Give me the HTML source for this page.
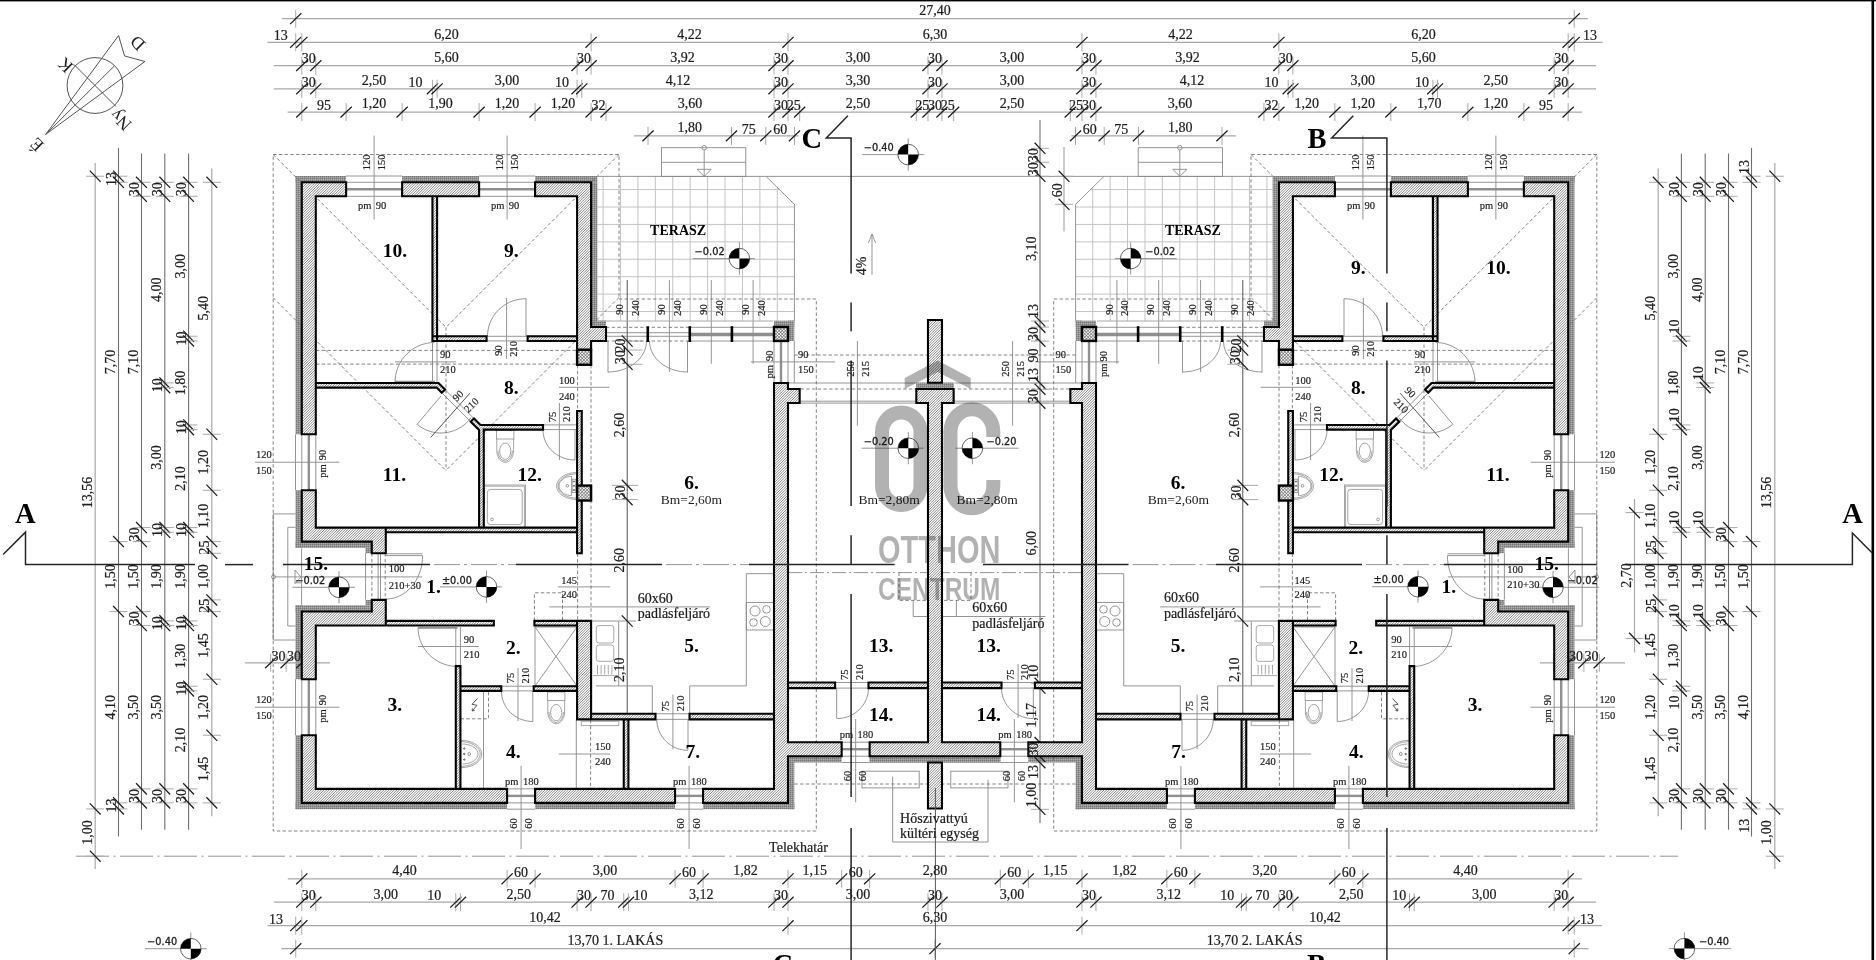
<!DOCTYPE html>
<html lang="hu"><head><meta charset="utf-8"><title>Alaprajz</title>
<style>
html,body{margin:0;padding:0;background:#fff;}
body{width:1876px;height:960px;overflow:hidden;font-family:"Liberation Serif",serif;}
svg{display:block;position:absolute;left:0;top:0;}
text{font-family:"Liberation Serif",serif;fill:#1e1e1e;}
.d{font-size:14px;stroke:#1e1e1e;stroke-width:0.22px;}
.s{font-size:10.5px;stroke:#1e1e1e;stroke-width:0.18px;}
.r{font-size:19.5px;font-weight:bold;fill:#000;}
.R{font-size:28.5px;font-weight:bold;fill:#000;}
.b{font-size:14px;font-weight:bold;fill:#000;}
.bm{font-size:13.5px;}
.lv{font-family:"DejaVu Sans",sans-serif;font-size:9.8px;fill:#222;stroke:#222;stroke-width:0.3px;}
.cp{font-size:18px;}
.t{fill:none;stroke:#8a8a8a;stroke-width:0.9;}
.tl{fill:none;stroke:#a8a8a8;stroke-width:1;}
.tg{fill:none;stroke:#c4c4c4;stroke-width:1;}
.tf{fill:none;stroke:#8e8e8e;stroke-width:0.8;}
.tk{fill:none;stroke:#555;stroke-width:1;}
.gl{fill:none;stroke:#8f8f8f;stroke-width:2.4;}
.dl{fill:none;stroke:#a9a9a9;stroke-width:1.2;}
.dd{fill:none;stroke:#707070;stroke-width:1.1;}
.ex{fill:none;stroke:#aaa;stroke-width:1;}
.sl{fill:none;stroke:#1c1c1c;stroke-width:1.25;}
.da{fill:none;stroke:#666;stroke-width:0.8;stroke-dasharray:3.4 2.3;}
.dc{fill:none;stroke:#8a8a8a;stroke-width:0.9;stroke-dasharray:14 3 2 3;}
.w{fill:none;stroke:#000;stroke-width:2.1;stroke-linejoin:miter;}
.hl{fill:none;stroke:#7c7c7c;stroke-width:0.9;}
.col{fill:url(#x);stroke:#000;stroke-width:2.4;}
.ins{fill:url(#i);stroke:none;}
.sec{fill:none;stroke:#262626;stroke-width:1.5;}
.blk{fill:#000;stroke:none;}
.mu{fill:none;stroke:#000;stroke-width:2.6;}
#wm text{fill:#000;stroke:none;}
</style></head><body>
<svg width="1876" height="960" viewBox="0 0 1876 960">
<defs>
<pattern id="h" patternUnits="userSpaceOnUse" width="1.5" height="1.5" patternTransform="rotate(-45)">
<rect width="1.5" height="1.5" fill="#fff"/><rect width="1.5" height="0.7" fill="#777"/></pattern>
<pattern id="x" patternUnits="userSpaceOnUse" width="2.3" height="2.3" patternTransform="rotate(45)">
<rect width="2.3" height="2.3" fill="#f6f6f6"/><rect width="2.3" height="0.6" fill="#6a6a6a"/><rect width="0.6" height="2.3" fill="#6a6a6a"/></pattern>
<pattern id="i" patternUnits="userSpaceOnUse" width="2" height="2">
<rect width="2" height="2" fill="#939393"/><rect width="1" height="1" fill="#787878"/><rect x="1" y="1" width="1" height="1" fill="#acacac"/></pattern>
<clipPath id="wc"><path d="M346.13 182.3 L301.8 182.3 L301.8 434.26 L315.8 434.26 L315.8 196.3 L346.13 196.3Z M402.12 182.3 L479.11 182.3 L479.11 196.3 L402.12 196.3Z M535.1 182.3 L591.09 182.3 L591.09 326.95 L606.02 326.95 L606.02 340.94 L591.09 340.94 L591.09 349.81 L577.09 349.81 L577.09 196.3 L535.1 196.3Z M301.8 490.26 L315.8 490.26 L315.8 527.58 L385.79 527.58 L385.79 553.25 L371.79 553.25 L371.79 541.58 L301.8 541.58Z M301.8 611.57 L371.79 611.57 L371.79 599.91 L385.79 599.91 L385.79 625.57 L315.8 625.57 L315.8 679.23 L301.8 679.23Z M301.8 735.22 L315.8 735.22 L315.8 788.88 L507.1 788.88 L507.1 802.88 L301.8 802.88Z M535.1 788.88 L675.08 788.88 L675.08 802.88 L535.1 802.88Z M703.08 788.88 L774 788.88 L774 382.94 L788 382.94 L788 389 L799.66 389 L799.66 403 L788 403 L788 742.22 L841.66 742.22 L841.66 756.22 L788 756.22 L788 802.88 L703.08 802.88Z M577.09 620.9 L591.09 620.9 L591.09 719.36 L577.09 719.36Z M432.45 196.3 L437.11 196.3 L437.11 340.94 L432.45 340.94Z M432.45 336.28 L486.57 336.28 L486.57 340.94 L432.45 340.94Z M527.63 336.28 L577.09 336.28 L577.09 340.94 L527.63 340.94Z M315.8 382.94 L438.51 382.94 L445.05 389.47 L441.78 392.74 L436.65 387.6 L315.8 387.6Z M470.71 421.67 L473.98 418.4 L480.51 424.93 L543.03 424.93 L543.03 429.6 L483.77 429.6 L483.77 527.58 L479.11 527.58 L479.11 430.06Z M577.09 410.93 L581.76 410.93 L581.76 553.25 L577.09 553.25Z M385.79 527.58 L577.09 527.58 L577.09 532.25 L385.79 532.25Z M385.79 620.9 L493.81 620.9 L493.81 625.57 L385.79 625.57Z M534.4 620.9 L577.09 620.9 L577.09 625.57 L534.4 625.57Z M455.78 666.16 L460.44 666.16 L460.44 788.88 L455.78 788.88Z M460.44 686.23 L501.27 686.23 L501.27 690.89 L460.44 690.89Z M533.7 686.23 L577.09 686.23 L577.09 690.89 L533.7 690.89Z M591.09 713.76 L655.48 713.76 L655.48 719.36 L591.09 719.36Z M689.54 713.76 L774 713.76 L774 719.36 L689.54 719.36Z M623.75 719.36 L628.42 719.36 L628.42 788.88 L623.75 788.88Z M788 682.5 L835.12 682.5 L835.12 688.09 L788 688.09Z M868.49 682.5 L927.98 682.5 L927.98 688.09 L868.49 688.09Z M1523.87 182.3 L1568.2 182.3 L1568.2 434.26 L1554.2 434.26 L1554.2 196.3 L1523.87 196.3Z M1467.88 182.3 L1390.89 182.3 L1390.89 196.3 L1467.88 196.3Z M1334.9 182.3 L1278.91 182.3 L1278.91 326.95 L1263.98 326.95 L1263.98 340.94 L1278.91 340.94 L1278.91 349.81 L1292.91 349.81 L1292.91 196.3 L1334.9 196.3Z M1568.2 490.26 L1554.2 490.26 L1554.2 527.58 L1484.21 527.58 L1484.21 553.25 L1498.21 553.25 L1498.21 541.58 L1568.2 541.58Z M1568.2 611.57 L1498.21 611.57 L1498.21 599.91 L1484.21 599.91 L1484.21 625.57 L1554.2 625.57 L1554.2 679.23 L1568.2 679.23Z M1568.2 735.22 L1554.2 735.22 L1554.2 788.88 L1362.9 788.88 L1362.9 802.88 L1568.2 802.88Z M1334.9 788.88 L1194.92 788.88 L1194.92 802.88 L1334.9 802.88Z M1166.92 788.88 L1096 788.88 L1096 382.94 L1082 382.94 L1082 389 L1070.34 389 L1070.34 403 L1082 403 L1082 742.22 L1028.34 742.22 L1028.34 756.22 L1082 756.22 L1082 802.88 L1166.92 802.88Z M1292.91 620.9 L1278.91 620.9 L1278.91 719.36 L1292.91 719.36Z M1437.55 196.3 L1432.89 196.3 L1432.89 340.94 L1437.55 340.94Z M1437.55 336.28 L1383.43 336.28 L1383.43 340.94 L1437.55 340.94Z M1342.37 336.28 L1292.91 336.28 L1292.91 340.94 L1342.37 340.94Z M1554.2 382.94 L1431.49 382.94 L1424.95 389.47 L1428.22 392.74 L1433.35 387.6 L1554.2 387.6Z M1399.29 421.67 L1396.02 418.4 L1389.49 424.93 L1326.97 424.93 L1326.97 429.6 L1386.23 429.6 L1386.23 527.58 L1390.89 527.58 L1390.89 430.06Z M1292.91 410.93 L1288.24 410.93 L1288.24 553.25 L1292.91 553.25Z M1484.21 527.58 L1292.91 527.58 L1292.91 532.25 L1484.21 532.25Z M1484.21 620.9 L1376.19 620.9 L1376.19 625.57 L1484.21 625.57Z M1335.6 620.9 L1292.91 620.9 L1292.91 625.57 L1335.6 625.57Z M1414.22 666.16 L1409.56 666.16 L1409.56 788.88 L1414.22 788.88Z M1409.56 686.23 L1368.73 686.23 L1368.73 690.89 L1409.56 690.89Z M1336.3 686.23 L1292.91 686.23 L1292.91 690.89 L1336.3 690.89Z M1278.91 713.76 L1214.52 713.76 L1214.52 719.36 L1278.91 719.36Z M1180.46 713.76 L1096 713.76 L1096 719.36 L1180.46 719.36Z M1246.25 719.36 L1241.58 719.36 L1241.58 788.88 L1246.25 788.88Z M1082 682.5 L1034.88 682.5 L1034.88 688.09 L1082 688.09Z M1001.51 682.5 L942.02 682.5 L942.02 688.09 L1001.51 688.09Z M869.65 742.22 L927.98 742.22 L927.98 403 L916.31 403 L916.31 389 L953.64 389 L953.64 403 L941.98 403 L941.98 742.22 L1000.3 742.22 L1000.3 756.22 L869.65 756.22Z M927.98 319.95 L941.98 319.95 L941.98 382.7 L927.98 382.7Z M927.98 762.52 L941.98 762.52 L941.98 808.48 L927.98 808.48Z"/></clipPath></defs>
<rect x="0" y="0" width="1876" height="960" fill="#fff"/>
<g id="grid">
<line x1="603.1" y1="176.4" x2="603.1" y2="321" class="tg"/>
<line x1="620.52" y1="176.4" x2="620.52" y2="321" class="tg"/>
<line x1="637.94" y1="176.4" x2="637.94" y2="321" class="tg"/>
<line x1="655.36" y1="176.4" x2="655.36" y2="321" class="tg"/>
<line x1="672.78" y1="176.4" x2="672.78" y2="321" class="tg"/>
<line x1="690.2" y1="176.4" x2="690.2" y2="321" class="tg"/>
<line x1="707.62" y1="176.4" x2="707.62" y2="321" class="tg"/>
<line x1="725.04" y1="176.4" x2="725.04" y2="321" class="tg"/>
<line x1="742.46" y1="176.4" x2="742.46" y2="321" class="tg"/>
<line x1="759.88" y1="176.4" x2="759.88" y2="321" class="tg"/>
<line x1="777.3" y1="187.6" x2="777.3" y2="321" class="tg"/>
<line x1="597.39" y1="189.6" x2="779.3" y2="189.6" class="tg"/>
<line x1="597.39" y1="207.02" x2="794.4" y2="207.02" class="tg"/>
<line x1="597.39" y1="224.44" x2="794.4" y2="224.44" class="tg"/>
<line x1="597.39" y1="241.86" x2="794.4" y2="241.86" class="tg"/>
<line x1="597.39" y1="259.28" x2="794.4" y2="259.28" class="tg"/>
<line x1="597.39" y1="276.7" x2="794.4" y2="276.7" class="tg"/>
<line x1="597.39" y1="294.12" x2="794.4" y2="294.12" class="tg"/>
<line x1="597.39" y1="311.54" x2="794.4" y2="311.54" class="tg"/>
<line x1="1266.9" y1="176.4" x2="1266.9" y2="321" class="tg"/>
<line x1="1249.48" y1="176.4" x2="1249.48" y2="321" class="tg"/>
<line x1="1232.06" y1="176.4" x2="1232.06" y2="321" class="tg"/>
<line x1="1214.64" y1="176.4" x2="1214.64" y2="321" class="tg"/>
<line x1="1197.22" y1="176.4" x2="1197.22" y2="321" class="tg"/>
<line x1="1179.8" y1="176.4" x2="1179.8" y2="321" class="tg"/>
<line x1="1162.38" y1="176.4" x2="1162.38" y2="321" class="tg"/>
<line x1="1144.96" y1="176.4" x2="1144.96" y2="321" class="tg"/>
<line x1="1127.54" y1="176.4" x2="1127.54" y2="321" class="tg"/>
<line x1="1110.12" y1="176.4" x2="1110.12" y2="321" class="tg"/>
<line x1="1092.7" y1="187.6" x2="1092.7" y2="321" class="tg"/>
<line x1="1272.61" y1="189.6" x2="1090.7" y2="189.6" class="tg"/>
<line x1="1272.61" y1="207.02" x2="1075.6" y2="207.02" class="tg"/>
<line x1="1272.61" y1="224.44" x2="1075.6" y2="224.44" class="tg"/>
<line x1="1272.61" y1="241.86" x2="1075.6" y2="241.86" class="tg"/>
<line x1="1272.61" y1="259.28" x2="1075.6" y2="259.28" class="tg"/>
<line x1="1272.61" y1="276.7" x2="1075.6" y2="276.7" class="tg"/>
<line x1="1272.61" y1="294.12" x2="1075.6" y2="294.12" class="tg"/>
<line x1="1272.61" y1="311.54" x2="1075.6" y2="311.54" class="tg"/>
</g>
<g id="ins">
<rect x="295.5" y="176" width="50.63" height="6.3" class="ins"/>
<rect x="402.12" y="176" width="76.99" height="6.3" class="ins"/>
<rect x="535.1" y="176" width="62.29" height="6.3" class="ins"/>
<rect x="295.5" y="176" width="6.3" height="258.26" class="ins"/>
<rect x="591.09" y="182.3" width="6.3" height="144.65" class="ins"/>
<rect x="591.09" y="320.65" width="14.93" height="6.3" class="ins"/>
<rect x="295.5" y="490.26" width="6.3" height="57.63" class="ins"/>
<rect x="295.5" y="541.58" width="76.29" height="6.3" class="ins"/>
<rect x="365.49" y="547.88" width="6.3" height="5.37" class="ins"/>
<rect x="295.5" y="605.27" width="76.29" height="6.3" class="ins"/>
<rect x="365.49" y="599.91" width="6.3" height="5.37" class="ins"/>
<rect x="295.5" y="605.27" width="6.3" height="73.96" class="ins"/>
<rect x="295.5" y="735.22" width="6.3" height="73.96" class="ins"/>
<rect x="295.5" y="802.88" width="211.6" height="6.3" class="ins"/>
<rect x="535.1" y="802.88" width="139.98" height="6.3" class="ins"/>
<rect x="703.08" y="802.88" width="91.22" height="6.3" class="ins"/>
<rect x="788" y="756.22" width="6.3" height="52.96" class="ins"/>
<rect x="788" y="756.22" width="53.66" height="6.3" class="ins"/>
<rect x="869.65" y="756.22" width="58.33" height="6.3" class="ins"/>
<rect x="774" y="320.65" width="20.3" height="6.3" class="ins"/>
<rect x="788" y="320.65" width="6.3" height="20.3" class="ins"/>
<rect x="916.31" y="382.7" width="11.66" height="6.3" class="ins"/>
<rect x="1523.87" y="176" width="50.63" height="6.3" class="ins"/>
<rect x="1390.89" y="176" width="76.99" height="6.3" class="ins"/>
<rect x="1272.61" y="176" width="62.29" height="6.3" class="ins"/>
<rect x="1568.2" y="176" width="6.3" height="258.26" class="ins"/>
<rect x="1272.61" y="182.3" width="6.3" height="144.65" class="ins"/>
<rect x="1263.98" y="320.65" width="14.93" height="6.3" class="ins"/>
<rect x="1568.2" y="490.26" width="6.3" height="57.63" class="ins"/>
<rect x="1498.21" y="541.58" width="76.29" height="6.3" class="ins"/>
<rect x="1498.21" y="547.88" width="6.3" height="5.37" class="ins"/>
<rect x="1498.21" y="605.27" width="76.29" height="6.3" class="ins"/>
<rect x="1498.21" y="599.91" width="6.3" height="5.37" class="ins"/>
<rect x="1568.2" y="605.27" width="6.3" height="73.96" class="ins"/>
<rect x="1568.2" y="735.22" width="6.3" height="73.96" class="ins"/>
<rect x="1362.9" y="802.88" width="211.6" height="6.3" class="ins"/>
<rect x="1194.92" y="802.88" width="139.98" height="6.3" class="ins"/>
<rect x="1075.7" y="802.88" width="91.22" height="6.3" class="ins"/>
<rect x="1075.7" y="756.22" width="6.3" height="52.96" class="ins"/>
<rect x="1028.34" y="756.22" width="53.66" height="6.3" class="ins"/>
<rect x="942.02" y="756.22" width="58.33" height="6.3" class="ins"/>
<rect x="1075.7" y="320.65" width="20.3" height="6.3" class="ins"/>
<rect x="1075.7" y="320.65" width="6.3" height="20.3" class="ins"/>
<rect x="942.02" y="382.7" width="11.66" height="6.3" class="ins"/>
<rect x="916.31" y="382.7" width="37.33" height="6.3" class="ins"/>
<rect x="869.65" y="756.22" width="130.65" height="6.3" class="ins"/>
</g>
<g id="thin">
<line x1="346.13" y1="176" x2="402.12" y2="176" class="t"/>
<line x1="346.13" y1="182.3" x2="402.12" y2="182.3" class="t"/>
<line x1="346.13" y1="196.3" x2="402.12" y2="196.3" class="t"/>
<line x1="346.13" y1="189.3" x2="402.12" y2="189.3" class="gl"/>
<line x1="479.11" y1="176" x2="535.1" y2="176" class="t"/>
<line x1="479.11" y1="182.3" x2="535.1" y2="182.3" class="t"/>
<line x1="479.11" y1="196.3" x2="535.1" y2="196.3" class="t"/>
<line x1="479.11" y1="189.3" x2="535.1" y2="189.3" class="gl"/>
<line x1="295.5" y1="434.26" x2="295.5" y2="490.26" class="t"/>
<line x1="301.8" y1="434.26" x2="301.8" y2="490.26" class="t"/>
<line x1="315.8" y1="434.26" x2="315.8" y2="490.26" class="t"/>
<line x1="308.8" y1="434.26" x2="308.8" y2="490.26" class="gl"/>
<line x1="295.5" y1="679.23" x2="295.5" y2="735.22" class="t"/>
<line x1="301.8" y1="679.23" x2="301.8" y2="735.22" class="t"/>
<line x1="315.8" y1="679.23" x2="315.8" y2="735.22" class="t"/>
<line x1="308.8" y1="679.23" x2="308.8" y2="735.22" class="gl"/>
<line x1="507.1" y1="809.18" x2="535.1" y2="809.18" class="t"/>
<line x1="507.1" y1="802.88" x2="535.1" y2="802.88" class="t"/>
<line x1="507.1" y1="788.88" x2="535.1" y2="788.88" class="t"/>
<line x1="507.1" y1="795.88" x2="535.1" y2="795.88" class="gl"/>
<line x1="675.08" y1="809.18" x2="703.08" y2="809.18" class="t"/>
<line x1="675.08" y1="802.88" x2="703.08" y2="802.88" class="t"/>
<line x1="675.08" y1="788.88" x2="703.08" y2="788.88" class="t"/>
<line x1="675.08" y1="795.88" x2="703.08" y2="795.88" class="gl"/>
<line x1="841.66" y1="762.52" x2="869.65" y2="762.52" class="t"/>
<line x1="841.66" y1="756.22" x2="869.65" y2="756.22" class="t"/>
<line x1="841.66" y1="742.22" x2="869.65" y2="742.22" class="t"/>
<line x1="841.66" y1="749.22" x2="869.65" y2="749.22" class="gl"/>
<line x1="794.3" y1="340.94" x2="794.3" y2="382.94" class="t"/>
<line x1="788" y1="340.94" x2="788" y2="382.94" class="t"/>
<line x1="774" y1="340.94" x2="774" y2="382.94" class="t"/>
<line x1="781" y1="340.94" x2="781" y2="382.94" class="gl"/>
<line x1="374.12" y1="135.6" x2="374.12" y2="219.5" class="t"/>
<line x1="507.1" y1="135.6" x2="507.1" y2="219.5" class="t"/>
<line x1="255" y1="462.26" x2="339.4" y2="462.26" class="t"/>
<line x1="255" y1="707.22" x2="339.4" y2="707.22" class="t"/>
<line x1="521.1" y1="765.8" x2="521.1" y2="849" class="t"/>
<line x1="689.08" y1="766" x2="689.08" y2="849" class="t"/>
<line x1="855.65" y1="719" x2="855.65" y2="802.3" class="t"/>
<line x1="751" y1="361.9" x2="835" y2="361.9" class="t"/>
<line x1="689.8" y1="327.3" x2="774" y2="327.3" class="t"/>
<line x1="689.8" y1="341" x2="774" y2="341" class="t"/>
<line x1="606.02" y1="332.7" x2="689.8" y2="332.7" class="t"/>
<line x1="606.02" y1="336.3" x2="689.8" y2="336.3" class="t"/>
<line x1="689.8" y1="334.5" x2="774" y2="334.5" class="gl" style="stroke-width:3.4"/>
<line x1="627.2" y1="280" x2="627.2" y2="718.6" class="tk"/>
<line x1="669.4" y1="280" x2="669.4" y2="372" class="t"/>
<line x1="711.3" y1="280" x2="711.3" y2="363.8" class="t"/>
<line x1="753.1" y1="280" x2="753.1" y2="363.8" class="t"/>
<line x1="608" y1="341" x2="608" y2="372.5" class="t"/>
<polyline points="608,372 611.36,371.88 614.69,371.53 617.96,370.94 621.17,370.13 624.27,369.1 627.25,367.85 630.08,366.39 632.75,364.75 635.22,362.92 637.49,360.93 639.54,358.78 641.34,356.5 642.89,354.1 644.18,351.6 645.19,349.02 645.92,346.38 646.35,343.7 646.5,341" class="t"/>
<line x1="687.5" y1="341" x2="687.5" y2="372.5" class="t"/>
<polyline points="687.5,372 684.19,371.88 680.9,371.53 677.66,370.94 674.5,370.13 671.44,369.1 668.5,367.85 665.7,366.39 663.07,364.75 660.63,362.92 658.39,360.93 656.37,358.78 654.59,356.5 653.06,354.1 651.79,351.6 650.79,349.02 650.08,346.38 649.64,343.7 649.5,341" class="t"/>
<line x1="486.9" y1="336.3" x2="527.5" y2="336.3" class="t"/>
<line x1="486.9" y1="340.9" x2="527.5" y2="340.9" class="t"/>
<line x1="526" y1="298.7" x2="526" y2="336" class="t"/>
<polyline points="526,298.7 522.64,298.84 519.31,299.27 516.04,299.98 512.83,300.97 509.73,302.22 506.75,303.74 503.92,305.5 501.25,307.5 498.78,309.71 496.51,312.13 494.46,314.73 492.66,317.5 491.11,320.41 489.82,323.44 488.81,326.57 488.08,329.77 487.65,333.02 487.5,336.3" class="t"/>
<line x1="506.6" y1="298" x2="506.6" y2="359" class="t"/>
<line x1="432.5" y1="341" x2="432.5" y2="383" class="t"/>
<line x1="437" y1="341" x2="437" y2="383" class="t"/>
<line x1="395" y1="381.6" x2="435" y2="381.6" class="gl" style="stroke-width:1.8"/>
<polyline points="395,382.5 395.15,379.01 395.6,375.55 396.35,372.15 397.38,368.82 398.7,365.6 400.29,362.5 402.14,359.56 404.24,356.79 406.57,354.22 409.11,351.86 411.84,349.73 414.75,347.86 417.81,346.25 420.99,344.91 424.28,343.86 427.64,343.11 431.06,342.65 434.5,342.5" class="t"/>
<line x1="395" y1="361.9" x2="456" y2="361.9" class="t"/>
<line x1="443" y1="394" x2="473" y2="424" class="t"/>
<line x1="446.2" y1="390.8" x2="476.2" y2="420.8" class="t"/>
<line x1="441" y1="396" x2="417" y2="424.4" class="t"/>
<polyline points="417.22,424.34 419.9,426.39 422.75,428.19 425.75,429.71 428.89,430.96 432.12,431.92 435.42,432.58 438.78,432.93 442.15,432.98 445.51,432.72 448.83,432.16 452.09,431.3 455.26,430.14 458.31,428.7 461.21,426.99 463.95,425.02 466.5,422.81 468.83,420.38 470.93,417.75" class="t"/>
<line x1="470" y1="393.1" x2="430.6" y2="437.5" class="tk"/>
<line x1="543.1" y1="424.9" x2="576" y2="424.9" class="t"/>
<line x1="543.1" y1="429.6" x2="576" y2="429.6" class="t"/>
<line x1="575" y1="430" x2="575" y2="460" class="t"/>
<polyline points="575,460 572.21,459.89 569.44,459.54 566.72,458.98 564.06,458.19 561.48,457.19 559,455.98 556.65,454.57 554.43,452.98 552.37,451.21 550.49,449.28 548.79,447.21 547.29,445 546,442.68 544.93,440.26 544.09,437.76 543.49,435.21 543.12,432.61 543,430" class="t"/>
<line x1="559.4" y1="403" x2="559.4" y2="460" class="t"/>
<line x1="559" y1="387.3" x2="609.3" y2="387.3" class="t"/>
<line x1="365.6" y1="553.2" x2="365.6" y2="599.6" class="t"/>
<line x1="378.1" y1="553.2" x2="378.1" y2="599.6" class="t"/>
<line x1="380.5" y1="553.2" x2="380.5" y2="599.6" class="t"/>
<line x1="385.6" y1="553.8" x2="422.5" y2="553.8" class="t"/>
<line x1="385.6" y1="555.6" x2="422.5" y2="555.6" class="t"/>
<polyline points="422.6,555.6 422.46,559.39 422.04,563.15 421.34,566.86 420.37,570.48 419.13,573.98 417.64,577.35 415.91,580.55 413.94,583.56 411.76,586.36 409.38,588.92 406.82,591.23 404.1,593.27 401.24,595.02 398.25,596.48 395.18,597.62 392.02,598.44 388.82,598.93 385.6,599.1" class="t"/>
<line x1="273.5" y1="576.9" x2="422" y2="576.9" class="t"/>
<line x1="455.8" y1="627" x2="455.8" y2="666" class="t"/>
<line x1="460.4" y1="627" x2="460.4" y2="666" class="t"/>
<line x1="418" y1="627.8" x2="457.6" y2="627.8" class="gl" style="stroke-width:1.8"/>
<polyline points="418,627.5 418.15,630.9 418.6,634.27 419.35,637.59 420.39,640.84 421.71,643.98 423.31,647 425.16,649.87 427.26,652.57 429.6,655.08 432.15,657.38 434.89,659.45 437.8,661.27 440.86,662.85 444.06,664.15 447.35,665.17 450.72,665.91 454.15,666.35 457.6,666.5" class="t"/>
<line x1="418" y1="646.5" x2="478.8" y2="646.5" class="t"/>
<line x1="501.3" y1="686.2" x2="533.8" y2="686.2" class="t"/>
<line x1="501.3" y1="690.9" x2="533.8" y2="690.9" class="t"/>
<line x1="532.8" y1="691" x2="532.8" y2="721.5" class="t"/>
<polyline points="532.8,721.5 530.07,721.39 527.36,721.04 524.7,720.48 522.09,719.69 519.57,718.69 517.15,717.48 514.85,716.07 512.68,714.48 510.67,712.71 508.82,710.78 507.16,708.71 505.69,706.5 504.43,704.18 503.39,701.76 502.57,699.26 501.98,696.71 501.62,694.11 501.5,691.5" class="t"/>
<line x1="518" y1="668" x2="518" y2="721" class="t"/>
<line x1="558" y1="586.9" x2="610" y2="586.9" class="t"/>
<line x1="655.5" y1="713.76" x2="689.6" y2="713.76" class="t"/>
<line x1="655.5" y1="719.36" x2="689.6" y2="719.36" class="t"/>
<line x1="688" y1="719.36" x2="688" y2="750" class="t"/>
<polyline points="688,750.36 685.28,750.24 682.58,749.89 679.92,749.3 677.33,748.49 674.81,747.45 672.4,746.2 670.1,744.75 667.95,743.1 665.94,741.28 664.1,739.28 662.44,737.14 660.98,734.86 659.72,732.46 658.68,729.96 657.86,727.38 657.27,724.74 656.92,722.06 656.8,719.36" class="t"/>
<line x1="672.9" y1="694.6" x2="672.9" y2="749.2" class="t"/>
<line x1="835.2" y1="682.5" x2="868.5" y2="682.5" class="t"/>
<line x1="835.2" y1="688.09" x2="868.5" y2="688.09" class="t"/>
<line x1="836.7" y1="688.09" x2="836.7" y2="718.2" class="t"/>
<polyline points="836.7,718.59 839.47,718.48 842.22,718.13 844.93,717.56 847.58,716.76 850.14,715.74 852.6,714.51 854.94,713.08 857.14,711.46 859.19,709.66 861.06,707.7 862.75,705.59 864.24,703.34 865.52,700.98 866.58,698.53 867.42,695.99 868.02,693.39 868.38,690.75 868.5,688.09" class="t"/>
<line x1="558.8" y1="754" x2="610" y2="754" class="t"/>
<line x1="576.3" y1="720" x2="576.3" y2="789" class="t"/>
<rect x="581.3" y="721.3" width="37.5" height="4.3" class="tl"/>
<line x1="483.5" y1="692" x2="483.5" y2="789" class="t"/>
<polyline points="477.5,698.5 472,704.3 477,705.3 472.2,711" class="tk"/>
<polyline points="474.6,710.4 472.2,711 472.4,708.4" class="tk"/>
<rect x="535" y="627" width="42" height="59" class="t"/>
<line x1="535" y1="627" x2="577" y2="686" class="t"/>
<line x1="577" y1="627" x2="535" y2="686" class="t"/>
<line x1="549.4" y1="606.9" x2="710" y2="606.9" class="t"/>
<line x1="592" y1="621" x2="636" y2="621" class="t"/>
<line x1="627.2" y1="341" x2="642.5" y2="341" class="ex"/>
<line x1="627.2" y1="350" x2="642.5" y2="350" class="ex"/>
<line x1="627.2" y1="364.3" x2="642.5" y2="364.3" class="ex"/>
<line x1="612" y1="485.4" x2="638" y2="485.4" class="ex"/>
<line x1="612" y1="499.6" x2="638" y2="499.6" class="ex"/>
<polyline points="618.7,621.4 618.7,685.9" class="t"/>
<polyline points="596,685.9 652.3,685.9 652.3,713.5" class="t"/>
<polyline points="689.7,713.5 689.7,685.9 746.3,685.9 746.3,573.7 774.5,573.7" class="t"/>
<rect x="746.3" y="602.4" width="28.2" height="27.6" class="t"/>
<ellipse cx="755" cy="611" rx="5" ry="5" class="t"/>
<ellipse cx="766.5" cy="609.4" rx="3.8" ry="3.8" class="t"/>
<ellipse cx="753.5" cy="622.5" rx="3.8" ry="3.8" class="t"/>
<ellipse cx="765.3" cy="621.5" rx="5" ry="5" class="t"/>
<rect x="596.3" y="625.6" width="17.5" height="17.4" class="tl" rx="2.5"/>
<rect x="596.3" y="645" width="17.5" height="16.3" class="tl" rx="2.5"/>
<line x1="597.5" y1="665" x2="597.5" y2="674.4" class="tl"/>
<line x1="601.1" y1="665" x2="601.1" y2="674.4" class="tl"/>
<line x1="604.7" y1="665" x2="604.7" y2="674.4" class="tl"/>
<line x1="608.3" y1="665" x2="608.3" y2="674.4" class="tl"/>
<line x1="611.9" y1="665" x2="611.9" y2="674.4" class="tl"/>
<line x1="593" y1="675.6" x2="618" y2="675.6" class="tl"/>
<rect x="496.5" y="430.6" width="17.4" height="8.4" class="tf"/>
<line x1="496.8" y1="439" x2="496.8" y2="450.6" class="tf"/>
<line x1="513.6" y1="439" x2="513.6" y2="450.6" class="tf"/>
<polyline points="513.6,450.6 513.47,452.63 513.09,454.6 512.47,456.45 511.63,458.12 510.6,459.56 509.4,460.73 508.07,461.59 506.66,462.12 505.2,462.3 503.74,462.12 502.33,461.59 501,460.73 499.8,459.56 498.77,458.12 497.93,456.45 497.31,454.6 496.93,452.63 496.8,450.6" class="tf"/>
<polyline points="512.4,450.6 512.29,452.41 511.97,454.16 511.44,455.8 510.72,457.28 509.83,458.57 508.8,459.61 507.66,460.37 506.45,460.84 505.2,461 503.95,460.84 502.74,460.37 501.6,459.61 500.57,458.57 499.68,457.28 498.96,455.8 498.43,454.16 498.11,452.41 498,450.6" class="tf"/>
<ellipse cx="505.2" cy="451.2" rx="5.6" ry="8.2" class="tf"/>
<rect x="547.5" y="692" width="17.4" height="8.4" class="tf"/>
<line x1="547.8" y1="700.4" x2="547.8" y2="712" class="tf"/>
<line x1="564.6" y1="700.4" x2="564.6" y2="712" class="tf"/>
<polyline points="564.6,712 564.47,714.03 564.09,716 563.47,717.85 562.63,719.52 561.6,720.96 560.4,722.13 559.07,722.99 557.66,723.52 556.2,723.7 554.74,723.52 553.33,722.99 552,722.13 550.8,720.96 549.77,719.52 548.93,717.85 548.31,716 547.93,714.03 547.8,712" class="tf"/>
<polyline points="563.4,712 563.29,713.81 562.97,715.56 562.44,717.2 561.72,718.68 560.83,719.97 559.8,721.01 558.66,721.77 557.45,722.24 556.2,722.4 554.95,722.24 553.74,721.77 552.6,721.01 551.57,719.97 550.68,718.68 549.96,717.2 549.43,715.56 549.11,713.81 549,712" class="tf"/>
<ellipse cx="556.2" cy="712.6" rx="5.6" ry="8.2" class="tf"/>
<rect x="484.6" y="485" width="41" height="42.4" class="tf"/>
<line x1="484.6" y1="486.2" x2="524.4" y2="486.2" class="tf"/>
<line x1="524.4" y1="486.2" x2="524.4" y2="527.4" class="tf"/>
<rect x="487.4" y="489.4" width="34.8" height="35.2" class="tf" rx="3"/>
<ellipse cx="492" cy="519.4" rx="1.4" ry="1.4" class="tf"/>
<polyline points="576.3,499.4 572.88,499.2 569.56,498.59 566.45,497.6 563.64,496.26 561.21,494.61 559.24,492.7 557.79,490.58 556.9,488.33 556.6,486 556.9,483.67 557.79,481.42 559.24,479.3 561.21,477.39 563.64,475.74 566.45,474.4 569.56,473.41 572.88,472.8 576.3,472.6" class="tf"/>
<polyline points="576.3,498.1 573.14,497.92 570.08,497.37 567.2,496.48 564.6,495.27 562.36,493.78 560.54,492.05 559.2,490.14 558.38,488.1 558.1,486 558.38,483.9 559.2,481.86 560.54,479.95 562.36,478.22 564.6,476.73 567.2,475.52 570.08,474.63 573.14,474.08 576.3,473.9" class="tf"/>
<polyline points="571.5,495.6 569.35,495.45 567.26,495.02 565.3,494.31 563.53,493.35 562,492.17 560.76,490.8 559.85,489.28 559.29,487.67 559.1,486 559.29,484.33 559.85,482.72 560.76,481.2 562,479.83 563.53,478.65 565.3,477.69 567.26,476.98 569.35,476.55 571.5,476.4" class="tf"/>
<line x1="571.5" y1="476.4" x2="571.5" y2="495.6" class="tf"/>
<rect x="572.2" y="479.2" width="3.6" height="13.2" class="tf"/>
<ellipse cx="567.4" cy="485.8" rx="1.3" ry="1.3" class="t"/>
<ellipse cx="574" cy="481.5" rx="0.6" ry="0.6" class="tk"/>
<ellipse cx="574" cy="485.8" rx="0.6" ry="0.6" class="tk"/>
<ellipse cx="574" cy="490" rx="0.6" ry="0.6" class="tk"/>
<polyline points="460.8,740.3 464.45,740.51 467.98,741.13 471.3,742.14 474.3,743.51 476.89,745.19 478.99,747.15 480.53,749.31 481.48,751.62 481.8,754 481.48,756.38 480.53,758.69 478.99,760.85 476.89,762.81 474.3,764.49 471.3,765.86 467.98,766.87 464.45,767.49 460.8,767.7" class="tf"/>
<polyline points="460.8,741.6 464.17,741.79 467.44,742.35 470.5,743.26 473.27,744.5 475.66,746.03 477.6,747.8 479.03,749.76 479.91,751.85 480.2,754 479.91,756.15 479.03,758.24 477.6,760.2 475.66,761.97 473.27,763.5 470.5,764.74 467.44,765.65 464.17,766.21 460.8,766.4" class="tf"/>
<polyline points="462.5,744 465.19,744.15 467.8,744.6 470.25,745.34 472.46,746.34 474.37,747.57 475.92,749 477.07,750.58 477.76,752.26 478,754 477.76,755.74 477.07,757.42 475.92,759 474.37,760.43 472.46,761.66 470.25,762.66 467.8,763.4 465.19,763.85 462.5,764" class="tf"/>
<ellipse cx="469.2" cy="754" rx="1.3" ry="1.6" class="t"/>
<ellipse cx="464.3" cy="748.5" rx="0.7" ry="0.7" class="tk"/>
<ellipse cx="464.3" cy="754" rx="0.7" ry="0.7" class="tk"/>
<ellipse cx="464.3" cy="759.5" rx="0.7" ry="0.7" class="tk"/>
<line x1="788" y1="383" x2="915.6" y2="383" class="t"/>
<line x1="800.6" y1="401.2" x2="915.6" y2="401.2" class="t"/>
<line x1="800.6" y1="403.1" x2="915.6" y2="403.1" class="t"/>
<line x1="857.4" y1="341" x2="857.4" y2="425.8" class="t"/>
<line x1="788" y1="572.6" x2="935" y2="572.6" class="dc"/>
<polyline points="597.39,176.4 766.1,176.4 794.4,204.3 794.4,321" class="t"/>
<line x1="597.39" y1="321" x2="773" y2="321" class="tl"/>
<rect x="661.5" y="147.7" width="84.3" height="28.7" class="t"/>
<line x1="661.5" y1="162.3" x2="745.8" y2="162.3" class="t"/>
<ellipse cx="704.2" cy="147.7" rx="2.3" ry="2.3" class="t"/>
<line x1="704.2" y1="150" x2="704.2" y2="176.4" class="t"/>
<polygon points="697,169.3 711.2,169.3 704.2,176.4" class="t"/>
<polyline points="295.6,513.9 273.2,513.9 273.2,640 295.6,640" class="t"/>
<polyline points="295.6,527.3 287.8,527.3 287.8,626 295.6,626" class="t"/>
<ellipse cx="273.5" cy="576.9" rx="2" ry="2" class="t"/>
<line x1="301.6" y1="548.3" x2="301.6" y2="605.4" class="t"/>
<line x1="295" y1="582.8" x2="301" y2="582.8" class="t"/>
<polyline points="295,570 301,577 295,583.5 295,570" class="t"/>
<rect x="862" y="771.2" width="57.2" height="16.7" class="t"/>
<polyline points="892.7,776.6 892.7,842 988,842 988,779.7" class="t"/>
<line x1="1523.87" y1="176" x2="1467.88" y2="176" class="t"/>
<line x1="1523.87" y1="182.3" x2="1467.88" y2="182.3" class="t"/>
<line x1="1523.87" y1="196.3" x2="1467.88" y2="196.3" class="t"/>
<line x1="1523.87" y1="189.3" x2="1467.88" y2="189.3" class="gl"/>
<line x1="1390.89" y1="176" x2="1334.9" y2="176" class="t"/>
<line x1="1390.89" y1="182.3" x2="1334.9" y2="182.3" class="t"/>
<line x1="1390.89" y1="196.3" x2="1334.9" y2="196.3" class="t"/>
<line x1="1390.89" y1="189.3" x2="1334.9" y2="189.3" class="gl"/>
<line x1="1574.5" y1="434.26" x2="1574.5" y2="490.26" class="t"/>
<line x1="1568.2" y1="434.26" x2="1568.2" y2="490.26" class="t"/>
<line x1="1554.2" y1="434.26" x2="1554.2" y2="490.26" class="t"/>
<line x1="1561.2" y1="434.26" x2="1561.2" y2="490.26" class="gl"/>
<line x1="1574.5" y1="679.23" x2="1574.5" y2="735.22" class="t"/>
<line x1="1568.2" y1="679.23" x2="1568.2" y2="735.22" class="t"/>
<line x1="1554.2" y1="679.23" x2="1554.2" y2="735.22" class="t"/>
<line x1="1561.2" y1="679.23" x2="1561.2" y2="735.22" class="gl"/>
<line x1="1362.9" y1="809.18" x2="1334.9" y2="809.18" class="t"/>
<line x1="1362.9" y1="802.88" x2="1334.9" y2="802.88" class="t"/>
<line x1="1362.9" y1="788.88" x2="1334.9" y2="788.88" class="t"/>
<line x1="1362.9" y1="795.88" x2="1334.9" y2="795.88" class="gl"/>
<line x1="1194.92" y1="809.18" x2="1166.92" y2="809.18" class="t"/>
<line x1="1194.92" y1="802.88" x2="1166.92" y2="802.88" class="t"/>
<line x1="1194.92" y1="788.88" x2="1166.92" y2="788.88" class="t"/>
<line x1="1194.92" y1="795.88" x2="1166.92" y2="795.88" class="gl"/>
<line x1="1028.34" y1="762.52" x2="1000.35" y2="762.52" class="t"/>
<line x1="1028.34" y1="756.22" x2="1000.35" y2="756.22" class="t"/>
<line x1="1028.34" y1="742.22" x2="1000.35" y2="742.22" class="t"/>
<line x1="1028.34" y1="749.22" x2="1000.35" y2="749.22" class="gl"/>
<line x1="1075.7" y1="340.94" x2="1075.7" y2="382.94" class="t"/>
<line x1="1082" y1="340.94" x2="1082" y2="382.94" class="t"/>
<line x1="1096" y1="340.94" x2="1096" y2="382.94" class="t"/>
<line x1="1089" y1="340.94" x2="1089" y2="382.94" class="gl"/>
<line x1="1495.88" y1="135.6" x2="1495.88" y2="219.5" class="t"/>
<line x1="1362.9" y1="135.6" x2="1362.9" y2="219.5" class="t"/>
<line x1="1615" y1="462.26" x2="1530.6" y2="462.26" class="t"/>
<line x1="1615" y1="707.22" x2="1530.6" y2="707.22" class="t"/>
<line x1="1348.9" y1="765.8" x2="1348.9" y2="849" class="t"/>
<line x1="1180.92" y1="766" x2="1180.92" y2="849" class="t"/>
<line x1="1014.35" y1="719" x2="1014.35" y2="802.3" class="t"/>
<line x1="1119" y1="361.9" x2="1035" y2="361.9" class="t"/>
<line x1="1180.2" y1="327.3" x2="1096" y2="327.3" class="t"/>
<line x1="1180.2" y1="341" x2="1096" y2="341" class="t"/>
<line x1="1263.98" y1="332.7" x2="1180.2" y2="332.7" class="t"/>
<line x1="1263.98" y1="336.3" x2="1180.2" y2="336.3" class="t"/>
<line x1="1180.2" y1="334.5" x2="1096" y2="334.5" class="gl" style="stroke-width:3.4"/>
<line x1="1242.8" y1="280" x2="1242.8" y2="718.6" class="tk"/>
<line x1="1200.6" y1="280" x2="1200.6" y2="372" class="t"/>
<line x1="1158.7" y1="280" x2="1158.7" y2="363.8" class="t"/>
<line x1="1116.9" y1="280" x2="1116.9" y2="363.8" class="t"/>
<line x1="1262" y1="341" x2="1262" y2="372.5" class="t"/>
<polyline points="1262,372 1258.64,371.88 1255.31,371.53 1252.04,370.94 1248.83,370.13 1245.73,369.1 1242.75,367.85 1239.92,366.39 1237.25,364.75 1234.78,362.92 1232.51,360.93 1230.46,358.78 1228.66,356.5 1227.11,354.1 1225.82,351.6 1224.81,349.02 1224.08,346.38 1223.65,343.7 1223.5,341" class="t"/>
<line x1="1182.5" y1="341" x2="1182.5" y2="372.5" class="t"/>
<polyline points="1182.5,372 1185.81,371.88 1189.1,371.53 1192.34,370.94 1195.5,370.13 1198.56,369.1 1201.5,367.85 1204.3,366.39 1206.93,364.75 1209.37,362.92 1211.61,360.93 1213.63,358.78 1215.41,356.5 1216.94,354.1 1218.21,351.6 1219.21,349.02 1219.92,346.38 1220.36,343.7 1220.5,341" class="t"/>
<line x1="1383.1" y1="336.3" x2="1342.5" y2="336.3" class="t"/>
<line x1="1383.1" y1="340.9" x2="1342.5" y2="340.9" class="t"/>
<line x1="1344" y1="298.7" x2="1344" y2="336" class="t"/>
<polyline points="1344,298.7 1347.36,298.84 1350.69,299.27 1353.96,299.98 1357.17,300.97 1360.27,302.22 1363.25,303.74 1366.08,305.5 1368.75,307.5 1371.22,309.71 1373.49,312.13 1375.54,314.73 1377.34,317.5 1378.89,320.41 1380.18,323.44 1381.19,326.57 1381.92,329.77 1382.35,333.02 1382.5,336.3" class="t"/>
<line x1="1363.4" y1="298" x2="1363.4" y2="359" class="t"/>
<line x1="1437.5" y1="341" x2="1437.5" y2="383" class="t"/>
<line x1="1433" y1="341" x2="1433" y2="383" class="t"/>
<line x1="1475" y1="381.6" x2="1435" y2="381.6" class="gl" style="stroke-width:1.8"/>
<polyline points="1475,382.5 1474.85,379.01 1474.4,375.55 1473.65,372.15 1472.62,368.82 1471.3,365.6 1469.71,362.5 1467.86,359.56 1465.76,356.79 1463.43,354.22 1460.89,351.86 1458.16,349.73 1455.25,347.86 1452.19,346.25 1449.01,344.91 1445.72,343.86 1442.36,343.11 1438.94,342.65 1435.5,342.5" class="t"/>
<line x1="1475" y1="361.9" x2="1414" y2="361.9" class="t"/>
<line x1="1427" y1="394" x2="1397" y2="424" class="t"/>
<line x1="1423.8" y1="390.8" x2="1393.8" y2="420.8" class="t"/>
<line x1="1429" y1="396" x2="1453" y2="424.4" class="t"/>
<polyline points="1452.78,424.34 1450.1,426.39 1447.25,428.19 1444.25,429.71 1441.11,430.96 1437.88,431.92 1434.58,432.58 1431.22,432.93 1427.85,432.98 1424.49,432.72 1421.17,432.16 1417.91,431.3 1414.74,430.14 1411.69,428.7 1408.79,426.99 1406.05,425.02 1403.5,422.81 1401.17,420.38 1399.07,417.75" class="t"/>
<line x1="1400" y1="393.1" x2="1439.4" y2="437.5" class="tk"/>
<line x1="1326.9" y1="424.9" x2="1294" y2="424.9" class="t"/>
<line x1="1326.9" y1="429.6" x2="1294" y2="429.6" class="t"/>
<line x1="1295" y1="430" x2="1295" y2="460" class="t"/>
<polyline points="1295,460 1297.79,459.89 1300.56,459.54 1303.28,458.98 1305.94,458.19 1308.52,457.19 1311,455.98 1313.35,454.57 1315.57,452.98 1317.63,451.21 1319.51,449.28 1321.21,447.21 1322.71,445 1324,442.68 1325.07,440.26 1325.91,437.76 1326.51,435.21 1326.88,432.61 1327,430" class="t"/>
<line x1="1310.6" y1="403" x2="1310.6" y2="460" class="t"/>
<line x1="1311" y1="387.3" x2="1260.7" y2="387.3" class="t"/>
<line x1="1504.4" y1="553.2" x2="1504.4" y2="599.6" class="t"/>
<line x1="1491.9" y1="553.2" x2="1491.9" y2="599.6" class="t"/>
<line x1="1489.5" y1="553.2" x2="1489.5" y2="599.6" class="t"/>
<line x1="1484.4" y1="553.8" x2="1447.5" y2="553.8" class="t"/>
<line x1="1484.4" y1="555.6" x2="1447.5" y2="555.6" class="t"/>
<polyline points="1447.4,555.6 1447.54,559.39 1447.96,563.15 1448.66,566.86 1449.63,570.48 1450.87,573.98 1452.36,577.35 1454.09,580.55 1456.06,583.56 1458.24,586.36 1460.62,588.92 1463.18,591.23 1465.9,593.27 1468.76,595.02 1471.75,596.48 1474.82,597.62 1477.98,598.44 1481.18,598.93 1484.4,599.1" class="t"/>
<line x1="1545" y1="576.9" x2="1448" y2="576.9" class="t"/>
<line x1="1596.5" y1="576.9" x2="1575" y2="576.9" class="t"/>
<line x1="1414.2" y1="627" x2="1414.2" y2="666" class="t"/>
<line x1="1409.6" y1="627" x2="1409.6" y2="666" class="t"/>
<line x1="1452" y1="627.8" x2="1412.4" y2="627.8" class="gl" style="stroke-width:1.8"/>
<polyline points="1452,627.5 1451.85,630.9 1451.4,634.27 1450.65,637.59 1449.61,640.84 1448.29,643.98 1446.69,647 1444.84,649.87 1442.74,652.57 1440.4,655.08 1437.85,657.38 1435.11,659.45 1432.2,661.27 1429.14,662.85 1425.94,664.15 1422.65,665.17 1419.28,665.91 1415.85,666.35 1412.4,666.5" class="t"/>
<line x1="1452" y1="646.5" x2="1391.2" y2="646.5" class="t"/>
<line x1="1368.7" y1="686.2" x2="1336.2" y2="686.2" class="t"/>
<line x1="1368.7" y1="690.9" x2="1336.2" y2="690.9" class="t"/>
<line x1="1337.2" y1="691" x2="1337.2" y2="721.5" class="t"/>
<polyline points="1337.2,721.5 1339.93,721.39 1342.64,721.04 1345.3,720.48 1347.91,719.69 1350.43,718.69 1352.85,717.48 1355.15,716.07 1357.32,714.48 1359.33,712.71 1361.18,710.78 1362.84,708.71 1364.31,706.5 1365.57,704.18 1366.61,701.76 1367.43,699.26 1368.02,696.71 1368.38,694.11 1368.5,691.5" class="t"/>
<line x1="1352" y1="668" x2="1352" y2="721" class="t"/>
<line x1="1312" y1="586.9" x2="1260" y2="586.9" class="t"/>
<line x1="1214.5" y1="713.76" x2="1180.4" y2="713.76" class="t"/>
<line x1="1214.5" y1="719.36" x2="1180.4" y2="719.36" class="t"/>
<line x1="1182" y1="719.36" x2="1182" y2="750" class="t"/>
<polyline points="1182,750.36 1184.72,750.24 1187.42,749.89 1190.08,749.3 1192.67,748.49 1195.19,747.45 1197.6,746.2 1199.9,744.75 1202.05,743.1 1204.06,741.28 1205.9,739.28 1207.56,737.14 1209.02,734.86 1210.28,732.46 1211.32,729.96 1212.14,727.38 1212.73,724.74 1213.08,722.06 1213.2,719.36" class="t"/>
<line x1="1197.1" y1="694.6" x2="1197.1" y2="749.2" class="t"/>
<line x1="1034.8" y1="682.5" x2="1001.5" y2="682.5" class="t"/>
<line x1="1034.8" y1="688.09" x2="1001.5" y2="688.09" class="t"/>
<line x1="1033.3" y1="688.09" x2="1033.3" y2="718.2" class="t"/>
<polyline points="1033.3,718.59 1030.53,718.48 1027.78,718.13 1025.07,717.56 1022.42,716.76 1019.86,715.74 1017.4,714.51 1015.06,713.08 1012.86,711.46 1010.81,709.66 1008.94,707.7 1007.25,705.59 1005.76,703.34 1004.48,700.98 1003.42,698.53 1002.58,695.99 1001.98,693.39 1001.62,690.75 1001.5,688.09" class="t"/>
<line x1="1311.2" y1="754" x2="1260" y2="754" class="t"/>
<line x1="1293.7" y1="720" x2="1293.7" y2="789" class="t"/>
<rect x="1251.2" y="721.3" width="37.5" height="4.3" class="tl"/>
<line x1="1386.5" y1="692" x2="1386.5" y2="789" class="t"/>
<polyline points="1392.5,698.5 1398,704.3 1393,705.3 1397.8,711" class="tk"/>
<polyline points="1395.4,710.4 1397.8,711 1397.6,708.4" class="tk"/>
<rect x="1293" y="627" width="42" height="59" class="t"/>
<line x1="1335" y1="627" x2="1293" y2="686" class="t"/>
<line x1="1293" y1="627" x2="1335" y2="686" class="t"/>
<line x1="1320.6" y1="606.9" x2="1160" y2="606.9" class="t"/>
<line x1="1278" y1="621" x2="1234" y2="621" class="t"/>
<line x1="1242.8" y1="341" x2="1227.5" y2="341" class="ex"/>
<line x1="1242.8" y1="350" x2="1227.5" y2="350" class="ex"/>
<line x1="1242.8" y1="364.3" x2="1227.5" y2="364.3" class="ex"/>
<line x1="1258" y1="485.4" x2="1232" y2="485.4" class="ex"/>
<line x1="1258" y1="499.6" x2="1232" y2="499.6" class="ex"/>
<polyline points="1251.3,621.4 1251.3,685.9" class="t"/>
<polyline points="1274,685.9 1217.7,685.9 1217.7,713.5" class="t"/>
<polyline points="1180.3,713.5 1180.3,685.9 1123.7,685.9 1123.7,573.7 1095.5,573.7" class="t"/>
<rect x="1095.5" y="602.4" width="28.2" height="27.6" class="t"/>
<ellipse cx="1115" cy="611" rx="5" ry="5" class="t"/>
<ellipse cx="1103.5" cy="609.4" rx="3.8" ry="3.8" class="t"/>
<ellipse cx="1116.5" cy="622.5" rx="3.8" ry="3.8" class="t"/>
<ellipse cx="1104.7" cy="621.5" rx="5" ry="5" class="t"/>
<rect x="1256.2" y="625.6" width="17.5" height="17.4" class="tl" rx="2.5"/>
<rect x="1256.2" y="645" width="17.5" height="16.3" class="tl" rx="2.5"/>
<line x1="1272.5" y1="665" x2="1272.5" y2="674.4" class="tl"/>
<line x1="1268.9" y1="665" x2="1268.9" y2="674.4" class="tl"/>
<line x1="1265.3" y1="665" x2="1265.3" y2="674.4" class="tl"/>
<line x1="1261.7" y1="665" x2="1261.7" y2="674.4" class="tl"/>
<line x1="1258.1" y1="665" x2="1258.1" y2="674.4" class="tl"/>
<line x1="1277" y1="675.6" x2="1252" y2="675.6" class="tl"/>
<rect x="1356.1" y="430.6" width="17.4" height="8.4" class="tf"/>
<line x1="1373.2" y1="439" x2="1373.2" y2="450.6" class="tf"/>
<line x1="1356.4" y1="439" x2="1356.4" y2="450.6" class="tf"/>
<polyline points="1356.4,450.6 1356.53,452.63 1356.91,454.6 1357.53,456.45 1358.37,458.12 1359.4,459.56 1360.6,460.73 1361.93,461.59 1363.34,462.12 1364.8,462.3 1366.26,462.12 1367.67,461.59 1369,460.73 1370.2,459.56 1371.23,458.12 1372.07,456.45 1372.69,454.6 1373.07,452.63 1373.2,450.6" class="tf"/>
<polyline points="1357.6,450.6 1357.71,452.41 1358.03,454.16 1358.56,455.8 1359.28,457.28 1360.17,458.57 1361.2,459.61 1362.34,460.37 1363.55,460.84 1364.8,461 1366.05,460.84 1367.26,460.37 1368.4,459.61 1369.43,458.57 1370.32,457.28 1371.04,455.8 1371.57,454.16 1371.89,452.41 1372,450.6" class="tf"/>
<ellipse cx="1364.8" cy="451.2" rx="5.6" ry="8.2" class="tf"/>
<rect x="1305.1" y="692" width="17.4" height="8.4" class="tf"/>
<line x1="1322.2" y1="700.4" x2="1322.2" y2="712" class="tf"/>
<line x1="1305.4" y1="700.4" x2="1305.4" y2="712" class="tf"/>
<polyline points="1305.4,712 1305.53,714.03 1305.91,716 1306.53,717.85 1307.37,719.52 1308.4,720.96 1309.6,722.13 1310.93,722.99 1312.34,723.52 1313.8,723.7 1315.26,723.52 1316.67,722.99 1318,722.13 1319.2,720.96 1320.23,719.52 1321.07,717.85 1321.69,716 1322.07,714.03 1322.2,712" class="tf"/>
<polyline points="1306.6,712 1306.71,713.81 1307.03,715.56 1307.56,717.2 1308.28,718.68 1309.17,719.97 1310.2,721.01 1311.34,721.77 1312.55,722.24 1313.8,722.4 1315.05,722.24 1316.26,721.77 1317.4,721.01 1318.43,719.97 1319.32,718.68 1320.04,717.2 1320.57,715.56 1320.89,713.81 1321,712" class="tf"/>
<ellipse cx="1313.8" cy="712.6" rx="5.6" ry="8.2" class="tf"/>
<rect x="1344.4" y="485" width="41" height="42.4" class="tf"/>
<line x1="1385.4" y1="486.2" x2="1345.6" y2="486.2" class="tf"/>
<line x1="1345.6" y1="486.2" x2="1345.6" y2="527.4" class="tf"/>
<rect x="1347.8" y="489.4" width="34.8" height="35.2" class="tf" rx="3"/>
<ellipse cx="1378" cy="519.4" rx="1.4" ry="1.4" class="tf"/>
<polyline points="1293.7,499.4 1297.12,499.2 1300.44,498.59 1303.55,497.6 1306.36,496.26 1308.79,494.61 1310.76,492.7 1312.21,490.58 1313.1,488.33 1313.4,486 1313.1,483.67 1312.21,481.42 1310.76,479.3 1308.79,477.39 1306.36,475.74 1303.55,474.4 1300.44,473.41 1297.12,472.8 1293.7,472.6" class="tf"/>
<polyline points="1293.7,498.1 1296.86,497.92 1299.92,497.37 1302.8,496.48 1305.4,495.27 1307.64,493.78 1309.46,492.05 1310.8,490.14 1311.62,488.1 1311.9,486 1311.62,483.9 1310.8,481.86 1309.46,479.95 1307.64,478.22 1305.4,476.73 1302.8,475.52 1299.92,474.63 1296.86,474.08 1293.7,473.9" class="tf"/>
<polyline points="1298.5,495.6 1300.65,495.45 1302.74,495.02 1304.7,494.31 1306.47,493.35 1308,492.17 1309.24,490.8 1310.15,489.28 1310.71,487.67 1310.9,486 1310.71,484.33 1310.15,482.72 1309.24,481.2 1308,479.83 1306.47,478.65 1304.7,477.69 1302.74,476.98 1300.65,476.55 1298.5,476.4" class="tf"/>
<line x1="1298.5" y1="476.4" x2="1298.5" y2="495.6" class="tf"/>
<rect x="1294.2" y="479.2" width="3.6" height="13.2" class="tf"/>
<ellipse cx="1302.6" cy="485.8" rx="1.3" ry="1.3" class="t"/>
<ellipse cx="1296" cy="481.5" rx="0.6" ry="0.6" class="tk"/>
<ellipse cx="1296" cy="485.8" rx="0.6" ry="0.6" class="tk"/>
<ellipse cx="1296" cy="490" rx="0.6" ry="0.6" class="tk"/>
<polyline points="1409.2,740.3 1405.55,740.51 1402.02,741.13 1398.7,742.14 1395.7,743.51 1393.11,745.19 1391.01,747.15 1389.47,749.31 1388.52,751.62 1388.2,754 1388.52,756.38 1389.47,758.69 1391.01,760.85 1393.11,762.81 1395.7,764.49 1398.7,765.86 1402.02,766.87 1405.55,767.49 1409.2,767.7" class="tf"/>
<polyline points="1409.2,741.6 1405.83,741.79 1402.56,742.35 1399.5,743.26 1396.73,744.5 1394.34,746.03 1392.4,747.8 1390.97,749.76 1390.09,751.85 1389.8,754 1390.09,756.15 1390.97,758.24 1392.4,760.2 1394.34,761.97 1396.73,763.5 1399.5,764.74 1402.56,765.65 1405.83,766.21 1409.2,766.4" class="tf"/>
<polyline points="1407.5,744 1404.81,744.15 1402.2,744.6 1399.75,745.34 1397.54,746.34 1395.63,747.57 1394.08,749 1392.93,750.58 1392.24,752.26 1392,754 1392.24,755.74 1392.93,757.42 1394.08,759 1395.63,760.43 1397.54,761.66 1399.75,762.66 1402.2,763.4 1404.81,763.85 1407.5,764" class="tf"/>
<ellipse cx="1400.8" cy="754" rx="1.3" ry="1.6" class="t"/>
<ellipse cx="1405.7" cy="748.5" rx="0.7" ry="0.7" class="tk"/>
<ellipse cx="1405.7" cy="754" rx="0.7" ry="0.7" class="tk"/>
<ellipse cx="1405.7" cy="759.5" rx="0.7" ry="0.7" class="tk"/>
<line x1="1082" y1="383" x2="954.4" y2="383" class="t"/>
<line x1="1069.4" y1="401.2" x2="954.4" y2="401.2" class="t"/>
<line x1="1069.4" y1="403.1" x2="954.4" y2="403.1" class="t"/>
<line x1="1012.6" y1="341" x2="1012.6" y2="425.8" class="t"/>
<line x1="1082" y1="572.6" x2="935" y2="572.6" class="dc"/>
<polyline points="1272.61,176.4 1103.9,176.4 1075.6,204.3 1075.6,321" class="t"/>
<line x1="1272.61" y1="321" x2="1097" y2="321" class="tl"/>
<rect x="1138.2" y="147.7" width="84.3" height="28.7" class="t"/>
<line x1="1222.5" y1="162.3" x2="1138.2" y2="162.3" class="t"/>
<ellipse cx="1179.8" cy="147.7" rx="2.3" ry="2.3" class="t"/>
<line x1="1179.8" y1="150" x2="1179.8" y2="176.4" class="t"/>
<polygon points="1187,169.3 1172.8,169.3 1179.8,176.4" class="t"/>
<polyline points="1574.4,513.9 1596.8,513.9 1596.8,640 1574.4,640" class="t"/>
<polyline points="1574.4,527.3 1582.2,527.3 1582.2,626 1574.4,626" class="t"/>
<ellipse cx="1596.5" cy="576.9" rx="2" ry="2" class="t"/>
<line x1="1568.4" y1="548.3" x2="1568.4" y2="605.4" class="t"/>
<line x1="1575" y1="582.8" x2="1569" y2="582.8" class="t"/>
<polyline points="1575,570 1569,577 1575,583.5 1575,570" class="t"/>
<rect x="950.8" y="771.2" width="57.2" height="16.7" class="t"/>
<line x1="766.1" y1="176.4" x2="1103.9" y2="176.4" class="t"/>
<line x1="76" y1="856.2" x2="1678" y2="856.2" class="dc" style="stroke-dasharray:33 4.5 2 4.5"/>
<line x1="1018.1" y1="664" x2="1018.1" y2="718" class="t"/>
<line x1="872" y1="274.6" x2="872" y2="234" class="t"/>
<polyline points="868.4,243 872,234 875.6,243" class="t"/>
<ellipse cx="95" cy="85.5" rx="27.9" ry="27.9" class="tk"/>
<polygon points="45.7,134.4 118.6,35.5 124.5,55.9 144.9,61.5" class="tk"/>
<line x1="45.7" y1="134.4" x2="114.5" y2="65.8" class="tk"/>
<line x1="74" y1="64.5" x2="116" y2="106.5" class="tk"/>
<line x1="913.2" y1="600.4" x2="913.2" y2="616.5" class="t"/>
<line x1="956.4" y1="600.4" x2="956.4" y2="616.5" class="t"/>
<line x1="913.2" y1="616.5" x2="1045.3" y2="616.5" class="t"/>
</g>
<g id="dash">
<line x1="606.02" y1="327.3" x2="689.8" y2="327.3" class="da"/>
<line x1="606.02" y1="341" x2="689.8" y2="341" class="da"/>
<line x1="371.9" y1="553.2" x2="371.9" y2="599.6" class="da"/>
<line x1="385.2" y1="553.2" x2="385.2" y2="599.6" class="da"/>
<line x1="590.6" y1="720" x2="590.6" y2="789" class="da"/>
<polyline points="488.5,692 488.5,718.8 460.6,718.8" class="da"/>
<polyline points="534.4,620.6 534.4,592.8 562.5,592.8 562.5,620.6" class="da"/>
<polygon points="273.2,154.5 619,154.5 619,299 816.3,299 816.3,831 273.2,831" class="da"/>
<line x1="273.2" y1="154.5" x2="446" y2="327.3" class="da"/>
<line x1="619" y1="154.5" x2="446" y2="327.3" class="da"/>
<line x1="446" y1="327.3" x2="446" y2="470.5" class="da"/>
<line x1="273.2" y1="297.7" x2="446" y2="470.5" class="da"/>
<line x1="619" y1="297.5" x2="446" y2="470.5" class="da"/>
<line x1="316" y1="350.4" x2="577" y2="350.4" class="da"/>
<line x1="316" y1="364.1" x2="577" y2="364.1" class="da"/>
<line x1="577.6" y1="365" x2="577.6" y2="411" class="da"/>
<line x1="591" y1="365" x2="591" y2="485.4" class="da"/>
<line x1="577.6" y1="553.5" x2="577.6" y2="620.6" class="da"/>
<line x1="591" y1="500" x2="591" y2="620.6" class="da"/>
<line x1="794.4" y1="355" x2="935" y2="355" class="da"/>
<line x1="800.6" y1="389" x2="915.5" y2="389" class="da"/>
<line x1="794.4" y1="784" x2="935" y2="784" class="da"/>
<line x1="1263.98" y1="327.3" x2="1180.2" y2="327.3" class="da"/>
<line x1="1263.98" y1="341" x2="1180.2" y2="341" class="da"/>
<line x1="1498.1" y1="553.2" x2="1498.1" y2="599.6" class="da"/>
<line x1="1484.8" y1="553.2" x2="1484.8" y2="599.6" class="da"/>
<line x1="1279.4" y1="720" x2="1279.4" y2="789" class="da"/>
<polyline points="1381.5,692 1381.5,718.8 1409.4,718.8" class="da"/>
<polyline points="1335.6,620.6 1335.6,592.8 1307.5,592.8 1307.5,620.6" class="da"/>
<polygon points="1596.8,154.5 1251,154.5 1251,299 1053.7,299 1053.7,831 1596.8,831" class="da"/>
<line x1="1596.8" y1="154.5" x2="1424" y2="327.3" class="da"/>
<line x1="1251" y1="154.5" x2="1424" y2="327.3" class="da"/>
<line x1="1424" y1="327.3" x2="1424" y2="470.5" class="da"/>
<line x1="1596.8" y1="297.7" x2="1424" y2="470.5" class="da"/>
<line x1="1251" y1="297.5" x2="1424" y2="470.5" class="da"/>
<line x1="1554" y1="350.4" x2="1293" y2="350.4" class="da"/>
<line x1="1554" y1="364.1" x2="1293" y2="364.1" class="da"/>
<line x1="1292.4" y1="365" x2="1292.4" y2="411" class="da"/>
<line x1="1279" y1="365" x2="1279" y2="485.4" class="da"/>
<line x1="1292.4" y1="553.5" x2="1292.4" y2="620.6" class="da"/>
<line x1="1279" y1="500" x2="1279" y2="620.6" class="da"/>
<line x1="1075.6" y1="355" x2="935" y2="355" class="da"/>
<line x1="1069.4" y1="389" x2="954.5" y2="389" class="da"/>
<line x1="1075.6" y1="784" x2="935" y2="784" class="da"/>
<polyline points="899,572.6 899,600.4 927,600.4" class="da"/>
<polyline points="971,572.6 971,600.4 943,600.4" class="da"/>
</g>
<g id="dim">
<line x1="282" y1="18.7" x2="1588" y2="18.7" class="dl"/>
<line x1="295.73" y1="9.7" x2="295.73" y2="27.7" class="ex"/>
<line x1="290.13" y1="24.1" x2="301.33" y2="13.3" class="sl"/>
<line x1="1574.22" y1="9.7" x2="1574.22" y2="27.7" class="ex"/>
<line x1="1568.62" y1="24.1" x2="1579.82" y2="13.3" class="sl"/>
<line x1="267.5" y1="42.3" x2="1602.5" y2="42.3" class="dl"/>
<line x1="295.73" y1="33.3" x2="295.73" y2="51.3" class="ex"/>
<line x1="290.13" y1="47.7" x2="301.33" y2="36.9" class="sl"/>
<line x1="301.8" y1="33.3" x2="301.8" y2="51.3" class="ex"/>
<line x1="296.2" y1="47.7" x2="307.4" y2="36.9" class="sl"/>
<line x1="591.09" y1="33.3" x2="591.09" y2="51.3" class="ex"/>
<line x1="585.49" y1="47.7" x2="596.69" y2="36.9" class="sl"/>
<line x1="788" y1="33.3" x2="788" y2="51.3" class="ex"/>
<line x1="782.4" y1="47.7" x2="793.6" y2="36.9" class="sl"/>
<line x1="1081.96" y1="33.3" x2="1081.96" y2="51.3" class="ex"/>
<line x1="1076.36" y1="47.7" x2="1087.56" y2="36.9" class="sl"/>
<line x1="1278.86" y1="33.3" x2="1278.86" y2="51.3" class="ex"/>
<line x1="1273.26" y1="47.7" x2="1284.46" y2="36.9" class="sl"/>
<line x1="1568.15" y1="33.3" x2="1568.15" y2="51.3" class="ex"/>
<line x1="1562.55" y1="47.7" x2="1573.75" y2="36.9" class="sl"/>
<line x1="1574.22" y1="33.3" x2="1574.22" y2="51.3" class="ex"/>
<line x1="1568.62" y1="47.7" x2="1579.82" y2="36.9" class="sl"/>
<line x1="273.8" y1="65.6" x2="1596" y2="65.6" class="dl"/>
<line x1="301.8" y1="56.6" x2="301.8" y2="74.6" class="ex"/>
<line x1="296.2" y1="71" x2="307.4" y2="60.2" class="sl"/>
<line x1="315.8" y1="56.6" x2="315.8" y2="74.6" class="ex"/>
<line x1="310.2" y1="71" x2="321.4" y2="60.2" class="sl"/>
<line x1="577.09" y1="56.6" x2="577.09" y2="74.6" class="ex"/>
<line x1="571.49" y1="71" x2="582.69" y2="60.2" class="sl"/>
<line x1="591.09" y1="56.6" x2="591.09" y2="74.6" class="ex"/>
<line x1="585.49" y1="71" x2="596.69" y2="60.2" class="sl"/>
<line x1="774" y1="56.6" x2="774" y2="74.6" class="ex"/>
<line x1="768.4" y1="71" x2="779.6" y2="60.2" class="sl"/>
<line x1="788" y1="56.6" x2="788" y2="74.6" class="ex"/>
<line x1="782.4" y1="71" x2="793.6" y2="60.2" class="sl"/>
<line x1="927.98" y1="56.6" x2="927.98" y2="74.6" class="ex"/>
<line x1="922.38" y1="71" x2="933.58" y2="60.2" class="sl"/>
<line x1="941.98" y1="56.6" x2="941.98" y2="74.6" class="ex"/>
<line x1="936.38" y1="71" x2="947.58" y2="60.2" class="sl"/>
<line x1="1081.96" y1="56.6" x2="1081.96" y2="74.6" class="ex"/>
<line x1="1076.36" y1="71" x2="1087.56" y2="60.2" class="sl"/>
<line x1="1095.95" y1="56.6" x2="1095.95" y2="74.6" class="ex"/>
<line x1="1090.35" y1="71" x2="1101.55" y2="60.2" class="sl"/>
<line x1="1278.86" y1="56.6" x2="1278.86" y2="74.6" class="ex"/>
<line x1="1273.26" y1="71" x2="1284.46" y2="60.2" class="sl"/>
<line x1="1292.86" y1="56.6" x2="1292.86" y2="74.6" class="ex"/>
<line x1="1287.26" y1="71" x2="1298.46" y2="60.2" class="sl"/>
<line x1="1554.15" y1="56.6" x2="1554.15" y2="74.6" class="ex"/>
<line x1="1548.55" y1="71" x2="1559.75" y2="60.2" class="sl"/>
<line x1="1568.15" y1="56.6" x2="1568.15" y2="74.6" class="ex"/>
<line x1="1562.55" y1="71" x2="1573.75" y2="60.2" class="sl"/>
<line x1="273.8" y1="88.8" x2="1596" y2="88.8" class="dl"/>
<line x1="301.8" y1="79.8" x2="301.8" y2="97.8" class="ex"/>
<line x1="296.2" y1="94.2" x2="307.4" y2="83.4" class="sl"/>
<line x1="315.8" y1="79.8" x2="315.8" y2="97.8" class="ex"/>
<line x1="310.2" y1="94.2" x2="321.4" y2="83.4" class="sl"/>
<line x1="432.45" y1="79.8" x2="432.45" y2="97.8" class="ex"/>
<line x1="426.85" y1="94.2" x2="438.05" y2="83.4" class="sl"/>
<line x1="437.11" y1="79.8" x2="437.11" y2="97.8" class="ex"/>
<line x1="431.51" y1="94.2" x2="442.71" y2="83.4" class="sl"/>
<line x1="577.09" y1="79.8" x2="577.09" y2="97.8" class="ex"/>
<line x1="571.49" y1="94.2" x2="582.69" y2="83.4" class="sl"/>
<line x1="581.76" y1="79.8" x2="581.76" y2="97.8" class="ex"/>
<line x1="576.16" y1="94.2" x2="587.36" y2="83.4" class="sl"/>
<line x1="774" y1="79.8" x2="774" y2="97.8" class="ex"/>
<line x1="768.4" y1="94.2" x2="779.6" y2="83.4" class="sl"/>
<line x1="788" y1="79.8" x2="788" y2="97.8" class="ex"/>
<line x1="782.4" y1="94.2" x2="793.6" y2="83.4" class="sl"/>
<line x1="927.98" y1="79.8" x2="927.98" y2="97.8" class="ex"/>
<line x1="922.38" y1="94.2" x2="933.58" y2="83.4" class="sl"/>
<line x1="941.98" y1="79.8" x2="941.98" y2="97.8" class="ex"/>
<line x1="936.38" y1="94.2" x2="947.58" y2="83.4" class="sl"/>
<line x1="1081.96" y1="79.8" x2="1081.96" y2="97.8" class="ex"/>
<line x1="1076.36" y1="94.2" x2="1087.56" y2="83.4" class="sl"/>
<line x1="1095.95" y1="79.8" x2="1095.95" y2="97.8" class="ex"/>
<line x1="1090.35" y1="94.2" x2="1101.55" y2="83.4" class="sl"/>
<line x1="1288.19" y1="79.8" x2="1288.19" y2="97.8" class="ex"/>
<line x1="1282.59" y1="94.2" x2="1293.79" y2="83.4" class="sl"/>
<line x1="1292.86" y1="79.8" x2="1292.86" y2="97.8" class="ex"/>
<line x1="1287.26" y1="94.2" x2="1298.46" y2="83.4" class="sl"/>
<line x1="1432.84" y1="79.8" x2="1432.84" y2="97.8" class="ex"/>
<line x1="1427.24" y1="94.2" x2="1438.44" y2="83.4" class="sl"/>
<line x1="1437.5" y1="79.8" x2="1437.5" y2="97.8" class="ex"/>
<line x1="1431.9" y1="94.2" x2="1443.1" y2="83.4" class="sl"/>
<line x1="1554.15" y1="79.8" x2="1554.15" y2="97.8" class="ex"/>
<line x1="1548.55" y1="94.2" x2="1559.75" y2="83.4" class="sl"/>
<line x1="1568.15" y1="79.8" x2="1568.15" y2="97.8" class="ex"/>
<line x1="1562.55" y1="94.2" x2="1573.75" y2="83.4" class="sl"/>
<line x1="287.6" y1="112.1" x2="1582" y2="112.1" class="dl"/>
<line x1="301.8" y1="103.1" x2="301.8" y2="121.1" class="ex"/>
<line x1="296.2" y1="117.5" x2="307.4" y2="106.7" class="sl"/>
<line x1="346.13" y1="103.1" x2="346.13" y2="121.1" class="ex"/>
<line x1="340.53" y1="117.5" x2="351.73" y2="106.7" class="sl"/>
<line x1="402.12" y1="103.1" x2="402.12" y2="121.1" class="ex"/>
<line x1="396.52" y1="117.5" x2="407.72" y2="106.7" class="sl"/>
<line x1="479.11" y1="103.1" x2="479.11" y2="121.1" class="ex"/>
<line x1="473.51" y1="117.5" x2="484.71" y2="106.7" class="sl"/>
<line x1="535.1" y1="103.1" x2="535.1" y2="121.1" class="ex"/>
<line x1="529.5" y1="117.5" x2="540.7" y2="106.7" class="sl"/>
<line x1="591.09" y1="103.1" x2="591.09" y2="121.1" class="ex"/>
<line x1="585.49" y1="117.5" x2="596.69" y2="106.7" class="sl"/>
<line x1="606.02" y1="103.1" x2="606.02" y2="121.1" class="ex"/>
<line x1="600.42" y1="117.5" x2="611.62" y2="106.7" class="sl"/>
<line x1="774" y1="103.1" x2="774" y2="121.1" class="ex"/>
<line x1="768.4" y1="117.5" x2="779.6" y2="106.7" class="sl"/>
<line x1="788" y1="103.1" x2="788" y2="121.1" class="ex"/>
<line x1="782.4" y1="117.5" x2="793.6" y2="106.7" class="sl"/>
<line x1="799.66" y1="103.1" x2="799.66" y2="121.1" class="ex"/>
<line x1="794.06" y1="117.5" x2="805.26" y2="106.7" class="sl"/>
<line x1="916.31" y1="103.1" x2="916.31" y2="121.1" class="ex"/>
<line x1="910.71" y1="117.5" x2="921.91" y2="106.7" class="sl"/>
<line x1="927.98" y1="103.1" x2="927.98" y2="121.1" class="ex"/>
<line x1="922.38" y1="117.5" x2="933.58" y2="106.7" class="sl"/>
<line x1="941.98" y1="103.1" x2="941.98" y2="121.1" class="ex"/>
<line x1="936.38" y1="117.5" x2="947.58" y2="106.7" class="sl"/>
<line x1="953.64" y1="103.1" x2="953.64" y2="121.1" class="ex"/>
<line x1="948.04" y1="117.5" x2="959.24" y2="106.7" class="sl"/>
<line x1="1070.29" y1="103.1" x2="1070.29" y2="121.1" class="ex"/>
<line x1="1064.69" y1="117.5" x2="1075.89" y2="106.7" class="sl"/>
<line x1="1081.96" y1="103.1" x2="1081.96" y2="121.1" class="ex"/>
<line x1="1076.36" y1="117.5" x2="1087.56" y2="106.7" class="sl"/>
<line x1="1095.95" y1="103.1" x2="1095.95" y2="121.1" class="ex"/>
<line x1="1090.35" y1="117.5" x2="1101.55" y2="106.7" class="sl"/>
<line x1="1263.93" y1="103.1" x2="1263.93" y2="121.1" class="ex"/>
<line x1="1258.33" y1="117.5" x2="1269.53" y2="106.7" class="sl"/>
<line x1="1278.86" y1="103.1" x2="1278.86" y2="121.1" class="ex"/>
<line x1="1273.26" y1="117.5" x2="1284.46" y2="106.7" class="sl"/>
<line x1="1334.85" y1="103.1" x2="1334.85" y2="121.1" class="ex"/>
<line x1="1329.25" y1="117.5" x2="1340.45" y2="106.7" class="sl"/>
<line x1="1390.84" y1="103.1" x2="1390.84" y2="121.1" class="ex"/>
<line x1="1385.24" y1="117.5" x2="1396.44" y2="106.7" class="sl"/>
<line x1="1467.83" y1="103.1" x2="1467.83" y2="121.1" class="ex"/>
<line x1="1462.23" y1="117.5" x2="1473.43" y2="106.7" class="sl"/>
<line x1="1523.83" y1="103.1" x2="1523.83" y2="121.1" class="ex"/>
<line x1="1518.23" y1="117.5" x2="1529.43" y2="106.7" class="sl"/>
<line x1="1568.15" y1="103.1" x2="1568.15" y2="121.1" class="ex"/>
<line x1="1562.55" y1="117.5" x2="1573.75" y2="106.7" class="sl"/>
<line x1="634" y1="135.9" x2="798.6" y2="135.9" class="dl"/>
<line x1="648" y1="126.9" x2="648" y2="144.9" class="ex"/>
<line x1="642.4" y1="141.3" x2="653.6" y2="130.5" class="sl"/>
<line x1="731.5" y1="126.9" x2="731.5" y2="144.9" class="ex"/>
<line x1="725.9" y1="141.3" x2="737.1" y2="130.5" class="sl"/>
<line x1="765.8" y1="126.9" x2="765.8" y2="144.9" class="ex"/>
<line x1="760.2" y1="141.3" x2="771.4" y2="130.5" class="sl"/>
<line x1="794.5" y1="126.9" x2="794.5" y2="144.9" class="ex"/>
<line x1="788.9" y1="141.3" x2="800.1" y2="130.5" class="sl"/>
<line x1="1071.4" y1="135.9" x2="1236" y2="135.9" class="dl"/>
<line x1="1075.5" y1="126.9" x2="1075.5" y2="144.9" class="ex"/>
<line x1="1069.9" y1="141.3" x2="1081.1" y2="130.5" class="sl"/>
<line x1="1104.2" y1="126.9" x2="1104.2" y2="144.9" class="ex"/>
<line x1="1098.6" y1="141.3" x2="1109.8" y2="130.5" class="sl"/>
<line x1="1138.5" y1="126.9" x2="1138.5" y2="144.9" class="ex"/>
<line x1="1132.9" y1="141.3" x2="1144.1" y2="130.5" class="sl"/>
<line x1="1222" y1="126.9" x2="1222" y2="144.9" class="ex"/>
<line x1="1216.4" y1="141.3" x2="1227.6" y2="130.5" class="sl"/>
<line x1="287.8" y1="878.8" x2="1582" y2="878.8" class="dl"/>
<line x1="301.8" y1="869.8" x2="301.8" y2="887.8" class="ex"/>
<line x1="296.2" y1="884.2" x2="307.4" y2="873.4" class="sl"/>
<line x1="507.1" y1="869.8" x2="507.1" y2="887.8" class="ex"/>
<line x1="501.5" y1="884.2" x2="512.7" y2="873.4" class="sl"/>
<line x1="535.1" y1="869.8" x2="535.1" y2="887.8" class="ex"/>
<line x1="529.5" y1="884.2" x2="540.7" y2="873.4" class="sl"/>
<line x1="675.08" y1="869.8" x2="675.08" y2="887.8" class="ex"/>
<line x1="669.48" y1="884.2" x2="680.68" y2="873.4" class="sl"/>
<line x1="703.08" y1="869.8" x2="703.08" y2="887.8" class="ex"/>
<line x1="697.48" y1="884.2" x2="708.68" y2="873.4" class="sl"/>
<line x1="788" y1="869.8" x2="788" y2="887.8" class="ex"/>
<line x1="782.4" y1="884.2" x2="793.6" y2="873.4" class="sl"/>
<line x1="841.66" y1="869.8" x2="841.66" y2="887.8" class="ex"/>
<line x1="836.06" y1="884.2" x2="847.26" y2="873.4" class="sl"/>
<line x1="869.65" y1="869.8" x2="869.65" y2="887.8" class="ex"/>
<line x1="864.05" y1="884.2" x2="875.25" y2="873.4" class="sl"/>
<line x1="1000.3" y1="869.8" x2="1000.3" y2="887.8" class="ex"/>
<line x1="994.7" y1="884.2" x2="1005.9" y2="873.4" class="sl"/>
<line x1="1028.3" y1="869.8" x2="1028.3" y2="887.8" class="ex"/>
<line x1="1022.7" y1="884.2" x2="1033.9" y2="873.4" class="sl"/>
<line x1="1081.96" y1="869.8" x2="1081.96" y2="887.8" class="ex"/>
<line x1="1076.36" y1="884.2" x2="1087.56" y2="873.4" class="sl"/>
<line x1="1166.88" y1="869.8" x2="1166.88" y2="887.8" class="ex"/>
<line x1="1161.28" y1="884.2" x2="1172.48" y2="873.4" class="sl"/>
<line x1="1194.87" y1="869.8" x2="1194.87" y2="887.8" class="ex"/>
<line x1="1189.27" y1="884.2" x2="1200.47" y2="873.4" class="sl"/>
<line x1="1334.85" y1="869.8" x2="1334.85" y2="887.8" class="ex"/>
<line x1="1329.25" y1="884.2" x2="1340.45" y2="873.4" class="sl"/>
<line x1="1362.85" y1="869.8" x2="1362.85" y2="887.8" class="ex"/>
<line x1="1357.25" y1="884.2" x2="1368.45" y2="873.4" class="sl"/>
<line x1="1568.15" y1="869.8" x2="1568.15" y2="887.8" class="ex"/>
<line x1="1562.55" y1="884.2" x2="1573.75" y2="873.4" class="sl"/>
<line x1="274" y1="902.2" x2="1596" y2="902.2" class="dl"/>
<line x1="301.8" y1="893.2" x2="301.8" y2="911.2" class="ex"/>
<line x1="296.2" y1="907.6" x2="307.4" y2="896.8" class="sl"/>
<line x1="315.8" y1="893.2" x2="315.8" y2="911.2" class="ex"/>
<line x1="310.2" y1="907.6" x2="321.4" y2="896.8" class="sl"/>
<line x1="455.78" y1="893.2" x2="455.78" y2="911.2" class="ex"/>
<line x1="450.18" y1="907.6" x2="461.38" y2="896.8" class="sl"/>
<line x1="460.44" y1="893.2" x2="460.44" y2="911.2" class="ex"/>
<line x1="454.84" y1="907.6" x2="466.04" y2="896.8" class="sl"/>
<line x1="577.09" y1="893.2" x2="577.09" y2="911.2" class="ex"/>
<line x1="571.49" y1="907.6" x2="582.69" y2="896.8" class="sl"/>
<line x1="591.09" y1="893.2" x2="591.09" y2="911.2" class="ex"/>
<line x1="585.49" y1="907.6" x2="596.69" y2="896.8" class="sl"/>
<line x1="623.75" y1="893.2" x2="623.75" y2="911.2" class="ex"/>
<line x1="618.15" y1="907.6" x2="629.35" y2="896.8" class="sl"/>
<line x1="628.42" y1="893.2" x2="628.42" y2="911.2" class="ex"/>
<line x1="622.82" y1="907.6" x2="634.02" y2="896.8" class="sl"/>
<line x1="774" y1="893.2" x2="774" y2="911.2" class="ex"/>
<line x1="768.4" y1="907.6" x2="779.6" y2="896.8" class="sl"/>
<line x1="788" y1="893.2" x2="788" y2="911.2" class="ex"/>
<line x1="782.4" y1="907.6" x2="793.6" y2="896.8" class="sl"/>
<line x1="927.98" y1="893.2" x2="927.98" y2="911.2" class="ex"/>
<line x1="922.38" y1="907.6" x2="933.58" y2="896.8" class="sl"/>
<line x1="941.98" y1="893.2" x2="941.98" y2="911.2" class="ex"/>
<line x1="936.38" y1="907.6" x2="947.58" y2="896.8" class="sl"/>
<line x1="1081.96" y1="893.2" x2="1081.96" y2="911.2" class="ex"/>
<line x1="1076.36" y1="907.6" x2="1087.56" y2="896.8" class="sl"/>
<line x1="1095.95" y1="893.2" x2="1095.95" y2="911.2" class="ex"/>
<line x1="1090.35" y1="907.6" x2="1101.55" y2="896.8" class="sl"/>
<line x1="1241.53" y1="893.2" x2="1241.53" y2="911.2" class="ex"/>
<line x1="1235.93" y1="907.6" x2="1247.13" y2="896.8" class="sl"/>
<line x1="1246.2" y1="893.2" x2="1246.2" y2="911.2" class="ex"/>
<line x1="1240.6" y1="907.6" x2="1251.8" y2="896.8" class="sl"/>
<line x1="1278.86" y1="893.2" x2="1278.86" y2="911.2" class="ex"/>
<line x1="1273.26" y1="907.6" x2="1284.46" y2="896.8" class="sl"/>
<line x1="1292.86" y1="893.2" x2="1292.86" y2="911.2" class="ex"/>
<line x1="1287.26" y1="907.6" x2="1298.46" y2="896.8" class="sl"/>
<line x1="1409.51" y1="893.2" x2="1409.51" y2="911.2" class="ex"/>
<line x1="1403.91" y1="907.6" x2="1415.11" y2="896.8" class="sl"/>
<line x1="1414.17" y1="893.2" x2="1414.17" y2="911.2" class="ex"/>
<line x1="1408.57" y1="907.6" x2="1419.77" y2="896.8" class="sl"/>
<line x1="1554.15" y1="893.2" x2="1554.15" y2="911.2" class="ex"/>
<line x1="1548.55" y1="907.6" x2="1559.75" y2="896.8" class="sl"/>
<line x1="1568.15" y1="893.2" x2="1568.15" y2="911.2" class="ex"/>
<line x1="1562.55" y1="907.6" x2="1573.75" y2="896.8" class="sl"/>
<line x1="267.6" y1="925.7" x2="1602" y2="925.7" class="dl"/>
<line x1="295.73" y1="916.7" x2="295.73" y2="934.7" class="ex"/>
<line x1="290.13" y1="931.1" x2="301.33" y2="920.3" class="sl"/>
<line x1="301.8" y1="916.7" x2="301.8" y2="934.7" class="ex"/>
<line x1="296.2" y1="931.1" x2="307.4" y2="920.3" class="sl"/>
<line x1="788" y1="916.7" x2="788" y2="934.7" class="ex"/>
<line x1="782.4" y1="931.1" x2="793.6" y2="920.3" class="sl"/>
<line x1="1081.96" y1="916.7" x2="1081.96" y2="934.7" class="ex"/>
<line x1="1076.36" y1="931.1" x2="1087.56" y2="920.3" class="sl"/>
<line x1="1568.15" y1="916.7" x2="1568.15" y2="934.7" class="ex"/>
<line x1="1562.55" y1="931.1" x2="1573.75" y2="920.3" class="sl"/>
<line x1="1574.22" y1="916.7" x2="1574.22" y2="934.7" class="ex"/>
<line x1="1568.62" y1="931.1" x2="1579.82" y2="920.3" class="sl"/>
<line x1="281.4" y1="948.7" x2="1588.5" y2="948.7" class="dl"/>
<line x1="295.73" y1="939.7" x2="295.73" y2="957.7" class="ex"/>
<line x1="290.13" y1="954.1" x2="301.33" y2="943.3" class="sl"/>
<line x1="934.98" y1="939.7" x2="934.98" y2="957.7" class="ex"/>
<line x1="929.38" y1="954.1" x2="940.58" y2="943.3" class="sl"/>
<line x1="1574.22" y1="939.7" x2="1574.22" y2="957.7" class="ex"/>
<line x1="1568.62" y1="954.1" x2="1579.82" y2="943.3" class="sl"/>
<line x1="95.2" y1="163" x2="95.2" y2="869" class="dl"/>
<line x1="86.2" y1="176.23" x2="104.2" y2="176.23" class="ex"/>
<line x1="89.8" y1="170.63" x2="100.6" y2="181.83" class="sl"/>
<line x1="86.2" y1="808.94" x2="104.2" y2="808.94" class="ex"/>
<line x1="89.8" y1="803.34" x2="100.6" y2="814.54" class="sl"/>
<line x1="86.2" y1="856.2" x2="104.2" y2="856.2" class="ex"/>
<line x1="89.8" y1="850.6" x2="100.6" y2="861.8" class="sl"/>
<line x1="118.5" y1="148" x2="118.5" y2="836.5" class="dd"/>
<line x1="109.5" y1="176.23" x2="127.5" y2="176.23" class="ex"/>
<line x1="113.1" y1="170.63" x2="123.9" y2="181.83" class="sl"/>
<line x1="109.5" y1="182.3" x2="127.5" y2="182.3" class="ex"/>
<line x1="113.1" y1="176.7" x2="123.9" y2="187.9" class="sl"/>
<line x1="109.5" y1="541.58" x2="127.5" y2="541.58" class="ex"/>
<line x1="113.1" y1="535.98" x2="123.9" y2="547.18" class="sl"/>
<line x1="109.5" y1="611.57" x2="127.5" y2="611.57" class="ex"/>
<line x1="113.1" y1="605.97" x2="123.9" y2="617.17" class="sl"/>
<line x1="109.5" y1="802.88" x2="127.5" y2="802.88" class="ex"/>
<line x1="113.1" y1="797.28" x2="123.9" y2="808.48" class="sl"/>
<line x1="109.5" y1="808.94" x2="127.5" y2="808.94" class="ex"/>
<line x1="113.1" y1="803.34" x2="123.9" y2="814.54" class="sl"/>
<line x1="141.5" y1="153.5" x2="141.5" y2="829.8" class="dd"/>
<line x1="132.5" y1="182.3" x2="150.5" y2="182.3" class="ex"/>
<line x1="136.1" y1="176.7" x2="146.9" y2="187.9" class="sl"/>
<line x1="132.5" y1="196.3" x2="150.5" y2="196.3" class="ex"/>
<line x1="136.1" y1="190.7" x2="146.9" y2="201.9" class="sl"/>
<line x1="132.5" y1="527.58" x2="150.5" y2="527.58" class="ex"/>
<line x1="136.1" y1="521.98" x2="146.9" y2="533.18" class="sl"/>
<line x1="132.5" y1="541.58" x2="150.5" y2="541.58" class="ex"/>
<line x1="136.1" y1="535.98" x2="146.9" y2="547.18" class="sl"/>
<line x1="132.5" y1="611.57" x2="150.5" y2="611.57" class="ex"/>
<line x1="136.1" y1="605.97" x2="146.9" y2="617.17" class="sl"/>
<line x1="132.5" y1="625.57" x2="150.5" y2="625.57" class="ex"/>
<line x1="136.1" y1="619.97" x2="146.9" y2="631.17" class="sl"/>
<line x1="132.5" y1="788.88" x2="150.5" y2="788.88" class="ex"/>
<line x1="136.1" y1="783.28" x2="146.9" y2="794.48" class="sl"/>
<line x1="132.5" y1="802.88" x2="150.5" y2="802.88" class="ex"/>
<line x1="136.1" y1="797.28" x2="146.9" y2="808.48" class="sl"/>
<line x1="164.8" y1="153.5" x2="164.8" y2="829.8" class="dd"/>
<line x1="155.8" y1="182.3" x2="173.8" y2="182.3" class="ex"/>
<line x1="159.4" y1="176.7" x2="170.2" y2="187.9" class="sl"/>
<line x1="155.8" y1="196.3" x2="173.8" y2="196.3" class="ex"/>
<line x1="159.4" y1="190.7" x2="170.2" y2="201.9" class="sl"/>
<line x1="155.8" y1="382.94" x2="173.8" y2="382.94" class="ex"/>
<line x1="159.4" y1="377.34" x2="170.2" y2="388.54" class="sl"/>
<line x1="155.8" y1="387.6" x2="173.8" y2="387.6" class="ex"/>
<line x1="159.4" y1="382" x2="170.2" y2="393.2" class="sl"/>
<line x1="155.8" y1="527.58" x2="173.8" y2="527.58" class="ex"/>
<line x1="159.4" y1="521.98" x2="170.2" y2="533.18" class="sl"/>
<line x1="155.8" y1="532.25" x2="173.8" y2="532.25" class="ex"/>
<line x1="159.4" y1="526.65" x2="170.2" y2="537.85" class="sl"/>
<line x1="155.8" y1="620.9" x2="173.8" y2="620.9" class="ex"/>
<line x1="159.4" y1="615.3" x2="170.2" y2="626.5" class="sl"/>
<line x1="155.8" y1="625.57" x2="173.8" y2="625.57" class="ex"/>
<line x1="159.4" y1="619.97" x2="170.2" y2="631.17" class="sl"/>
<line x1="155.8" y1="788.88" x2="173.8" y2="788.88" class="ex"/>
<line x1="159.4" y1="783.28" x2="170.2" y2="794.48" class="sl"/>
<line x1="155.8" y1="802.88" x2="173.8" y2="802.88" class="ex"/>
<line x1="159.4" y1="797.28" x2="170.2" y2="808.48" class="sl"/>
<line x1="188.6" y1="153.5" x2="188.6" y2="829.8" class="dd"/>
<line x1="179.6" y1="182.3" x2="197.6" y2="182.3" class="ex"/>
<line x1="183.2" y1="176.7" x2="194" y2="187.9" class="sl"/>
<line x1="179.6" y1="196.3" x2="197.6" y2="196.3" class="ex"/>
<line x1="183.2" y1="190.7" x2="194" y2="201.9" class="sl"/>
<line x1="179.6" y1="336.28" x2="197.6" y2="336.28" class="ex"/>
<line x1="183.2" y1="330.68" x2="194" y2="341.88" class="sl"/>
<line x1="179.6" y1="340.94" x2="197.6" y2="340.94" class="ex"/>
<line x1="183.2" y1="335.34" x2="194" y2="346.54" class="sl"/>
<line x1="179.6" y1="424.93" x2="197.6" y2="424.93" class="ex"/>
<line x1="183.2" y1="419.33" x2="194" y2="430.53" class="sl"/>
<line x1="179.6" y1="429.6" x2="197.6" y2="429.6" class="ex"/>
<line x1="183.2" y1="424" x2="194" y2="435.2" class="sl"/>
<line x1="179.6" y1="527.58" x2="197.6" y2="527.58" class="ex"/>
<line x1="183.2" y1="521.98" x2="194" y2="533.18" class="sl"/>
<line x1="179.6" y1="532.25" x2="197.6" y2="532.25" class="ex"/>
<line x1="183.2" y1="526.65" x2="194" y2="537.85" class="sl"/>
<line x1="179.6" y1="620.9" x2="197.6" y2="620.9" class="ex"/>
<line x1="183.2" y1="615.3" x2="194" y2="626.5" class="sl"/>
<line x1="179.6" y1="625.57" x2="197.6" y2="625.57" class="ex"/>
<line x1="183.2" y1="619.97" x2="194" y2="631.17" class="sl"/>
<line x1="179.6" y1="686.23" x2="197.6" y2="686.23" class="ex"/>
<line x1="183.2" y1="680.63" x2="194" y2="691.83" class="sl"/>
<line x1="179.6" y1="690.89" x2="197.6" y2="690.89" class="ex"/>
<line x1="183.2" y1="685.29" x2="194" y2="696.49" class="sl"/>
<line x1="179.6" y1="788.88" x2="197.6" y2="788.88" class="ex"/>
<line x1="183.2" y1="783.28" x2="194" y2="794.48" class="sl"/>
<line x1="179.6" y1="802.88" x2="197.6" y2="802.88" class="ex"/>
<line x1="183.2" y1="797.28" x2="194" y2="808.48" class="sl"/>
<line x1="211.8" y1="168.4" x2="211.8" y2="816.3" class="dl"/>
<line x1="202.8" y1="182.3" x2="220.8" y2="182.3" class="ex"/>
<line x1="206.4" y1="176.7" x2="217.2" y2="187.9" class="sl"/>
<line x1="202.8" y1="434.26" x2="220.8" y2="434.26" class="ex"/>
<line x1="206.4" y1="428.66" x2="217.2" y2="439.86" class="sl"/>
<line x1="202.8" y1="490.26" x2="220.8" y2="490.26" class="ex"/>
<line x1="206.4" y1="484.66" x2="217.2" y2="495.86" class="sl"/>
<line x1="202.8" y1="541.58" x2="220.8" y2="541.58" class="ex"/>
<line x1="206.4" y1="535.98" x2="217.2" y2="547.18" class="sl"/>
<line x1="202.8" y1="553.25" x2="220.8" y2="553.25" class="ex"/>
<line x1="206.4" y1="547.65" x2="217.2" y2="558.85" class="sl"/>
<line x1="202.8" y1="599.91" x2="220.8" y2="599.91" class="ex"/>
<line x1="206.4" y1="594.31" x2="217.2" y2="605.51" class="sl"/>
<line x1="202.8" y1="611.57" x2="220.8" y2="611.57" class="ex"/>
<line x1="206.4" y1="605.97" x2="217.2" y2="617.17" class="sl"/>
<line x1="202.8" y1="679.23" x2="220.8" y2="679.23" class="ex"/>
<line x1="206.4" y1="673.63" x2="217.2" y2="684.83" class="sl"/>
<line x1="202.8" y1="735.22" x2="220.8" y2="735.22" class="ex"/>
<line x1="206.4" y1="729.62" x2="217.2" y2="740.82" class="sl"/>
<line x1="202.8" y1="802.88" x2="220.8" y2="802.88" class="ex"/>
<line x1="206.4" y1="797.28" x2="217.2" y2="808.48" class="sl"/>
<line x1="1774.8" y1="163" x2="1774.8" y2="869" class="dl"/>
<line x1="1765.8" y1="176.23" x2="1783.8" y2="176.23" class="ex"/>
<line x1="1769.4" y1="170.63" x2="1780.2" y2="181.83" class="sl"/>
<line x1="1765.8" y1="808.94" x2="1783.8" y2="808.94" class="ex"/>
<line x1="1769.4" y1="803.34" x2="1780.2" y2="814.54" class="sl"/>
<line x1="1765.8" y1="856.2" x2="1783.8" y2="856.2" class="ex"/>
<line x1="1769.4" y1="850.6" x2="1780.2" y2="861.8" class="sl"/>
<line x1="1751.5" y1="148" x2="1751.5" y2="836.5" class="dd"/>
<line x1="1742.5" y1="176.23" x2="1760.5" y2="176.23" class="ex"/>
<line x1="1746.1" y1="170.63" x2="1756.9" y2="181.83" class="sl"/>
<line x1="1742.5" y1="182.3" x2="1760.5" y2="182.3" class="ex"/>
<line x1="1746.1" y1="176.7" x2="1756.9" y2="187.9" class="sl"/>
<line x1="1742.5" y1="541.58" x2="1760.5" y2="541.58" class="ex"/>
<line x1="1746.1" y1="535.98" x2="1756.9" y2="547.18" class="sl"/>
<line x1="1742.5" y1="611.57" x2="1760.5" y2="611.57" class="ex"/>
<line x1="1746.1" y1="605.97" x2="1756.9" y2="617.17" class="sl"/>
<line x1="1742.5" y1="802.88" x2="1760.5" y2="802.88" class="ex"/>
<line x1="1746.1" y1="797.28" x2="1756.9" y2="808.48" class="sl"/>
<line x1="1742.5" y1="808.94" x2="1760.5" y2="808.94" class="ex"/>
<line x1="1746.1" y1="803.34" x2="1756.9" y2="814.54" class="sl"/>
<line x1="1728.5" y1="153.5" x2="1728.5" y2="829.8" class="dd"/>
<line x1="1719.5" y1="182.3" x2="1737.5" y2="182.3" class="ex"/>
<line x1="1723.1" y1="176.7" x2="1733.9" y2="187.9" class="sl"/>
<line x1="1719.5" y1="196.3" x2="1737.5" y2="196.3" class="ex"/>
<line x1="1723.1" y1="190.7" x2="1733.9" y2="201.9" class="sl"/>
<line x1="1719.5" y1="527.58" x2="1737.5" y2="527.58" class="ex"/>
<line x1="1723.1" y1="521.98" x2="1733.9" y2="533.18" class="sl"/>
<line x1="1719.5" y1="541.58" x2="1737.5" y2="541.58" class="ex"/>
<line x1="1723.1" y1="535.98" x2="1733.9" y2="547.18" class="sl"/>
<line x1="1719.5" y1="611.57" x2="1737.5" y2="611.57" class="ex"/>
<line x1="1723.1" y1="605.97" x2="1733.9" y2="617.17" class="sl"/>
<line x1="1719.5" y1="625.57" x2="1737.5" y2="625.57" class="ex"/>
<line x1="1723.1" y1="619.97" x2="1733.9" y2="631.17" class="sl"/>
<line x1="1719.5" y1="788.88" x2="1737.5" y2="788.88" class="ex"/>
<line x1="1723.1" y1="783.28" x2="1733.9" y2="794.48" class="sl"/>
<line x1="1719.5" y1="802.88" x2="1737.5" y2="802.88" class="ex"/>
<line x1="1723.1" y1="797.28" x2="1733.9" y2="808.48" class="sl"/>
<line x1="1705.2" y1="153.5" x2="1705.2" y2="829.8" class="dd"/>
<line x1="1696.2" y1="182.3" x2="1714.2" y2="182.3" class="ex"/>
<line x1="1699.8" y1="176.7" x2="1710.6" y2="187.9" class="sl"/>
<line x1="1696.2" y1="196.3" x2="1714.2" y2="196.3" class="ex"/>
<line x1="1699.8" y1="190.7" x2="1710.6" y2="201.9" class="sl"/>
<line x1="1696.2" y1="382.94" x2="1714.2" y2="382.94" class="ex"/>
<line x1="1699.8" y1="377.34" x2="1710.6" y2="388.54" class="sl"/>
<line x1="1696.2" y1="387.6" x2="1714.2" y2="387.6" class="ex"/>
<line x1="1699.8" y1="382" x2="1710.6" y2="393.2" class="sl"/>
<line x1="1696.2" y1="527.58" x2="1714.2" y2="527.58" class="ex"/>
<line x1="1699.8" y1="521.98" x2="1710.6" y2="533.18" class="sl"/>
<line x1="1696.2" y1="532.25" x2="1714.2" y2="532.25" class="ex"/>
<line x1="1699.8" y1="526.65" x2="1710.6" y2="537.85" class="sl"/>
<line x1="1696.2" y1="620.9" x2="1714.2" y2="620.9" class="ex"/>
<line x1="1699.8" y1="615.3" x2="1710.6" y2="626.5" class="sl"/>
<line x1="1696.2" y1="625.57" x2="1714.2" y2="625.57" class="ex"/>
<line x1="1699.8" y1="619.97" x2="1710.6" y2="631.17" class="sl"/>
<line x1="1696.2" y1="788.88" x2="1714.2" y2="788.88" class="ex"/>
<line x1="1699.8" y1="783.28" x2="1710.6" y2="794.48" class="sl"/>
<line x1="1696.2" y1="802.88" x2="1714.2" y2="802.88" class="ex"/>
<line x1="1699.8" y1="797.28" x2="1710.6" y2="808.48" class="sl"/>
<line x1="1681.4" y1="153.5" x2="1681.4" y2="829.8" class="dd"/>
<line x1="1672.4" y1="182.3" x2="1690.4" y2="182.3" class="ex"/>
<line x1="1676" y1="176.7" x2="1686.8" y2="187.9" class="sl"/>
<line x1="1672.4" y1="196.3" x2="1690.4" y2="196.3" class="ex"/>
<line x1="1676" y1="190.7" x2="1686.8" y2="201.9" class="sl"/>
<line x1="1672.4" y1="336.28" x2="1690.4" y2="336.28" class="ex"/>
<line x1="1676" y1="330.68" x2="1686.8" y2="341.88" class="sl"/>
<line x1="1672.4" y1="340.94" x2="1690.4" y2="340.94" class="ex"/>
<line x1="1676" y1="335.34" x2="1686.8" y2="346.54" class="sl"/>
<line x1="1672.4" y1="424.93" x2="1690.4" y2="424.93" class="ex"/>
<line x1="1676" y1="419.33" x2="1686.8" y2="430.53" class="sl"/>
<line x1="1672.4" y1="429.6" x2="1690.4" y2="429.6" class="ex"/>
<line x1="1676" y1="424" x2="1686.8" y2="435.2" class="sl"/>
<line x1="1672.4" y1="527.58" x2="1690.4" y2="527.58" class="ex"/>
<line x1="1676" y1="521.98" x2="1686.8" y2="533.18" class="sl"/>
<line x1="1672.4" y1="532.25" x2="1690.4" y2="532.25" class="ex"/>
<line x1="1676" y1="526.65" x2="1686.8" y2="537.85" class="sl"/>
<line x1="1672.4" y1="620.9" x2="1690.4" y2="620.9" class="ex"/>
<line x1="1676" y1="615.3" x2="1686.8" y2="626.5" class="sl"/>
<line x1="1672.4" y1="625.57" x2="1690.4" y2="625.57" class="ex"/>
<line x1="1676" y1="619.97" x2="1686.8" y2="631.17" class="sl"/>
<line x1="1672.4" y1="686.23" x2="1690.4" y2="686.23" class="ex"/>
<line x1="1676" y1="680.63" x2="1686.8" y2="691.83" class="sl"/>
<line x1="1672.4" y1="690.89" x2="1690.4" y2="690.89" class="ex"/>
<line x1="1676" y1="685.29" x2="1686.8" y2="696.49" class="sl"/>
<line x1="1672.4" y1="788.88" x2="1690.4" y2="788.88" class="ex"/>
<line x1="1676" y1="783.28" x2="1686.8" y2="794.48" class="sl"/>
<line x1="1672.4" y1="802.88" x2="1690.4" y2="802.88" class="ex"/>
<line x1="1676" y1="797.28" x2="1686.8" y2="808.48" class="sl"/>
<line x1="1658.2" y1="168.4" x2="1658.2" y2="816.3" class="dl"/>
<line x1="1649.2" y1="182.3" x2="1667.2" y2="182.3" class="ex"/>
<line x1="1652.8" y1="176.7" x2="1663.6" y2="187.9" class="sl"/>
<line x1="1649.2" y1="434.26" x2="1667.2" y2="434.26" class="ex"/>
<line x1="1652.8" y1="428.66" x2="1663.6" y2="439.86" class="sl"/>
<line x1="1649.2" y1="490.26" x2="1667.2" y2="490.26" class="ex"/>
<line x1="1652.8" y1="484.66" x2="1663.6" y2="495.86" class="sl"/>
<line x1="1649.2" y1="541.58" x2="1667.2" y2="541.58" class="ex"/>
<line x1="1652.8" y1="535.98" x2="1663.6" y2="547.18" class="sl"/>
<line x1="1649.2" y1="553.25" x2="1667.2" y2="553.25" class="ex"/>
<line x1="1652.8" y1="547.65" x2="1663.6" y2="558.85" class="sl"/>
<line x1="1649.2" y1="599.91" x2="1667.2" y2="599.91" class="ex"/>
<line x1="1652.8" y1="594.31" x2="1663.6" y2="605.51" class="sl"/>
<line x1="1649.2" y1="611.57" x2="1667.2" y2="611.57" class="ex"/>
<line x1="1652.8" y1="605.97" x2="1663.6" y2="617.17" class="sl"/>
<line x1="1649.2" y1="679.23" x2="1667.2" y2="679.23" class="ex"/>
<line x1="1652.8" y1="673.63" x2="1663.6" y2="684.83" class="sl"/>
<line x1="1649.2" y1="735.22" x2="1667.2" y2="735.22" class="ex"/>
<line x1="1652.8" y1="729.62" x2="1663.6" y2="740.82" class="sl"/>
<line x1="1649.2" y1="802.88" x2="1667.2" y2="802.88" class="ex"/>
<line x1="1652.8" y1="797.28" x2="1663.6" y2="808.48" class="sl"/>
<line x1="1634.5" y1="499" x2="1634.5" y2="652.5" class="dl"/>
<line x1="1625.5" y1="512.6" x2="1643.5" y2="512.6" class="ex"/>
<line x1="1629.1" y1="507" x2="1639.9" y2="518.2" class="sl"/>
<line x1="1625.5" y1="638.4" x2="1643.5" y2="638.4" class="ex"/>
<line x1="1629.1" y1="632.8" x2="1639.9" y2="644" class="sl"/>
<line x1="245" y1="662.8" x2="330" y2="662.8" class="dl"/>
<line x1="270.7" y1="653.8" x2="270.7" y2="671.8" class="ex"/>
<line x1="265.1" y1="668.2" x2="276.3" y2="657.4" class="sl"/>
<line x1="286.1" y1="653.8" x2="286.1" y2="671.8" class="ex"/>
<line x1="280.5" y1="668.2" x2="291.7" y2="657.4" class="sl"/>
<line x1="301.8" y1="653.8" x2="301.8" y2="671.8" class="ex"/>
<line x1="296.2" y1="668.2" x2="307.4" y2="657.4" class="sl"/>
<line x1="1540" y1="662.8" x2="1625" y2="662.8" class="dl"/>
<line x1="1568.2" y1="653.8" x2="1568.2" y2="671.8" class="ex"/>
<line x1="1562.6" y1="668.2" x2="1573.8" y2="657.4" class="sl"/>
<line x1="1583.9" y1="653.8" x2="1583.9" y2="671.8" class="ex"/>
<line x1="1578.3" y1="668.2" x2="1589.5" y2="657.4" class="sl"/>
<line x1="1599.3" y1="653.8" x2="1599.3" y2="671.8" class="ex"/>
<line x1="1593.7" y1="668.2" x2="1604.9" y2="657.4" class="sl"/>
<line x1="1040" y1="120" x2="1040" y2="823" class="dd"/>
<line x1="1031" y1="148.3" x2="1049" y2="148.3" class="ex"/>
<line x1="1034.6" y1="142.7" x2="1045.4" y2="153.9" class="sl"/>
<line x1="1031" y1="162.3" x2="1049" y2="162.3" class="ex"/>
<line x1="1034.6" y1="156.7" x2="1045.4" y2="167.9" class="sl"/>
<line x1="1031" y1="176.3" x2="1049" y2="176.3" class="ex"/>
<line x1="1034.6" y1="170.7" x2="1045.4" y2="181.9" class="sl"/>
<line x1="1031" y1="321" x2="1049" y2="321" class="ex"/>
<line x1="1034.6" y1="315.4" x2="1045.4" y2="326.6" class="sl"/>
<line x1="1031" y1="327.1" x2="1049" y2="327.1" class="ex"/>
<line x1="1034.6" y1="321.5" x2="1045.4" y2="332.7" class="sl"/>
<line x1="1031" y1="341.1" x2="1049" y2="341.1" class="ex"/>
<line x1="1034.6" y1="335.5" x2="1045.4" y2="346.7" class="sl"/>
<line x1="1031" y1="383.1" x2="1049" y2="383.1" class="ex"/>
<line x1="1034.6" y1="377.5" x2="1045.4" y2="388.7" class="sl"/>
<line x1="1031" y1="389.2" x2="1049" y2="389.2" class="ex"/>
<line x1="1034.6" y1="383.6" x2="1045.4" y2="394.8" class="sl"/>
<line x1="1031" y1="403.2" x2="1049" y2="403.2" class="ex"/>
<line x1="1034.6" y1="397.6" x2="1045.4" y2="408.8" class="sl"/>
<line x1="1031" y1="683.3" x2="1049" y2="683.3" class="ex"/>
<line x1="1034.6" y1="677.7" x2="1045.4" y2="688.9" class="sl"/>
<line x1="1031" y1="688" x2="1049" y2="688" class="ex"/>
<line x1="1034.6" y1="682.4" x2="1045.4" y2="693.6" class="sl"/>
<line x1="1031" y1="742.6" x2="1049" y2="742.6" class="ex"/>
<line x1="1034.6" y1="737" x2="1045.4" y2="748.2" class="sl"/>
<line x1="1031" y1="756.6" x2="1049" y2="756.6" class="ex"/>
<line x1="1034.6" y1="751" x2="1045.4" y2="762.2" class="sl"/>
<line x1="1031" y1="762.7" x2="1049" y2="762.7" class="ex"/>
<line x1="1034.6" y1="757.1" x2="1045.4" y2="768.3" class="sl"/>
<line x1="1031" y1="809.3" x2="1049" y2="809.3" class="ex"/>
<line x1="1034.6" y1="803.7" x2="1045.4" y2="814.9" class="sl"/>
<line x1="1064" y1="147" x2="1064" y2="231.5" class="dl"/>
<line x1="1055" y1="176.3" x2="1073" y2="176.3" class="ex"/>
<line x1="1058.6" y1="170.7" x2="1069.4" y2="181.9" class="sl"/>
<line x1="1055" y1="204.3" x2="1073" y2="204.3" class="ex"/>
<line x1="1058.6" y1="198.7" x2="1069.4" y2="209.9" class="sl"/>
<line x1="621.8" y1="335.4" x2="632.6" y2="346.6" class="sl"/>
<line x1="621.8" y1="344.4" x2="632.6" y2="355.6" class="sl"/>
<line x1="621.8" y1="358.7" x2="632.6" y2="369.9" class="sl"/>
<line x1="621.8" y1="479.8" x2="632.6" y2="491" class="sl"/>
<line x1="621.8" y1="494" x2="632.6" y2="505.2" class="sl"/>
<line x1="621.8" y1="615.4" x2="632.6" y2="626.6" class="sl"/>
<line x1="1237.4" y1="335.4" x2="1248.2" y2="346.6" class="sl"/>
<line x1="1237.4" y1="344.4" x2="1248.2" y2="355.6" class="sl"/>
<line x1="1237.4" y1="358.7" x2="1248.2" y2="369.9" class="sl"/>
<line x1="1237.4" y1="479.8" x2="1248.2" y2="491" class="sl"/>
<line x1="1237.4" y1="494" x2="1248.2" y2="505.2" class="sl"/>
<line x1="1237.4" y1="615.4" x2="1248.2" y2="626.6" class="sl"/>
</g>
<g id="wall">
<path d="M346.13 182.3 L301.8 182.3 L301.8 434.26 L315.8 434.26 L315.8 196.3 L346.13 196.3Z M402.12 182.3 L479.11 182.3 L479.11 196.3 L402.12 196.3Z M535.1 182.3 L591.09 182.3 L591.09 326.95 L606.02 326.95 L606.02 340.94 L591.09 340.94 L591.09 349.81 L577.09 349.81 L577.09 196.3 L535.1 196.3Z M301.8 490.26 L315.8 490.26 L315.8 527.58 L385.79 527.58 L385.79 553.25 L371.79 553.25 L371.79 541.58 L301.8 541.58Z M301.8 611.57 L371.79 611.57 L371.79 599.91 L385.79 599.91 L385.79 625.57 L315.8 625.57 L315.8 679.23 L301.8 679.23Z M301.8 735.22 L315.8 735.22 L315.8 788.88 L507.1 788.88 L507.1 802.88 L301.8 802.88Z M535.1 788.88 L675.08 788.88 L675.08 802.88 L535.1 802.88Z M703.08 788.88 L774 788.88 L774 382.94 L788 382.94 L788 389 L799.66 389 L799.66 403 L788 403 L788 742.22 L841.66 742.22 L841.66 756.22 L788 756.22 L788 802.88 L703.08 802.88Z M577.09 620.9 L591.09 620.9 L591.09 719.36 L577.09 719.36Z M432.45 196.3 L437.11 196.3 L437.11 340.94 L432.45 340.94Z M432.45 336.28 L486.57 336.28 L486.57 340.94 L432.45 340.94Z M527.63 336.28 L577.09 336.28 L577.09 340.94 L527.63 340.94Z M315.8 382.94 L438.51 382.94 L445.05 389.47 L441.78 392.74 L436.65 387.6 L315.8 387.6Z M470.71 421.67 L473.98 418.4 L480.51 424.93 L543.03 424.93 L543.03 429.6 L483.77 429.6 L483.77 527.58 L479.11 527.58 L479.11 430.06Z M577.09 410.93 L581.76 410.93 L581.76 553.25 L577.09 553.25Z M385.79 527.58 L577.09 527.58 L577.09 532.25 L385.79 532.25Z M385.79 620.9 L493.81 620.9 L493.81 625.57 L385.79 625.57Z M534.4 620.9 L577.09 620.9 L577.09 625.57 L534.4 625.57Z M455.78 666.16 L460.44 666.16 L460.44 788.88 L455.78 788.88Z M460.44 686.23 L501.27 686.23 L501.27 690.89 L460.44 690.89Z M533.7 686.23 L577.09 686.23 L577.09 690.89 L533.7 690.89Z M591.09 713.76 L655.48 713.76 L655.48 719.36 L591.09 719.36Z M689.54 713.76 L774 713.76 L774 719.36 L689.54 719.36Z M623.75 719.36 L628.42 719.36 L628.42 788.88 L623.75 788.88Z M788 682.5 L835.12 682.5 L835.12 688.09 L788 688.09Z M868.49 682.5 L927.98 682.5 L927.98 688.09 L868.49 688.09Z M1523.87 182.3 L1568.2 182.3 L1568.2 434.26 L1554.2 434.26 L1554.2 196.3 L1523.87 196.3Z M1467.88 182.3 L1390.89 182.3 L1390.89 196.3 L1467.88 196.3Z M1334.9 182.3 L1278.91 182.3 L1278.91 326.95 L1263.98 326.95 L1263.98 340.94 L1278.91 340.94 L1278.91 349.81 L1292.91 349.81 L1292.91 196.3 L1334.9 196.3Z M1568.2 490.26 L1554.2 490.26 L1554.2 527.58 L1484.21 527.58 L1484.21 553.25 L1498.21 553.25 L1498.21 541.58 L1568.2 541.58Z M1568.2 611.57 L1498.21 611.57 L1498.21 599.91 L1484.21 599.91 L1484.21 625.57 L1554.2 625.57 L1554.2 679.23 L1568.2 679.23Z M1568.2 735.22 L1554.2 735.22 L1554.2 788.88 L1362.9 788.88 L1362.9 802.88 L1568.2 802.88Z M1334.9 788.88 L1194.92 788.88 L1194.92 802.88 L1334.9 802.88Z M1166.92 788.88 L1096 788.88 L1096 382.94 L1082 382.94 L1082 389 L1070.34 389 L1070.34 403 L1082 403 L1082 742.22 L1028.34 742.22 L1028.34 756.22 L1082 756.22 L1082 802.88 L1166.92 802.88Z M1292.91 620.9 L1278.91 620.9 L1278.91 719.36 L1292.91 719.36Z M1437.55 196.3 L1432.89 196.3 L1432.89 340.94 L1437.55 340.94Z M1437.55 336.28 L1383.43 336.28 L1383.43 340.94 L1437.55 340.94Z M1342.37 336.28 L1292.91 336.28 L1292.91 340.94 L1342.37 340.94Z M1554.2 382.94 L1431.49 382.94 L1424.95 389.47 L1428.22 392.74 L1433.35 387.6 L1554.2 387.6Z M1399.29 421.67 L1396.02 418.4 L1389.49 424.93 L1326.97 424.93 L1326.97 429.6 L1386.23 429.6 L1386.23 527.58 L1390.89 527.58 L1390.89 430.06Z M1292.91 410.93 L1288.24 410.93 L1288.24 553.25 L1292.91 553.25Z M1484.21 527.58 L1292.91 527.58 L1292.91 532.25 L1484.21 532.25Z M1484.21 620.9 L1376.19 620.9 L1376.19 625.57 L1484.21 625.57Z M1335.6 620.9 L1292.91 620.9 L1292.91 625.57 L1335.6 625.57Z M1414.22 666.16 L1409.56 666.16 L1409.56 788.88 L1414.22 788.88Z M1409.56 686.23 L1368.73 686.23 L1368.73 690.89 L1409.56 690.89Z M1336.3 686.23 L1292.91 686.23 L1292.91 690.89 L1336.3 690.89Z M1278.91 713.76 L1214.52 713.76 L1214.52 719.36 L1278.91 719.36Z M1180.46 713.76 L1096 713.76 L1096 719.36 L1180.46 719.36Z M1246.25 719.36 L1241.58 719.36 L1241.58 788.88 L1246.25 788.88Z M1082 682.5 L1034.88 682.5 L1034.88 688.09 L1082 688.09Z M1001.51 682.5 L942.02 682.5 L942.02 688.09 L1001.51 688.09Z M869.65 742.22 L927.98 742.22 L927.98 403 L916.31 403 L916.31 389 L953.64 389 L953.64 403 L941.98 403 L941.98 742.22 L1000.3 742.22 L1000.3 756.22 L869.65 756.22Z M927.98 319.95 L941.98 319.95 L941.98 382.7 L927.98 382.7Z M927.98 762.52 L941.98 762.52 L941.98 808.48 L927.98 808.48Z" fill="#fff" stroke="none"/>
<path d="M-334 811L299 178M-331.4 811L301.6 178M-328.8 811L304.2 178M-326.2 811L306.8 178M-323.6 811L309.4 178M-321 811L312 178M-318.4 811L314.6 178M-315.8 811L317.2 178M-313.2 811L319.8 178M-310.6 811L322.4 178M-308 811L325 178M-305.4 811L327.6 178M-302.8 811L330.2 178M-300.2 811L332.8 178M-297.6 811L335.4 178M-295 811L338 178M-292.4 811L340.6 178M-289.8 811L343.2 178M-287.2 811L345.8 178M-284.6 811L348.4 178M-282 811L351 178M-279.4 811L353.6 178M-276.8 811L356.2 178M-274.2 811L358.8 178M-271.6 811L361.4 178M-269 811L364 178M-266.4 811L366.6 178M-263.8 811L369.2 178M-261.2 811L371.8 178M-258.6 811L374.4 178M-256 811L377 178M-253.4 811L379.6 178M-250.8 811L382.2 178M-248.2 811L384.8 178M-245.6 811L387.4 178M-243 811L390 178M-240.4 811L392.6 178M-237.8 811L395.2 178M-235.2 811L397.8 178M-232.6 811L400.4 178M-230 811L403 178M-227.4 811L405.6 178M-224.8 811L408.2 178M-222.2 811L410.8 178M-219.6 811L413.4 178M-217 811L416 178M-214.4 811L418.6 178M-211.8 811L421.2 178M-209.2 811L423.8 178M-206.6 811L426.4 178M-204 811L429 178M-201.4 811L431.6 178M-198.8 811L434.2 178M-196.2 811L436.8 178M-193.6 811L439.4 178M-191 811L442 178M-188.4 811L444.6 178M-185.8 811L447.2 178M-183.2 811L449.8 178M-180.6 811L452.4 178M-178 811L455 178M-175.4 811L457.6 178M-172.8 811L460.2 178M-170.2 811L462.8 178M-167.6 811L465.4 178M-165 811L468 178M-162.4 811L470.6 178M-159.8 811L473.2 178M-157.2 811L475.8 178M-154.6 811L478.4 178M-152 811L481 178M-149.4 811L483.6 178M-146.8 811L486.2 178M-144.2 811L488.8 178M-141.6 811L491.4 178M-139 811L494 178M-136.4 811L496.6 178M-133.8 811L499.2 178M-131.2 811L501.8 178M-128.6 811L504.4 178M-126 811L507 178M-123.4 811L509.6 178M-120.8 811L512.2 178M-118.2 811L514.8 178M-115.6 811L517.4 178M-113 811L520 178M-110.4 811L522.6 178M-107.8 811L525.2 178M-105.2 811L527.8 178M-102.6 811L530.4 178M-100 811L533 178M-97.4 811L535.6 178M-94.8 811L538.2 178M-92.2 811L540.8 178M-89.6 811L543.4 178M-87 811L546 178M-84.4 811L548.6 178M-81.8 811L551.2 178M-79.2 811L553.8 178M-76.6 811L556.4 178M-74 811L559 178M-71.4 811L561.6 178M-68.8 811L564.2 178M-66.2 811L566.8 178M-63.6 811L569.4 178M-61 811L572 178M-58.4 811L574.6 178M-55.8 811L577.2 178M-53.2 811L579.8 178M-50.6 811L582.4 178M-48 811L585 178M-45.4 811L587.6 178M-42.8 811L590.2 178M-40.2 811L592.8 178M-37.6 811L595.4 178M-35 811L598 178M-32.4 811L600.6 178M-29.8 811L603.2 178M-27.2 811L605.8 178M-24.6 811L608.4 178M-22 811L611 178M-19.4 811L613.6 178M-16.8 811L616.2 178M-14.2 811L618.8 178M-11.6 811L621.4 178M-9 811L624 178M-6.4 811L626.6 178M-3.8 811L629.2 178M-1.2 811L631.8 178M1.4 811L634.4 178M4 811L637 178M6.6 811L639.6 178M9.2 811L642.2 178M11.8 811L644.8 178M14.4 811L647.4 178M17 811L650 178M19.6 811L652.6 178M22.2 811L655.2 178M24.8 811L657.8 178M27.4 811L660.4 178M30 811L663 178M32.6 811L665.6 178M35.2 811L668.2 178M37.8 811L670.8 178M40.4 811L673.4 178M43 811L676 178M45.6 811L678.6 178M48.2 811L681.2 178M50.8 811L683.8 178M53.4 811L686.4 178M56 811L689 178M58.6 811L691.6 178M61.2 811L694.2 178M63.8 811L696.8 178M66.4 811L699.4 178M69 811L702 178M71.6 811L704.6 178M74.2 811L707.2 178M76.8 811L709.8 178M79.4 811L712.4 178M82 811L715 178M84.6 811L717.6 178M87.2 811L720.2 178M89.8 811L722.8 178M92.4 811L725.4 178M95 811L728 178M97.6 811L730.6 178M100.2 811L733.2 178M102.8 811L735.8 178M105.4 811L738.4 178M108 811L741 178M110.6 811L743.6 178M113.2 811L746.2 178M115.8 811L748.8 178M118.4 811L751.4 178M121 811L754 178M123.6 811L756.6 178M126.2 811L759.2 178M128.8 811L761.8 178M131.4 811L764.4 178M134 811L767 178M136.6 811L769.6 178M139.2 811L772.2 178M141.8 811L774.8 178M144.4 811L777.4 178M147 811L780 178M149.6 811L782.6 178M152.2 811L785.2 178M154.8 811L787.8 178M157.4 811L790.4 178M160 811L793 178M162.6 811L795.6 178M165.2 811L798.2 178M167.8 811L800.8 178M170.4 811L803.4 178M173 811L806 178M175.6 811L808.6 178M178.2 811L811.2 178M180.8 811L813.8 178M183.4 811L816.4 178M186 811L819 178M188.6 811L821.6 178M191.2 811L824.2 178M193.8 811L826.8 178M196.4 811L829.4 178M199 811L832 178M201.6 811L834.6 178M204.2 811L837.2 178M206.8 811L839.8 178M209.4 811L842.4 178M212 811L845 178M214.6 811L847.6 178M217.2 811L850.2 178M219.8 811L852.8 178M222.4 811L855.4 178M225 811L858 178M227.6 811L860.6 178M230.2 811L863.2 178M232.8 811L865.8 178M235.4 811L868.4 178M238 811L871 178M240.6 811L873.6 178M243.2 811L876.2 178M245.8 811L878.8 178M248.4 811L881.4 178M251 811L884 178M253.6 811L886.6 178M256.2 811L889.2 178M258.8 811L891.8 178M261.4 811L894.4 178M264 811L897 178M266.6 811L899.6 178M269.2 811L902.2 178M271.8 811L904.8 178M274.4 811L907.4 178M277 811L910 178M279.6 811L912.6 178M282.2 811L915.2 178M284.8 811L917.8 178M287.4 811L920.4 178M290 811L923 178M292.6 811L925.6 178M295.2 811L928.2 178M297.8 811L930.8 178M300.4 811L933.4 178M303 811L936 178M305.6 811L938.6 178M308.2 811L941.2 178M310.8 811L943.8 178M313.4 811L946.4 178M316 811L949 178M318.6 811L951.6 178M321.2 811L954.2 178M323.8 811L956.8 178M326.4 811L959.4 178M329 811L962 178M331.6 811L964.6 178M334.2 811L967.2 178M336.8 811L969.8 178M339.4 811L972.4 178M342 811L975 178M344.6 811L977.6 178M347.2 811L980.2 178M349.8 811L982.8 178M352.4 811L985.4 178M355 811L988 178M357.6 811L990.6 178M360.2 811L993.2 178M362.8 811L995.8 178M365.4 811L998.4 178M368 811L1001 178M370.6 811L1003.6 178M373.2 811L1006.2 178M375.8 811L1008.8 178M378.4 811L1011.4 178M381 811L1014 178M383.6 811L1016.6 178M386.2 811L1019.2 178M388.8 811L1021.8 178M391.4 811L1024.4 178M394 811L1027 178M396.6 811L1029.6 178M399.2 811L1032.2 178M401.8 811L1034.8 178M404.4 811L1037.4 178M407 811L1040 178M409.6 811L1042.6 178M412.2 811L1045.2 178M414.8 811L1047.8 178M417.4 811L1050.4 178M420 811L1053 178M422.6 811L1055.6 178M425.2 811L1058.2 178M427.8 811L1060.8 178M430.4 811L1063.4 178M433 811L1066 178M435.6 811L1068.6 178M438.2 811L1071.2 178M440.8 811L1073.8 178M443.4 811L1076.4 178M446 811L1079 178M448.6 811L1081.6 178M451.2 811L1084.2 178M453.8 811L1086.8 178M456.4 811L1089.4 178M459 811L1092 178M461.6 811L1094.6 178M464.2 811L1097.2 178M466.8 811L1099.8 178M469.4 811L1102.4 178M472 811L1105 178M474.6 811L1107.6 178M477.2 811L1110.2 178M479.8 811L1112.8 178M482.4 811L1115.4 178M485 811L1118 178M487.6 811L1120.6 178M490.2 811L1123.2 178M492.8 811L1125.8 178M495.4 811L1128.4 178M498 811L1131 178M500.6 811L1133.6 178M503.2 811L1136.2 178M505.8 811L1138.8 178M508.4 811L1141.4 178M511 811L1144 178M513.6 811L1146.6 178M516.2 811L1149.2 178M518.8 811L1151.8 178M521.4 811L1154.4 178M524 811L1157 178M526.6 811L1159.6 178M529.2 811L1162.2 178M531.8 811L1164.8 178M534.4 811L1167.4 178M537 811L1170 178M539.6 811L1172.6 178M542.2 811L1175.2 178M544.8 811L1177.8 178M547.4 811L1180.4 178M550 811L1183 178M552.6 811L1185.6 178M555.2 811L1188.2 178M557.8 811L1190.8 178M560.4 811L1193.4 178M563 811L1196 178M565.6 811L1198.6 178M568.2 811L1201.2 178M570.8 811L1203.8 178M573.4 811L1206.4 178M576 811L1209 178M578.6 811L1211.6 178M581.2 811L1214.2 178M583.8 811L1216.8 178M586.4 811L1219.4 178M589 811L1222 178M591.6 811L1224.6 178M594.2 811L1227.2 178M596.8 811L1229.8 178M599.4 811L1232.4 178M602 811L1235 178M604.6 811L1237.6 178M607.2 811L1240.2 178M609.8 811L1242.8 178M612.4 811L1245.4 178M615 811L1248 178M617.6 811L1250.6 178M620.2 811L1253.2 178M622.8 811L1255.8 178M625.4 811L1258.4 178M628 811L1261 178M630.6 811L1263.6 178M633.2 811L1266.2 178M635.8 811L1268.8 178M638.4 811L1271.4 178M641 811L1274 178M643.6 811L1276.6 178M646.2 811L1279.2 178M648.8 811L1281.8 178M651.4 811L1284.4 178M654 811L1287 178M656.6 811L1289.6 178M659.2 811L1292.2 178M661.8 811L1294.8 178M664.4 811L1297.4 178M667 811L1300 178M669.6 811L1302.6 178M672.2 811L1305.2 178M674.8 811L1307.8 178M677.4 811L1310.4 178M680 811L1313 178M682.6 811L1315.6 178M685.2 811L1318.2 178M687.8 811L1320.8 178M690.4 811L1323.4 178M693 811L1326 178M695.6 811L1328.6 178M698.2 811L1331.2 178M700.8 811L1333.8 178M703.4 811L1336.4 178M706 811L1339 178M708.6 811L1341.6 178M711.2 811L1344.2 178M713.8 811L1346.8 178M716.4 811L1349.4 178M719 811L1352 178M721.6 811L1354.6 178M724.2 811L1357.2 178M726.8 811L1359.8 178M729.4 811L1362.4 178M732 811L1365 178M734.6 811L1367.6 178M737.2 811L1370.2 178M739.8 811L1372.8 178M742.4 811L1375.4 178M745 811L1378 178M747.6 811L1380.6 178M750.2 811L1383.2 178M752.8 811L1385.8 178M755.4 811L1388.4 178M758 811L1391 178M760.6 811L1393.6 178M763.2 811L1396.2 178M765.8 811L1398.8 178M768.4 811L1401.4 178M771 811L1404 178M773.6 811L1406.6 178M776.2 811L1409.2 178M778.8 811L1411.8 178M781.4 811L1414.4 178M784 811L1417 178M786.6 811L1419.6 178M789.2 811L1422.2 178M791.8 811L1424.8 178M794.4 811L1427.4 178M797 811L1430 178M799.6 811L1432.6 178M802.2 811L1435.2 178M804.8 811L1437.8 178M807.4 811L1440.4 178M810 811L1443 178M812.6 811L1445.6 178M815.2 811L1448.2 178M817.8 811L1450.8 178M820.4 811L1453.4 178M823 811L1456 178M825.6 811L1458.6 178M828.2 811L1461.2 178M830.8 811L1463.8 178M833.4 811L1466.4 178M836 811L1469 178M838.6 811L1471.6 178M841.2 811L1474.2 178M843.8 811L1476.8 178M846.4 811L1479.4 178M849 811L1482 178M851.6 811L1484.6 178M854.2 811L1487.2 178M856.8 811L1489.8 178M859.4 811L1492.4 178M862 811L1495 178M864.6 811L1497.6 178M867.2 811L1500.2 178M869.8 811L1502.8 178M872.4 811L1505.4 178M875 811L1508 178M877.6 811L1510.6 178M880.2 811L1513.2 178M882.8 811L1515.8 178M885.4 811L1518.4 178M888 811L1521 178M890.6 811L1523.6 178M893.2 811L1526.2 178M895.8 811L1528.8 178M898.4 811L1531.4 178M901 811L1534 178M903.6 811L1536.6 178M906.2 811L1539.2 178M908.8 811L1541.8 178M911.4 811L1544.4 178M914 811L1547 178M916.6 811L1549.6 178M919.2 811L1552.2 178M921.8 811L1554.8 178M924.4 811L1557.4 178M927 811L1560 178M929.6 811L1562.6 178M932.2 811L1565.2 178M934.8 811L1567.8 178M937.4 811L1570.4 178M940 811L1573 178M942.6 811L1575.6 178M945.2 811L1578.2 178M947.8 811L1580.8 178M950.4 811L1583.4 178M953 811L1586 178M955.6 811L1588.6 178M958.2 811L1591.2 178M960.8 811L1593.8 178M963.4 811L1596.4 178M966 811L1599 178M968.6 811L1601.6 178M971.2 811L1604.2 178M973.8 811L1606.8 178M976.4 811L1609.4 178M979 811L1612 178M981.6 811L1614.6 178M984.2 811L1617.2 178M986.8 811L1619.8 178M989.4 811L1622.4 178M992 811L1625 178M994.6 811L1627.6 178M997.2 811L1630.2 178M999.8 811L1632.8 178M1002.4 811L1635.4 178M1005 811L1638 178M1007.6 811L1640.6 178M1010.2 811L1643.2 178M1012.8 811L1645.8 178M1015.4 811L1648.4 178M1018 811L1651 178M1020.6 811L1653.6 178M1023.2 811L1656.2 178M1025.8 811L1658.8 178M1028.4 811L1661.4 178M1031 811L1664 178M1033.6 811L1666.6 178M1036.2 811L1669.2 178M1038.8 811L1671.8 178M1041.4 811L1674.4 178M1044 811L1677 178M1046.6 811L1679.6 178M1049.2 811L1682.2 178M1051.8 811L1684.8 178M1054.4 811L1687.4 178M1057 811L1690 178M1059.6 811L1692.6 178M1062.2 811L1695.2 178M1064.8 811L1697.8 178M1067.4 811L1700.4 178M1070 811L1703 178M1072.6 811L1705.6 178M1075.2 811L1708.2 178M1077.8 811L1710.8 178M1080.4 811L1713.4 178M1083 811L1716 178M1085.6 811L1718.6 178M1088.2 811L1721.2 178M1090.8 811L1723.8 178M1093.4 811L1726.4 178M1096 811L1729 178M1098.6 811L1731.6 178M1101.2 811L1734.2 178M1103.8 811L1736.8 178M1106.4 811L1739.4 178M1109 811L1742 178M1111.6 811L1744.6 178M1114.2 811L1747.2 178M1116.8 811L1749.8 178M1119.4 811L1752.4 178M1122 811L1755 178M1124.6 811L1757.6 178M1127.2 811L1760.2 178M1129.8 811L1762.8 178M1132.4 811L1765.4 178M1135 811L1768 178M1137.6 811L1770.6 178M1140.2 811L1773.2 178M1142.8 811L1775.8 178M1145.4 811L1778.4 178M1148 811L1781 178M1150.6 811L1783.6 178M1153.2 811L1786.2 178M1155.8 811L1788.8 178M1158.4 811L1791.4 178M1161 811L1794 178M1163.6 811L1796.6 178M1166.2 811L1799.2 178M1168.8 811L1801.8 178M1171.4 811L1804.4 178M1174 811L1807 178M1176.6 811L1809.6 178M1179.2 811L1812.2 178M1181.8 811L1814.8 178M1184.4 811L1817.4 178M1187 811L1820 178M1189.6 811L1822.6 178M1192.2 811L1825.2 178M1194.8 811L1827.8 178M1197.4 811L1830.4 178M1200 811L1833 178M1202.6 811L1835.6 178M1205.2 811L1838.2 178M1207.8 811L1840.8 178M1210.4 811L1843.4 178M1213 811L1846 178M1215.6 811L1848.6 178M1218.2 811L1851.2 178M1220.8 811L1853.8 178M1223.4 811L1856.4 178M1226 811L1859 178M1228.6 811L1861.6 178M1231.2 811L1864.2 178M1233.8 811L1866.8 178M1236.4 811L1869.4 178M1239 811L1872 178M1241.6 811L1874.6 178M1244.2 811L1877.2 178M1246.8 811L1879.8 178M1249.4 811L1882.4 178M1252 811L1885 178M1254.6 811L1887.6 178M1257.2 811L1890.2 178M1259.8 811L1892.8 178M1262.4 811L1895.4 178M1265 811L1898 178M1267.6 811L1900.6 178M1270.2 811L1903.2 178M1272.8 811L1905.8 178M1275.4 811L1908.4 178M1278 811L1911 178M1280.6 811L1913.6 178M1283.2 811L1916.2 178M1285.8 811L1918.8 178M1288.4 811L1921.4 178M1291 811L1924 178M1293.6 811L1926.6 178M1296.2 811L1929.2 178M1298.8 811L1931.8 178M1301.4 811L1934.4 178M1304 811L1937 178M1306.6 811L1939.6 178M1309.2 811L1942.2 178M1311.8 811L1944.8 178M1314.4 811L1947.4 178M1317 811L1950 178M1319.6 811L1952.6 178M1322.2 811L1955.2 178M1324.8 811L1957.8 178M1327.4 811L1960.4 178M1330 811L1963 178M1332.6 811L1965.6 178M1335.2 811L1968.2 178M1337.8 811L1970.8 178M1340.4 811L1973.4 178M1343 811L1976 178M1345.6 811L1978.6 178M1348.2 811L1981.2 178M1350.8 811L1983.8 178M1353.4 811L1986.4 178M1356 811L1989 178M1358.6 811L1991.6 178M1361.2 811L1994.2 178M1363.8 811L1996.8 178M1366.4 811L1999.4 178M1369 811L2002 178M1371.6 811L2004.6 178M1374.2 811L2007.2 178M1376.8 811L2009.8 178M1379.4 811L2012.4 178M1382 811L2015 178M1384.6 811L2017.6 178M1387.2 811L2020.2 178M1389.8 811L2022.8 178M1392.4 811L2025.4 178M1395 811L2028 178M1397.6 811L2030.6 178M1400.2 811L2033.2 178M1402.8 811L2035.8 178M1405.4 811L2038.4 178M1408 811L2041 178M1410.6 811L2043.6 178M1413.2 811L2046.2 178M1415.8 811L2048.8 178M1418.4 811L2051.4 178M1421 811L2054 178M1423.6 811L2056.6 178M1426.2 811L2059.2 178M1428.8 811L2061.8 178M1431.4 811L2064.4 178M1434 811L2067 178M1436.6 811L2069.6 178M1439.2 811L2072.2 178M1441.8 811L2074.8 178M1444.4 811L2077.4 178M1447 811L2080 178M1449.6 811L2082.6 178M1452.2 811L2085.2 178M1454.8 811L2087.8 178M1457.4 811L2090.4 178M1460 811L2093 178M1462.6 811L2095.6 178M1465.2 811L2098.2 178M1467.8 811L2100.8 178M1470.4 811L2103.4 178M1473 811L2106 178M1475.6 811L2108.6 178M1478.2 811L2111.2 178M1480.8 811L2113.8 178M1483.4 811L2116.4 178M1486 811L2119 178M1488.6 811L2121.6 178M1491.2 811L2124.2 178M1493.8 811L2126.8 178M1496.4 811L2129.4 178M1499 811L2132 178M1501.6 811L2134.6 178M1504.2 811L2137.2 178M1506.8 811L2139.8 178M1509.4 811L2142.4 178M1512 811L2145 178M1514.6 811L2147.6 178M1517.2 811L2150.2 178M1519.8 811L2152.8 178M1522.4 811L2155.4 178M1525 811L2158 178M1527.6 811L2160.6 178M1530.2 811L2163.2 178M1532.8 811L2165.8 178M1535.4 811L2168.4 178M1538 811L2171 178M1540.6 811L2173.6 178M1543.2 811L2176.2 178M1545.8 811L2178.8 178M1548.4 811L2181.4 178M1551 811L2184 178M1553.6 811L2186.6 178M1556.2 811L2189.2 178M1558.8 811L2191.8 178M1561.4 811L2194.4 178M1564 811L2197 178M1566.6 811L2199.6 178M1569.2 811L2202.2 178" clip-path="url(#wc)" class="hl"/>
<path d="M346.13 182.3 L301.8 182.3 L301.8 434.26 L315.8 434.26 L315.8 196.3 L346.13 196.3Z M402.12 182.3 L479.11 182.3 L479.11 196.3 L402.12 196.3Z M535.1 182.3 L591.09 182.3 L591.09 326.95 L606.02 326.95 L606.02 340.94 L591.09 340.94 L591.09 349.81 L577.09 349.81 L577.09 196.3 L535.1 196.3Z M301.8 490.26 L315.8 490.26 L315.8 527.58 L385.79 527.58 L385.79 553.25 L371.79 553.25 L371.79 541.58 L301.8 541.58Z M301.8 611.57 L371.79 611.57 L371.79 599.91 L385.79 599.91 L385.79 625.57 L315.8 625.57 L315.8 679.23 L301.8 679.23Z M301.8 735.22 L315.8 735.22 L315.8 788.88 L507.1 788.88 L507.1 802.88 L301.8 802.88Z M535.1 788.88 L675.08 788.88 L675.08 802.88 L535.1 802.88Z M703.08 788.88 L774 788.88 L774 382.94 L788 382.94 L788 389 L799.66 389 L799.66 403 L788 403 L788 742.22 L841.66 742.22 L841.66 756.22 L788 756.22 L788 802.88 L703.08 802.88Z M577.09 620.9 L591.09 620.9 L591.09 719.36 L577.09 719.36Z M432.45 196.3 L437.11 196.3 L437.11 340.94 L432.45 340.94Z M432.45 336.28 L486.57 336.28 L486.57 340.94 L432.45 340.94Z M527.63 336.28 L577.09 336.28 L577.09 340.94 L527.63 340.94Z M315.8 382.94 L438.51 382.94 L445.05 389.47 L441.78 392.74 L436.65 387.6 L315.8 387.6Z M470.71 421.67 L473.98 418.4 L480.51 424.93 L543.03 424.93 L543.03 429.6 L483.77 429.6 L483.77 527.58 L479.11 527.58 L479.11 430.06Z M577.09 410.93 L581.76 410.93 L581.76 553.25 L577.09 553.25Z M385.79 527.58 L577.09 527.58 L577.09 532.25 L385.79 532.25Z M385.79 620.9 L493.81 620.9 L493.81 625.57 L385.79 625.57Z M534.4 620.9 L577.09 620.9 L577.09 625.57 L534.4 625.57Z M455.78 666.16 L460.44 666.16 L460.44 788.88 L455.78 788.88Z M460.44 686.23 L501.27 686.23 L501.27 690.89 L460.44 690.89Z M533.7 686.23 L577.09 686.23 L577.09 690.89 L533.7 690.89Z M591.09 713.76 L655.48 713.76 L655.48 719.36 L591.09 719.36Z M689.54 713.76 L774 713.76 L774 719.36 L689.54 719.36Z M623.75 719.36 L628.42 719.36 L628.42 788.88 L623.75 788.88Z M788 682.5 L835.12 682.5 L835.12 688.09 L788 688.09Z M868.49 682.5 L927.98 682.5 L927.98 688.09 L868.49 688.09Z M1523.87 182.3 L1568.2 182.3 L1568.2 434.26 L1554.2 434.26 L1554.2 196.3 L1523.87 196.3Z M1467.88 182.3 L1390.89 182.3 L1390.89 196.3 L1467.88 196.3Z M1334.9 182.3 L1278.91 182.3 L1278.91 326.95 L1263.98 326.95 L1263.98 340.94 L1278.91 340.94 L1278.91 349.81 L1292.91 349.81 L1292.91 196.3 L1334.9 196.3Z M1568.2 490.26 L1554.2 490.26 L1554.2 527.58 L1484.21 527.58 L1484.21 553.25 L1498.21 553.25 L1498.21 541.58 L1568.2 541.58Z M1568.2 611.57 L1498.21 611.57 L1498.21 599.91 L1484.21 599.91 L1484.21 625.57 L1554.2 625.57 L1554.2 679.23 L1568.2 679.23Z M1568.2 735.22 L1554.2 735.22 L1554.2 788.88 L1362.9 788.88 L1362.9 802.88 L1568.2 802.88Z M1334.9 788.88 L1194.92 788.88 L1194.92 802.88 L1334.9 802.88Z M1166.92 788.88 L1096 788.88 L1096 382.94 L1082 382.94 L1082 389 L1070.34 389 L1070.34 403 L1082 403 L1082 742.22 L1028.34 742.22 L1028.34 756.22 L1082 756.22 L1082 802.88 L1166.92 802.88Z M1292.91 620.9 L1278.91 620.9 L1278.91 719.36 L1292.91 719.36Z M1437.55 196.3 L1432.89 196.3 L1432.89 340.94 L1437.55 340.94Z M1437.55 336.28 L1383.43 336.28 L1383.43 340.94 L1437.55 340.94Z M1342.37 336.28 L1292.91 336.28 L1292.91 340.94 L1342.37 340.94Z M1554.2 382.94 L1431.49 382.94 L1424.95 389.47 L1428.22 392.74 L1433.35 387.6 L1554.2 387.6Z M1399.29 421.67 L1396.02 418.4 L1389.49 424.93 L1326.97 424.93 L1326.97 429.6 L1386.23 429.6 L1386.23 527.58 L1390.89 527.58 L1390.89 430.06Z M1292.91 410.93 L1288.24 410.93 L1288.24 553.25 L1292.91 553.25Z M1484.21 527.58 L1292.91 527.58 L1292.91 532.25 L1484.21 532.25Z M1484.21 620.9 L1376.19 620.9 L1376.19 625.57 L1484.21 625.57Z M1335.6 620.9 L1292.91 620.9 L1292.91 625.57 L1335.6 625.57Z M1414.22 666.16 L1409.56 666.16 L1409.56 788.88 L1414.22 788.88Z M1409.56 686.23 L1368.73 686.23 L1368.73 690.89 L1409.56 690.89Z M1336.3 686.23 L1292.91 686.23 L1292.91 690.89 L1336.3 690.89Z M1278.91 713.76 L1214.52 713.76 L1214.52 719.36 L1278.91 719.36Z M1180.46 713.76 L1096 713.76 L1096 719.36 L1180.46 719.36Z M1246.25 719.36 L1241.58 719.36 L1241.58 788.88 L1246.25 788.88Z M1082 682.5 L1034.88 682.5 L1034.88 688.09 L1082 688.09Z M1001.51 682.5 L942.02 682.5 L942.02 688.09 L1001.51 688.09Z M869.65 742.22 L927.98 742.22 L927.98 403 L916.31 403 L916.31 389 L953.64 389 L953.64 403 L941.98 403 L941.98 742.22 L1000.3 742.22 L1000.3 756.22 L869.65 756.22Z M927.98 319.95 L941.98 319.95 L941.98 382.7 L927.98 382.7Z M927.98 762.52 L941.98 762.52 L941.98 808.48 L927.98 808.48Z" class="w"/>
<rect x="577.09" y="349.81" width="14" height="14.93" class="col"/>
<rect x="577.09" y="485.59" width="14" height="14.93" class="col"/>
<rect x="774" y="326.95" width="14" height="14" class="col"/>
<rect x="1278.91" y="349.81" width="14" height="14.93" class="col"/>
<rect x="1278.91" y="485.59" width="14" height="14.93" class="col"/>
<rect x="1082" y="326.95" width="14" height="14" class="col"/>
<line x1="647.8" y1="326.2" x2="647.8" y2="342" class="mu"/>
<line x1="689.8" y1="326.2" x2="689.8" y2="342" class="mu"/>
<line x1="731.9" y1="326.2" x2="731.9" y2="342" class="mu"/>
<line x1="1222.2" y1="326.2" x2="1222.2" y2="342" class="mu"/>
<line x1="1180.2" y1="326.2" x2="1180.2" y2="342" class="mu"/>
<line x1="1138.1" y1="326.2" x2="1138.1" y2="342" class="mu"/>
</g>
<g id="sym">
<line x1="862" y1="154.6" x2="924.2" y2="154.6" class="t"/>
<line x1="908.2" y1="138.4" x2="908.2" y2="170.6" class="t"/>
<circle cx="908.2" cy="154.6" r="10.3" fill="#fff" stroke="#555" stroke-width="0.9"/>
<path d="M908.2 154.6 L897.9 154.6 A10.3 10.3 0 0 1 908.2 144.3 Z" class="blk"/>
<path d="M908.2 154.6 L918.5 154.6 A10.3 10.3 0 0 1 908.2 164.9 Z" class="blk"/>
<line x1="692.9" y1="258.6" x2="754.8" y2="258.6" class="t"/>
<line x1="739.4" y1="242.4" x2="739.4" y2="274.6" class="t"/>
<circle cx="739.4" cy="258.6" r="10.3" fill="#fff" stroke="#555" stroke-width="0.9"/>
<path d="M739.4 258.6 L729.1 258.6 A10.3 10.3 0 0 1 739.4 248.3 Z" class="blk"/>
<path d="M739.4 258.6 L749.7 258.6 A10.3 10.3 0 0 1 739.4 268.9 Z" class="blk"/>
<line x1="1115" y1="258.6" x2="1176.7" y2="258.6" class="t"/>
<line x1="1130.7" y1="242.4" x2="1130.7" y2="274.6" class="t"/>
<circle cx="1130.7" cy="258.6" r="10.3" fill="#fff" stroke="#555" stroke-width="0.9"/>
<path d="M1130.7 258.6 L1141 258.6 A10.3 10.3 0 0 0 1130.7 248.3 Z" class="blk"/>
<path d="M1130.7 258.6 L1120.4 258.6 A10.3 10.3 0 0 0 1130.7 268.9 Z" class="blk"/>
<line x1="861.6" y1="448.2" x2="923.6" y2="448.2" class="t"/>
<line x1="908.3" y1="432" x2="908.3" y2="464.2" class="t"/>
<circle cx="908.3" cy="448.2" r="10.3" fill="#fff" stroke="#555" stroke-width="0.9"/>
<path d="M908.3 448.2 L898 448.2 A10.3 10.3 0 0 1 908.3 437.9 Z" class="blk"/>
<path d="M908.3 448.2 L918.6 448.2 A10.3 10.3 0 0 1 908.3 458.5 Z" class="blk"/>
<line x1="955.5" y1="448.2" x2="1018.6" y2="448.2" class="t"/>
<line x1="972.4" y1="432" x2="972.4" y2="464.2" class="t"/>
<circle cx="972.4" cy="448.2" r="10.3" fill="#fff" stroke="#555" stroke-width="0.9"/>
<path d="M972.4 448.2 L982.7 448.2 A10.3 10.3 0 0 0 972.4 437.9 Z" class="blk"/>
<path d="M972.4 448.2 L962.1 448.2 A10.3 10.3 0 0 0 972.4 458.5 Z" class="blk"/>
<line x1="292.5" y1="587.3" x2="355" y2="587.3" class="t"/>
<line x1="339" y1="571.1" x2="339" y2="603.3" class="t"/>
<circle cx="339" cy="587.3" r="10.3" fill="#fff" stroke="#555" stroke-width="0.9"/>
<path d="M339 587.3 L328.7 587.3 A10.3 10.3 0 0 1 339 577 Z" class="blk"/>
<path d="M339 587.3 L349.3 587.3 A10.3 10.3 0 0 1 339 597.6 Z" class="blk"/>
<line x1="1537" y1="587.3" x2="1599" y2="587.3" class="t"/>
<line x1="1553" y1="571.1" x2="1553" y2="603.3" class="t"/>
<circle cx="1553" cy="587.3" r="10.3" fill="#fff" stroke="#555" stroke-width="0.9"/>
<path d="M1553 587.3 L1563.3 587.3 A10.3 10.3 0 0 0 1553 577 Z" class="blk"/>
<path d="M1553 587.3 L1542.7 587.3 A10.3 10.3 0 0 0 1553 597.6 Z" class="blk"/>
<line x1="440" y1="586.9" x2="501.9" y2="586.9" class="t"/>
<line x1="486.5" y1="570.7" x2="486.5" y2="602.9" class="t"/>
<circle cx="486.5" cy="586.9" r="10.3" fill="#fff" stroke="#555" stroke-width="0.9"/>
<path d="M486.5 586.9 L476.2 586.9 A10.3 10.3 0 0 1 486.5 576.6 Z" class="blk"/>
<path d="M486.5 586.9 L496.8 586.9 A10.3 10.3 0 0 1 486.5 597.2 Z" class="blk"/>
<line x1="1372" y1="586.7" x2="1428.7" y2="586.7" class="t"/>
<line x1="1418" y1="570.5" x2="1418" y2="602.7" class="t"/>
<circle cx="1418" cy="586.7" r="10.3" fill="#fff" stroke="#555" stroke-width="0.9"/>
<path d="M1418 586.7 L1407.7 586.7 A10.3 10.3 0 0 1 1418 576.4 Z" class="blk"/>
<path d="M1418 586.7 L1428.3 586.7 A10.3 10.3 0 0 1 1418 597 Z" class="blk"/>
<line x1="145" y1="948.7" x2="206.8" y2="948.7" class="t"/>
<line x1="190.8" y1="932.5" x2="190.8" y2="964.7" class="t"/>
<circle cx="190.8" cy="948.7" r="10.3" fill="#fff" stroke="#555" stroke-width="0.9"/>
<path d="M190.8 948.7 L180.5 948.7 A10.3 10.3 0 0 1 190.8 938.4 Z" class="blk"/>
<path d="M190.8 948.7 L201.1 948.7 A10.3 10.3 0 0 1 190.8 959 Z" class="blk"/>
<line x1="1668.8" y1="948.6" x2="1731.3" y2="948.6" class="t"/>
<line x1="1684.4" y1="932.4" x2="1684.4" y2="964.6" class="t"/>
<circle cx="1684.4" cy="948.6" r="10.3" fill="#fff" stroke="#555" stroke-width="0.9"/>
<path d="M1684.4 948.6 L1694.7 948.6 A10.3 10.3 0 0 0 1684.4 938.3 Z" class="blk"/>
<path d="M1684.4 948.6 L1674.1 948.6 A10.3 10.3 0 0 0 1684.4 958.9 Z" class="blk"/>
</g>
<g id="sec">
<line x1="935.4" y1="788" x2="935.4" y2="960" class="tk"/>
<rect x="0" y="0" width="1876" height="1.4" class="blk"/>
<rect x="1871.5" y="0" width="2.6" height="960" class="blk"/>
<polyline points="3.1,554.5 25.5,532.1 25.5,564.6 195,564.6" class="sec"/>
<line x1="225" y1="564.6" x2="253" y2="564.6" class="sec"/>
<line x1="283" y1="564.6" x2="430" y2="564.6" class="sec"/>
<line x1="516" y1="564.6" x2="662" y2="564.6" class="sec"/>
<line x1="749" y1="564.6" x2="894.6" y2="564.6" class="sec"/>
<line x1="983" y1="564.6" x2="1128.5" y2="564.6" class="sec"/>
<line x1="1216" y1="564.6" x2="1362" y2="564.6" class="sec"/>
<line x1="1443.6" y1="564.6" x2="1596.6" y2="564.6" class="sec"/>
<polyline points="1626,564.6 1852.4,564.6 1852.4,533 1872,552.8" class="sec"/>
<line x1="430" y1="564.6" x2="516" y2="564.6" class="dc" style="stroke-dasharray:26 4 3 4;stroke-dashoffset:-4"/>
<line x1="662" y1="564.6" x2="749" y2="564.6" class="dc" style="stroke-dasharray:26 4 3 4;stroke-dashoffset:-4"/>
<line x1="1128.5" y1="564.6" x2="1216" y2="564.6" class="dc" style="stroke-dasharray:26 4 3 4;stroke-dashoffset:-4"/>
<line x1="1362" y1="564.6" x2="1443.6" y2="564.6" class="dc" style="stroke-dasharray:26 4 3 4;stroke-dashoffset:-4"/>
<polyline points="847.9,115.8 826.3,137.9 851.1,137.9 851.1,273.5" class="sec"/>
<line x1="851.1" y1="302.4" x2="851.1" y2="331.2" class="sec"/>
<line x1="851.1" y1="360.5" x2="851.1" y2="506" class="sec"/>
<line x1="851.1" y1="535.3" x2="851.1" y2="564.6" class="sec"/>
<line x1="851.1" y1="594" x2="851.1" y2="797" class="sec"/>
<line x1="851.1" y1="828" x2="851.1" y2="960" class="sec"/>
<polyline points="1353.3,115.8 1331.7,137.9 1386.9,137.9 1386.9,273.5" class="sec"/>
<line x1="1386.9" y1="302.4" x2="1386.9" y2="331.2" class="sec"/>
<line x1="1386.9" y1="360.5" x2="1386.9" y2="506" class="sec"/>
<line x1="1386.9" y1="535.3" x2="1386.9" y2="564.6" class="sec"/>
<line x1="1386.9" y1="594" x2="1386.9" y2="797" class="sec"/>
<line x1="1386.9" y1="828" x2="1386.9" y2="960" class="sec"/>
</g>
<g id="txt" opacity="0.999">
<text x="934.98" y="15" class="d" text-anchor="middle">27,40</text>
<text x="280.8" y="40.1" class="d" text-anchor="middle">13</text>
<text x="446.45" y="38.6" class="d" text-anchor="middle">6,20</text>
<text x="689.54" y="38.6" class="d" text-anchor="middle">4,22</text>
<text x="934.98" y="38.6" class="d" text-anchor="middle">6,30</text>
<text x="1180.41" y="38.6" class="d" text-anchor="middle">4,22</text>
<text x="1423.51" y="38.6" class="d" text-anchor="middle">6,20</text>
<text x="1590" y="40.1" class="d" text-anchor="middle">13</text>
<text x="308.8" y="63.4" class="d" text-anchor="middle">30</text>
<text x="446.45" y="61.9" class="d" text-anchor="middle">5,60</text>
<text x="584.09" y="63.4" class="d" text-anchor="middle">30</text>
<text x="682.55" y="61.9" class="d" text-anchor="middle">3,92</text>
<text x="781" y="63.4" class="d" text-anchor="middle">30</text>
<text x="857.99" y="61.9" class="d" text-anchor="middle">3,00</text>
<text x="934.98" y="63.4" class="d" text-anchor="middle">30</text>
<text x="1011.97" y="61.9" class="d" text-anchor="middle">3,00</text>
<text x="1088.95" y="63.4" class="d" text-anchor="middle">30</text>
<text x="1187.41" y="61.9" class="d" text-anchor="middle">3,92</text>
<text x="1285.86" y="63.4" class="d" text-anchor="middle">30</text>
<text x="1423.51" y="61.9" class="d" text-anchor="middle">5,60</text>
<text x="1561.15" y="63.4" class="d" text-anchor="middle">30</text>
<text x="308.8" y="86.6" class="d" text-anchor="middle">30</text>
<text x="374.12" y="85.1" class="d" text-anchor="middle">2,50</text>
<text x="415.4" y="86.6" class="d" text-anchor="middle">10</text>
<text x="507.1" y="85.1" class="d" text-anchor="middle">3,00</text>
<text x="562" y="86.6" class="d" text-anchor="middle">10</text>
<text x="677.88" y="85.1" class="d" text-anchor="middle">4,12</text>
<text x="781" y="86.6" class="d" text-anchor="middle">30</text>
<text x="857.99" y="85.1" class="d" text-anchor="middle">3,30</text>
<text x="934.98" y="86.6" class="d" text-anchor="middle">30</text>
<text x="1011.97" y="85.1" class="d" text-anchor="middle">3,00</text>
<text x="1088.95" y="86.6" class="d" text-anchor="middle">30</text>
<text x="1192.07" y="85.1" class="d" text-anchor="middle">4,12</text>
<text x="1271.6" y="86.6" class="d" text-anchor="middle">10</text>
<text x="1362.85" y="85.1" class="d" text-anchor="middle">3,00</text>
<text x="1422" y="86.6" class="d" text-anchor="middle">10</text>
<text x="1495.83" y="85.1" class="d" text-anchor="middle">2,50</text>
<text x="1561.15" y="86.6" class="d" text-anchor="middle">30</text>
<text x="323.96" y="109.9" class="d" text-anchor="middle">95</text>
<text x="374.12" y="108.4" class="d" text-anchor="middle">1,20</text>
<text x="440.61" y="108.4" class="d" text-anchor="middle">1,90</text>
<text x="507.1" y="108.4" class="d" text-anchor="middle">1,20</text>
<text x="563.1" y="108.4" class="d" text-anchor="middle">1,20</text>
<text x="598.56" y="109.9" class="d" text-anchor="middle">32</text>
<text x="690.01" y="108.4" class="d" text-anchor="middle">3,60</text>
<text x="781" y="109.9" class="d" text-anchor="middle">30</text>
<text x="793.83" y="109.9" class="d" text-anchor="middle">25</text>
<text x="857.99" y="108.4" class="d" text-anchor="middle">2,50</text>
<text x="922.14" y="109.9" class="d" text-anchor="middle">25</text>
<text x="934.98" y="109.9" class="d" text-anchor="middle">30</text>
<text x="947.81" y="109.9" class="d" text-anchor="middle">25</text>
<text x="1011.97" y="108.4" class="d" text-anchor="middle">2,50</text>
<text x="1076.12" y="109.9" class="d" text-anchor="middle">25</text>
<text x="1088.95" y="109.9" class="d" text-anchor="middle">30</text>
<text x="1179.94" y="108.4" class="d" text-anchor="middle">3,60</text>
<text x="1271.39" y="109.9" class="d" text-anchor="middle">32</text>
<text x="1306.86" y="108.4" class="d" text-anchor="middle">1,20</text>
<text x="1362.85" y="108.4" class="d" text-anchor="middle">1,20</text>
<text x="1429.34" y="108.4" class="d" text-anchor="middle">1,70</text>
<text x="1495.83" y="108.4" class="d" text-anchor="middle">1,20</text>
<text x="1545.99" y="109.9" class="d" text-anchor="middle">95</text>
<text x="689.75" y="132.2" class="d" text-anchor="middle">1,80</text>
<text x="748.65" y="133.7" class="d" text-anchor="middle">75</text>
<text x="780.15" y="133.7" class="d" text-anchor="middle">60</text>
<text x="1089.85" y="133.7" class="d" text-anchor="middle">60</text>
<text x="1121.35" y="133.7" class="d" text-anchor="middle">75</text>
<text x="1180.25" y="132.2" class="d" text-anchor="middle">1,80</text>
<text x="404.45" y="875.1" class="d" text-anchor="middle">4,40</text>
<text x="521.1" y="876.6" class="d" text-anchor="middle">60</text>
<text x="605.09" y="875.1" class="d" text-anchor="middle">3,00</text>
<text x="689.08" y="876.6" class="d" text-anchor="middle">60</text>
<text x="745.54" y="875.1" class="d" text-anchor="middle">1,82</text>
<text x="814.83" y="875.1" class="d" text-anchor="middle">1,15</text>
<text x="855.65" y="876.6" class="d" text-anchor="middle">60</text>
<text x="934.98" y="875.1" class="d" text-anchor="middle">2,80</text>
<text x="1014.3" y="876.6" class="d" text-anchor="middle">60</text>
<text x="1055.13" y="875.1" class="d" text-anchor="middle">1,15</text>
<text x="1124.42" y="875.1" class="d" text-anchor="middle">1,82</text>
<text x="1180.87" y="876.6" class="d" text-anchor="middle">60</text>
<text x="1264.86" y="875.1" class="d" text-anchor="middle">3,20</text>
<text x="1348.85" y="876.6" class="d" text-anchor="middle">60</text>
<text x="1465.5" y="875.1" class="d" text-anchor="middle">4,40</text>
<text x="308.8" y="900" class="d" text-anchor="middle">30</text>
<text x="385.79" y="898.5" class="d" text-anchor="middle">3,00</text>
<text x="434.3" y="900" class="d" text-anchor="middle">10</text>
<text x="518.77" y="898.5" class="d" text-anchor="middle">2,50</text>
<text x="584.09" y="900" class="d" text-anchor="middle">30</text>
<text x="607.42" y="900" class="d" text-anchor="middle">70</text>
<text x="640.6" y="900" class="d" text-anchor="middle">10</text>
<text x="701.21" y="898.5" class="d" text-anchor="middle">3,12</text>
<text x="781" y="900" class="d" text-anchor="middle">30</text>
<text x="857.99" y="898.5" class="d" text-anchor="middle">3,00</text>
<text x="934.98" y="900" class="d" text-anchor="middle">30</text>
<text x="1011.97" y="898.5" class="d" text-anchor="middle">3,00</text>
<text x="1088.95" y="900" class="d" text-anchor="middle">30</text>
<text x="1168.74" y="898.5" class="d" text-anchor="middle">3,12</text>
<text x="1227.3" y="900" class="d" text-anchor="middle">10</text>
<text x="1262.53" y="900" class="d" text-anchor="middle">70</text>
<text x="1285.86" y="900" class="d" text-anchor="middle">30</text>
<text x="1351.18" y="898.5" class="d" text-anchor="middle">2,50</text>
<text x="1399.2" y="900" class="d" text-anchor="middle">10</text>
<text x="1484.16" y="898.5" class="d" text-anchor="middle">3,00</text>
<text x="1561.15" y="900" class="d" text-anchor="middle">30</text>
<text x="276" y="923.5" class="d" text-anchor="middle">13</text>
<text x="544.9" y="922" class="d" text-anchor="middle">10,42</text>
<text x="934.98" y="922" class="d" text-anchor="middle">6,30</text>
<text x="1325.05" y="922" class="d" text-anchor="middle">10,42</text>
<text x="1587" y="923.5" class="d" text-anchor="middle">13</text>
<text x="615.36" y="945" class="d" text-anchor="middle">13,70 1. LAKÁS</text>
<text x="1254.6" y="945" class="d" text-anchor="middle">13,70 2. LAKÁS</text>
<text x="91.6" y="492.59" class="d" text-anchor="middle" transform="rotate(-90 91.6 492.59)">13,56</text>
<text x="91.6" y="832.57" class="d" text-anchor="middle" transform="rotate(-90 91.6 832.57)">1,00</text>
<text x="116.2" y="179" class="d" text-anchor="middle" transform="rotate(-90 116.2 179)">13</text>
<text x="114.9" y="361.94" class="d" text-anchor="middle" transform="rotate(-90 114.9 361.94)">7,70</text>
<text x="114.9" y="576.58" class="d" text-anchor="middle" transform="rotate(-90 114.9 576.58)">1,50</text>
<text x="114.9" y="707.22" class="d" text-anchor="middle" transform="rotate(-90 114.9 707.22)">4,10</text>
<text x="116.2" y="805.4" class="d" text-anchor="middle" transform="rotate(-90 116.2 805.4)">13</text>
<text x="139.2" y="189.3" class="d" text-anchor="middle" transform="rotate(-90 139.2 189.3)">30</text>
<text x="137.9" y="361.94" class="d" text-anchor="middle" transform="rotate(-90 137.9 361.94)">7,10</text>
<text x="139.2" y="534.58" class="d" text-anchor="middle" transform="rotate(-90 139.2 534.58)">30</text>
<text x="137.9" y="576.58" class="d" text-anchor="middle" transform="rotate(-90 137.9 576.58)">1,50</text>
<text x="139.2" y="618.57" class="d" text-anchor="middle" transform="rotate(-90 139.2 618.57)">30</text>
<text x="137.9" y="707.22" class="d" text-anchor="middle" transform="rotate(-90 137.9 707.22)">3,50</text>
<text x="139.2" y="795.88" class="d" text-anchor="middle" transform="rotate(-90 139.2 795.88)">30</text>
<text x="162.5" y="189.3" class="d" text-anchor="middle" transform="rotate(-90 162.5 189.3)">30</text>
<text x="161.2" y="289.62" class="d" text-anchor="middle" transform="rotate(-90 161.2 289.62)">4,00</text>
<text x="162.5" y="385.27" class="d" text-anchor="middle" transform="rotate(-90 162.5 385.27)">10</text>
<text x="161.2" y="457.59" class="d" text-anchor="middle" transform="rotate(-90 161.2 457.59)">3,00</text>
<text x="162.5" y="529.92" class="d" text-anchor="middle" transform="rotate(-90 162.5 529.92)">10</text>
<text x="161.2" y="576.58" class="d" text-anchor="middle" transform="rotate(-90 161.2 576.58)">1,90</text>
<text x="162.5" y="623.24" class="d" text-anchor="middle" transform="rotate(-90 162.5 623.24)">10</text>
<text x="161.2" y="707.22" class="d" text-anchor="middle" transform="rotate(-90 161.2 707.22)">3,50</text>
<text x="162.5" y="795.88" class="d" text-anchor="middle" transform="rotate(-90 162.5 795.88)">30</text>
<text x="186.3" y="189.3" class="d" text-anchor="middle" transform="rotate(-90 186.3 189.3)">30</text>
<text x="185" y="266.29" class="d" text-anchor="middle" transform="rotate(-90 185 266.29)">3,00</text>
<text x="186.3" y="338.61" class="d" text-anchor="middle" transform="rotate(-90 186.3 338.61)">10</text>
<text x="185" y="382.94" class="d" text-anchor="middle" transform="rotate(-90 185 382.94)">1,80</text>
<text x="186.3" y="427.26" class="d" text-anchor="middle" transform="rotate(-90 186.3 427.26)">10</text>
<text x="185" y="478.59" class="d" text-anchor="middle" transform="rotate(-90 185 478.59)">2,10</text>
<text x="186.3" y="529.92" class="d" text-anchor="middle" transform="rotate(-90 186.3 529.92)">10</text>
<text x="185" y="576.58" class="d" text-anchor="middle" transform="rotate(-90 185 576.58)">1,90</text>
<text x="186.3" y="623.24" class="d" text-anchor="middle" transform="rotate(-90 186.3 623.24)">10</text>
<text x="185" y="655.9" class="d" text-anchor="middle" transform="rotate(-90 185 655.9)">1,30</text>
<text x="186.3" y="688.56" class="d" text-anchor="middle" transform="rotate(-90 186.3 688.56)">10</text>
<text x="185" y="739.89" class="d" text-anchor="middle" transform="rotate(-90 185 739.89)">2,10</text>
<text x="186.3" y="795.88" class="d" text-anchor="middle" transform="rotate(-90 186.3 795.88)">30</text>
<text x="208.2" y="308.28" class="d" text-anchor="middle" transform="rotate(-90 208.2 308.28)">5,40</text>
<text x="208.2" y="462.26" class="d" text-anchor="middle" transform="rotate(-90 208.2 462.26)">1,20</text>
<text x="208.2" y="515.92" class="d" text-anchor="middle" transform="rotate(-90 208.2 515.92)">1,10</text>
<text x="209.5" y="547.41" class="d" text-anchor="middle" transform="rotate(-90 209.5 547.41)">25</text>
<text x="208.2" y="576.58" class="d" text-anchor="middle" transform="rotate(-90 208.2 576.58)">1,00</text>
<text x="209.5" y="605.74" class="d" text-anchor="middle" transform="rotate(-90 209.5 605.74)">25</text>
<text x="208.2" y="645.4" class="d" text-anchor="middle" transform="rotate(-90 208.2 645.4)">1,45</text>
<text x="208.2" y="707.23" class="d" text-anchor="middle" transform="rotate(-90 208.2 707.23)">1,20</text>
<text x="208.2" y="769.05" class="d" text-anchor="middle" transform="rotate(-90 208.2 769.05)">1,45</text>
<text x="1771.2" y="492.59" class="d" text-anchor="middle" transform="rotate(-90 1771.2 492.59)">13,56</text>
<text x="1771.2" y="832.57" class="d" text-anchor="middle" transform="rotate(-90 1771.2 832.57)">1,00</text>
<text x="1749.2" y="167" class="d" text-anchor="middle" transform="rotate(-90 1749.2 167)">13</text>
<text x="1747.9" y="361.94" class="d" text-anchor="middle" transform="rotate(-90 1747.9 361.94)">7,70</text>
<text x="1747.9" y="576.58" class="d" text-anchor="middle" transform="rotate(-90 1747.9 576.58)">1,50</text>
<text x="1747.9" y="707.22" class="d" text-anchor="middle" transform="rotate(-90 1747.9 707.22)">4,10</text>
<text x="1749.2" y="825.7" class="d" text-anchor="middle" transform="rotate(-90 1749.2 825.7)">13</text>
<text x="1726.2" y="189.3" class="d" text-anchor="middle" transform="rotate(-90 1726.2 189.3)">30</text>
<text x="1724.9" y="361.94" class="d" text-anchor="middle" transform="rotate(-90 1724.9 361.94)">7,10</text>
<text x="1726.2" y="534.58" class="d" text-anchor="middle" transform="rotate(-90 1726.2 534.58)">30</text>
<text x="1724.9" y="576.58" class="d" text-anchor="middle" transform="rotate(-90 1724.9 576.58)">1,50</text>
<text x="1726.2" y="618.57" class="d" text-anchor="middle" transform="rotate(-90 1726.2 618.57)">30</text>
<text x="1724.9" y="707.22" class="d" text-anchor="middle" transform="rotate(-90 1724.9 707.22)">3,50</text>
<text x="1726.2" y="795.88" class="d" text-anchor="middle" transform="rotate(-90 1726.2 795.88)">30</text>
<text x="1702.9" y="189.3" class="d" text-anchor="middle" transform="rotate(-90 1702.9 189.3)">30</text>
<text x="1701.6" y="289.62" class="d" text-anchor="middle" transform="rotate(-90 1701.6 289.62)">4,00</text>
<text x="1702.9" y="373.27" class="d" text-anchor="middle" transform="rotate(-90 1702.9 373.27)">10</text>
<text x="1701.6" y="457.59" class="d" text-anchor="middle" transform="rotate(-90 1701.6 457.59)">3,00</text>
<text x="1702.9" y="517.92" class="d" text-anchor="middle" transform="rotate(-90 1702.9 517.92)">10</text>
<text x="1701.6" y="576.58" class="d" text-anchor="middle" transform="rotate(-90 1701.6 576.58)">1,90</text>
<text x="1702.9" y="611.24" class="d" text-anchor="middle" transform="rotate(-90 1702.9 611.24)">10</text>
<text x="1701.6" y="707.22" class="d" text-anchor="middle" transform="rotate(-90 1701.6 707.22)">3,50</text>
<text x="1702.9" y="795.88" class="d" text-anchor="middle" transform="rotate(-90 1702.9 795.88)">30</text>
<text x="1679.1" y="189.3" class="d" text-anchor="middle" transform="rotate(-90 1679.1 189.3)">30</text>
<text x="1677.8" y="266.29" class="d" text-anchor="middle" transform="rotate(-90 1677.8 266.29)">3,00</text>
<text x="1679.1" y="326.61" class="d" text-anchor="middle" transform="rotate(-90 1679.1 326.61)">10</text>
<text x="1677.8" y="382.94" class="d" text-anchor="middle" transform="rotate(-90 1677.8 382.94)">1,80</text>
<text x="1679.1" y="415.26" class="d" text-anchor="middle" transform="rotate(-90 1679.1 415.26)">10</text>
<text x="1677.8" y="478.59" class="d" text-anchor="middle" transform="rotate(-90 1677.8 478.59)">2,10</text>
<text x="1679.1" y="517.92" class="d" text-anchor="middle" transform="rotate(-90 1679.1 517.92)">10</text>
<text x="1677.8" y="576.58" class="d" text-anchor="middle" transform="rotate(-90 1677.8 576.58)">1,90</text>
<text x="1679.1" y="611.24" class="d" text-anchor="middle" transform="rotate(-90 1679.1 611.24)">10</text>
<text x="1677.8" y="655.9" class="d" text-anchor="middle" transform="rotate(-90 1677.8 655.9)">1,30</text>
<text x="1679.1" y="702.56" class="d" text-anchor="middle" transform="rotate(-90 1679.1 702.56)">10</text>
<text x="1677.8" y="739.89" class="d" text-anchor="middle" transform="rotate(-90 1677.8 739.89)">2,10</text>
<text x="1679.1" y="795.88" class="d" text-anchor="middle" transform="rotate(-90 1679.1 795.88)">30</text>
<text x="1654.6" y="308.28" class="d" text-anchor="middle" transform="rotate(-90 1654.6 308.28)">5,40</text>
<text x="1654.6" y="462.26" class="d" text-anchor="middle" transform="rotate(-90 1654.6 462.26)">1,20</text>
<text x="1654.6" y="515.92" class="d" text-anchor="middle" transform="rotate(-90 1654.6 515.92)">1,10</text>
<text x="1655.9" y="547.41" class="d" text-anchor="middle" transform="rotate(-90 1655.9 547.41)">25</text>
<text x="1654.6" y="576.58" class="d" text-anchor="middle" transform="rotate(-90 1654.6 576.58)">1,00</text>
<text x="1655.9" y="605.74" class="d" text-anchor="middle" transform="rotate(-90 1655.9 605.74)">25</text>
<text x="1654.6" y="645.4" class="d" text-anchor="middle" transform="rotate(-90 1654.6 645.4)">1,45</text>
<text x="1654.6" y="707.23" class="d" text-anchor="middle" transform="rotate(-90 1654.6 707.23)">1,20</text>
<text x="1654.6" y="769.05" class="d" text-anchor="middle" transform="rotate(-90 1654.6 769.05)">1,45</text>
<text x="1630.9" y="575.5" class="d" text-anchor="middle" transform="rotate(-90 1630.9 575.5)">2,70</text>
<text x="278.4" y="660.6" class="d" text-anchor="middle">30</text>
<text x="293.95" y="660.6" class="d" text-anchor="middle">30</text>
<text x="1576.05" y="660.6" class="d" text-anchor="middle">30</text>
<text x="1591.6" y="660.6" class="d" text-anchor="middle">30</text>
<text x="1037.7" y="155.3" class="d" text-anchor="middle" transform="rotate(-90 1037.7 155.3)">30</text>
<text x="1037.7" y="169.3" class="d" text-anchor="middle" transform="rotate(-90 1037.7 169.3)">30</text>
<text x="1036.4" y="248.65" class="d" text-anchor="middle" transform="rotate(-90 1036.4 248.65)">3,10</text>
<text x="1037.7" y="311" class="d" text-anchor="middle" transform="rotate(-90 1037.7 311)">13</text>
<text x="1037.7" y="334.1" class="d" text-anchor="middle" transform="rotate(-90 1037.7 334.1)">30</text>
<text x="1037.7" y="355.5" class="d" text-anchor="middle" transform="rotate(-90 1037.7 355.5)">90</text>
<text x="1037.7" y="375" class="d" text-anchor="middle" transform="rotate(-90 1037.7 375)">13</text>
<text x="1037.7" y="396.2" class="d" text-anchor="middle" transform="rotate(-90 1037.7 396.2)">30</text>
<text x="1036.4" y="543.25" class="d" text-anchor="middle" transform="rotate(-90 1036.4 543.25)">6,00</text>
<text x="1037.7" y="671.7" class="d" text-anchor="middle" transform="rotate(-90 1037.7 671.7)">10</text>
<text x="1036.4" y="715.3" class="d" text-anchor="middle" transform="rotate(-90 1036.4 715.3)">1,17</text>
<text x="1037.7" y="749.6" class="d" text-anchor="middle" transform="rotate(-90 1037.7 749.6)">30</text>
<text x="1037.7" y="772" class="d" text-anchor="middle" transform="rotate(-90 1037.7 772)">13</text>
<text x="1036.4" y="795" class="d" text-anchor="middle" transform="rotate(-90 1036.4 795)">1,00</text>
<text x="1061.7" y="190.3" class="d" text-anchor="middle" transform="rotate(-90 1061.7 190.3)">60</text>
<text x="382.8" y="257" class="r">10.</text>
<text x="1486.3" y="273.5" class="r">10.</text>
<text x="504" y="257" class="r">9.</text>
<text x="1351.1" y="273.5" class="r">9.</text>
<text x="504" y="393.7" class="r">8.</text>
<text x="1351.1" y="393.7" class="r">8.</text>
<text x="382.8" y="480.7" class="r">11.</text>
<text x="1486.3" y="480.7" class="r">11.</text>
<text x="517.6" y="480.7" class="r">12.</text>
<text x="1319.3" y="480.7" class="r">12.</text>
<text x="303.8" y="570" class="r">15.</text>
<text x="1534.4" y="570" class="r">15.</text>
<text x="426.2" y="593" class="r">1.</text>
<text x="1441.5" y="593" class="r">1.</text>
<text x="506" y="654.3" class="r">2.</text>
<text x="1348.5" y="654.3" class="r">2.</text>
<text x="387.5" y="711.3" class="r">3.</text>
<text x="1467.7" y="711.3" class="r">3.</text>
<text x="506" y="757.9" class="r">4.</text>
<text x="1349" y="757.9" class="r">4.</text>
<text x="684.3" y="651.7" class="r">5.</text>
<text x="1170.8" y="651.7" class="r">5.</text>
<text x="684.3" y="488.8" class="r">6.</text>
<text x="1170.8" y="488.8" class="r">6.</text>
<text x="685.4" y="757.9" class="r">7.</text>
<text x="1171.3" y="757.9" class="r">7.</text>
<text x="869.1" y="651.7" class="r">13.</text>
<text x="976.5" y="651.7" class="r">13.</text>
<text x="869.1" y="720.9" class="r">14.</text>
<text x="976.5" y="720.9" class="r">14.</text>
<text x="650.1" y="234.7" class="b">TERASZ</text>
<text x="1164.9" y="234.7" class="b">TERASZ</text>
<text x="660.8" y="503.8" class="bm">Bm=2,60m</text>
<text x="1147.8" y="503.8" class="bm">Bm=2,60m</text>
<text x="858.4" y="503.8" class="bm">Bm=2,80m</text>
<text x="956.6" y="503.8" class="bm">Bm=2,80m</text>
<text x="637.8" y="602.5" class="d">60x60</text>
<text x="637.8" y="618" class="d">padlásfeljáró</text>
<text x="1163.9" y="602.2" class="d">60x60</text>
<text x="1163.9" y="618.2" class="d">padlásfeljáró</text>
<text x="972.2" y="612.2" class="d">60x60</text>
<text x="972.2" y="627.8" class="d">padlásfeljáró</text>
<text x="769.1" y="852.3" class="d">Telekhatár</text>
<text x="900.1" y="822.8" class="d">Hőszivattyú</text>
<text x="900.1" y="838.4" class="d">kültéri egység</text>
<text x="866.3" y="266" class="d" text-anchor="middle" transform="rotate(-90 866.3 266)">4%</text>
<text x="15" y="522.7" class="R">A</text>
<text x="1842.3" y="522.7" class="R">A</text>
<text x="801.6" y="147.6" class="R">C</text>
<text x="1307.4" y="147.6" class="R">B</text>
<text x="772.5" y="973.5" class="R">C</text>
<text x="1307" y="973.5" class="R">B</text>
<text x="369.92" y="162.4" class="s" text-anchor="middle" transform="rotate(-90 369.92 162.4)">120</text>
<text x="384.92" y="162.4" class="s" text-anchor="middle" transform="rotate(-90 384.92 162.4)">150</text>
<text x="371.52" y="209.4" class="s" text-anchor="end">pm</text>
<text x="375.72" y="209.4" class="s">90</text>
<text x="502.9" y="162.4" class="s" text-anchor="middle" transform="rotate(-90 502.9 162.4)">120</text>
<text x="517.9" y="162.4" class="s" text-anchor="middle" transform="rotate(-90 517.9 162.4)">150</text>
<text x="504.5" y="209.4" class="s" text-anchor="end">pm</text>
<text x="508.7" y="209.4" class="s">90</text>
<text x="256" y="458.06" class="s">120</text>
<text x="256" y="473.66" class="s">150</text>
<text x="326.5" y="477.76" class="s" transform="rotate(-90 326.5 477.76)">pm</text>
<text x="326.5" y="460.26" class="s" transform="rotate(-90 326.5 460.26)">90</text>
<text x="256" y="703.02" class="s">120</text>
<text x="256" y="718.62" class="s">150</text>
<text x="326.5" y="722.72" class="s" transform="rotate(-90 326.5 722.72)">pm</text>
<text x="326.5" y="705.22" class="s" transform="rotate(-90 326.5 705.22)">90</text>
<text x="518.5" y="785" class="s" text-anchor="end">pm</text>
<text x="522.9" y="785" class="s">180</text>
<text x="516.5" y="823.5" class="s" text-anchor="middle" transform="rotate(-90 516.5 823.5)">60</text>
<text x="531.9" y="823.5" class="s" text-anchor="middle" transform="rotate(-90 531.9 823.5)">60</text>
<text x="686.48" y="785" class="s" text-anchor="end">pm</text>
<text x="690.88" y="785" class="s">180</text>
<text x="684.48" y="823.5" class="s" text-anchor="middle" transform="rotate(-90 684.48 823.5)">60</text>
<text x="699.88" y="823.5" class="s" text-anchor="middle" transform="rotate(-90 699.88 823.5)">60</text>
<text x="853.05" y="738" class="s" text-anchor="end">pm</text>
<text x="857.45" y="738" class="s">180</text>
<text x="851.05" y="776" class="s" text-anchor="middle" transform="rotate(-90 851.05 776)">60</text>
<text x="866.45" y="776" class="s" text-anchor="middle" transform="rotate(-90 866.45 776)">60</text>
<text x="502.4" y="350.6" class="s" text-anchor="middle" transform="rotate(-90 502.4 350.6)">90</text>
<text x="517.4" y="348.8" class="s" text-anchor="middle" transform="rotate(-90 517.4 348.8)">210</text>
<text x="556" y="417" class="s" text-anchor="middle" transform="rotate(-90 556 417)">75</text>
<text x="570" y="414" class="s" text-anchor="middle" transform="rotate(-90 570 414)">210</text>
<text x="513.8" y="678" class="s" text-anchor="middle" transform="rotate(-90 513.8 678)">75</text>
<text x="528.8" y="675.6" class="s" text-anchor="middle" transform="rotate(-90 528.8 675.6)">210</text>
<text x="668.7" y="706.2" class="s" text-anchor="middle" transform="rotate(-90 668.7 706.2)">75</text>
<text x="683.7" y="703.3" class="s" text-anchor="middle" transform="rotate(-90 683.7 703.3)">210</text>
<text x="848.2" y="674.8" class="s" text-anchor="middle" transform="rotate(-90 848.2 674.8)">75</text>
<text x="863.3" y="672.1" class="s" text-anchor="middle" transform="rotate(-90 863.3 672.1)">210</text>
<text x="622.95" y="309.4" class="s" text-anchor="middle" transform="rotate(-90 622.95 309.4)">90</text>
<text x="638.65" y="308" class="s" text-anchor="middle" transform="rotate(-90 638.65 308)">240</text>
<text x="665.1" y="309.4" class="s" text-anchor="middle" transform="rotate(-90 665.1 309.4)">90</text>
<text x="680.8" y="308" class="s" text-anchor="middle" transform="rotate(-90 680.8 308)">240</text>
<text x="706.95" y="309.4" class="s" text-anchor="middle" transform="rotate(-90 706.95 309.4)">90</text>
<text x="722.65" y="308" class="s" text-anchor="middle" transform="rotate(-90 722.65 308)">240</text>
<text x="748.8" y="309.4" class="s" text-anchor="middle" transform="rotate(-90 748.8 309.4)">90</text>
<text x="764.5" y="308" class="s" text-anchor="middle" transform="rotate(-90 764.5 308)">240</text>
<text x="853.6" y="368.8" class="s" text-anchor="middle" transform="rotate(-90 853.6 368.8)">250</text>
<text x="869" y="368.8" class="s" text-anchor="middle" transform="rotate(-90 869 368.8)">215</text>
<text x="1491.68" y="162.4" class="s" text-anchor="middle" transform="rotate(-90 1491.68 162.4)">120</text>
<text x="1506.68" y="162.4" class="s" text-anchor="middle" transform="rotate(-90 1506.68 162.4)">150</text>
<text x="1493.28" y="209.4" class="s" text-anchor="end">pm</text>
<text x="1497.48" y="209.4" class="s">90</text>
<text x="1358.7" y="162.4" class="s" text-anchor="middle" transform="rotate(-90 1358.7 162.4)">120</text>
<text x="1373.7" y="162.4" class="s" text-anchor="middle" transform="rotate(-90 1373.7 162.4)">150</text>
<text x="1360.3" y="209.4" class="s" text-anchor="end">pm</text>
<text x="1364.5" y="209.4" class="s">90</text>
<text x="1599.6" y="458.06" class="s">120</text>
<text x="1599.6" y="473.66" class="s">150</text>
<text x="1551.3" y="477.76" class="s" transform="rotate(-90 1551.3 477.76)">pm</text>
<text x="1551.3" y="460.26" class="s" transform="rotate(-90 1551.3 460.26)">90</text>
<text x="1599.6" y="703.02" class="s">120</text>
<text x="1599.6" y="718.62" class="s">150</text>
<text x="1551.3" y="722.72" class="s" transform="rotate(-90 1551.3 722.72)">pm</text>
<text x="1551.3" y="705.22" class="s" transform="rotate(-90 1551.3 705.22)">90</text>
<text x="1346.3" y="785" class="s" text-anchor="end">pm</text>
<text x="1350.7" y="785" class="s">180</text>
<text x="1344.3" y="823.5" class="s" text-anchor="middle" transform="rotate(-90 1344.3 823.5)">60</text>
<text x="1359.7" y="823.5" class="s" text-anchor="middle" transform="rotate(-90 1359.7 823.5)">60</text>
<text x="1178.32" y="785" class="s" text-anchor="end">pm</text>
<text x="1182.72" y="785" class="s">180</text>
<text x="1176.32" y="823.5" class="s" text-anchor="middle" transform="rotate(-90 1176.32 823.5)">60</text>
<text x="1191.72" y="823.5" class="s" text-anchor="middle" transform="rotate(-90 1191.72 823.5)">60</text>
<text x="1011.75" y="738" class="s" text-anchor="end">pm</text>
<text x="1016.15" y="738" class="s">180</text>
<text x="1009.75" y="776" class="s" text-anchor="middle" transform="rotate(-90 1009.75 776)">60</text>
<text x="1025.15" y="776" class="s" text-anchor="middle" transform="rotate(-90 1025.15 776)">60</text>
<text x="1359.2" y="350.6" class="s" text-anchor="middle" transform="rotate(-90 1359.2 350.6)">90</text>
<text x="1374.2" y="348.8" class="s" text-anchor="middle" transform="rotate(-90 1374.2 348.8)">210</text>
<text x="1307.2" y="417" class="s" text-anchor="middle" transform="rotate(-90 1307.2 417)">75</text>
<text x="1321.2" y="414" class="s" text-anchor="middle" transform="rotate(-90 1321.2 414)">210</text>
<text x="1347.8" y="678" class="s" text-anchor="middle" transform="rotate(-90 1347.8 678)">75</text>
<text x="1362.8" y="675.6" class="s" text-anchor="middle" transform="rotate(-90 1362.8 675.6)">210</text>
<text x="1192.9" y="706.2" class="s" text-anchor="middle" transform="rotate(-90 1192.9 706.2)">75</text>
<text x="1207.9" y="703.3" class="s" text-anchor="middle" transform="rotate(-90 1207.9 703.3)">210</text>
<text x="1013.8" y="674.8" class="s" text-anchor="middle" transform="rotate(-90 1013.8 674.8)">75</text>
<text x="1027.9" y="672.1" class="s" text-anchor="middle" transform="rotate(-90 1027.9 672.1)">210</text>
<text x="1238.45" y="309.4" class="s" text-anchor="middle" transform="rotate(-90 1238.45 309.4)">90</text>
<text x="1254.15" y="308" class="s" text-anchor="middle" transform="rotate(-90 1254.15 308)">240</text>
<text x="1196.3" y="309.4" class="s" text-anchor="middle" transform="rotate(-90 1196.3 309.4)">90</text>
<text x="1212" y="308" class="s" text-anchor="middle" transform="rotate(-90 1212 308)">240</text>
<text x="1154.45" y="309.4" class="s" text-anchor="middle" transform="rotate(-90 1154.45 309.4)">90</text>
<text x="1170.15" y="308" class="s" text-anchor="middle" transform="rotate(-90 1170.15 308)">240</text>
<text x="1112.6" y="309.4" class="s" text-anchor="middle" transform="rotate(-90 1112.6 309.4)">90</text>
<text x="1128.3" y="308" class="s" text-anchor="middle" transform="rotate(-90 1128.3 308)">240</text>
<text x="1008.8" y="368.8" class="s" text-anchor="middle" transform="rotate(-90 1008.8 368.8)">250</text>
<text x="1024.2" y="368.8" class="s" text-anchor="middle" transform="rotate(-90 1024.2 368.8)">215</text>
<text x="440" y="358" class="s">90</text>
<text x="440" y="372.5" class="s">210</text>
<text x="1414.8" y="358" class="s">90</text>
<text x="1414.8" y="372.5" class="s">210</text>
<text x="559" y="384" class="s">100</text>
<text x="559" y="399.5" class="s">240</text>
<text x="1295.2" y="384" class="s">100</text>
<text x="1295.2" y="399.5" class="s">240</text>
<text x="388.8" y="572.3" class="s">100</text>
<text x="388.8" y="588.7" class="s">210+30</text>
<text x="1507.3" y="572.6" class="s">100</text>
<text x="1507.3" y="588.2" class="s">210+30</text>
<text x="463.8" y="642.5" class="s">90</text>
<text x="463.8" y="657.5" class="s">210</text>
<text x="1391.3" y="642.5" class="s">90</text>
<text x="1391.3" y="657.5" class="s">210</text>
<text x="561.3" y="583.5" class="s">145</text>
<text x="561.3" y="598.1" class="s">240</text>
<text x="1294.5" y="583.5" class="s">145</text>
<text x="1294.5" y="598.1" class="s">240</text>
<text x="595" y="750" class="s">150</text>
<text x="595" y="765" class="s">240</text>
<text x="1260" y="750" class="s">150</text>
<text x="1260" y="765" class="s">240</text>
<text x="798" y="358" class="s">90</text>
<text x="798" y="373" class="s">150</text>
<text x="1055.5" y="357.9" class="s">90</text>
<text x="1055.5" y="373.3" class="s">150</text>
<text x="772.6" y="378.5" class="s" transform="rotate(-90 772.6 378.5)">pm</text>
<text x="772.6" y="361" class="s" transform="rotate(-90 772.6 361)">90</text>
<text x="1106.6" y="377" class="s" transform="rotate(-90 1106.6 377)">pm</text>
<text x="1106.6" y="361.5" class="s" transform="rotate(-90 1106.6 361.5)">90</text>
<text x="460.6" y="398.2" class="s" text-anchor="middle" transform="rotate(-45 460.6 398.2)">90</text>
<text x="473.8" y="407.6" class="s" text-anchor="middle" transform="rotate(-45 473.8 407.6)">210</text>
<text x="1407.8" y="394.7" class="s" text-anchor="middle" transform="rotate(45 1407.8 394.7)">90</text>
<text x="1398.6" y="408.4" class="s" text-anchor="middle" transform="rotate(45 1398.6 408.4)">210</text>
<text x="624.9" y="345.5" class="d" text-anchor="middle" transform="rotate(-90 624.9 345.5)">20</text>
<text x="624.9" y="357.3" class="d" text-anchor="middle" transform="rotate(-90 624.9 357.3)">30</text>
<text x="623.6" y="424.9" class="d" text-anchor="middle" transform="rotate(-90 623.6 424.9)">2,60</text>
<text x="624.9" y="492.5" class="d" text-anchor="middle" transform="rotate(-90 624.9 492.5)">30</text>
<text x="623.6" y="560.2" class="d" text-anchor="middle" transform="rotate(-90 623.6 560.2)">2,60</text>
<text x="623.6" y="669.7" class="d" text-anchor="middle" transform="rotate(-90 623.6 669.7)">2,10</text>
<text x="1240.5" y="345.5" class="d" text-anchor="middle" transform="rotate(-90 1240.5 345.5)">20</text>
<text x="1240.5" y="357.3" class="d" text-anchor="middle" transform="rotate(-90 1240.5 357.3)">30</text>
<text x="1239.2" y="424.9" class="d" text-anchor="middle" transform="rotate(-90 1239.2 424.9)">2,60</text>
<text x="1240.5" y="492.5" class="d" text-anchor="middle" transform="rotate(-90 1240.5 492.5)">30</text>
<text x="1239.2" y="560.2" class="d" text-anchor="middle" transform="rotate(-90 1239.2 560.2)">2,60</text>
<text x="1239.2" y="669.7" class="d" text-anchor="middle" transform="rotate(-90 1239.2 669.7)">2,10</text>
<text x="41.2" y="140.4" class="cp" text-anchor="middle" transform="rotate(225 41.2 140.4)">É</text>
<text x="141.8" y="39" class="cp" text-anchor="middle" transform="rotate(225 141.8 39)">D</text>
<text x="69.6" y="60.9" class="cp" text-anchor="middle" transform="rotate(225 69.6 60.9)">K</text>
<text x="125" y="115.6" class="cp" text-anchor="middle" transform="rotate(225 125 115.6)">Ny</text>
<text x="863.8" y="151.2" class="lv">−0.40</text>
<text x="694.6" y="255.2" class="lv">−0.02</text>
<text x="1145.3" y="255.2" class="lv">−0.02</text>
<text x="863.8" y="444.8" class="lv">−0.20</text>
<text x="986.5" y="444.8" class="lv">−0.20</text>
<text x="295.2" y="583.9" class="lv">−0.02</text>
<text x="1567.6" y="583.9" class="lv">−0.02</text>
<text x="441.9" y="583.5" class="lv">±0.00</text>
<text x="1373.6" y="583.3" class="lv">±0.00</text>
<text x="147.1" y="945.3" class="lv">−0.40</text>
<text x="1699" y="945.2" class="lv">−0.40</text>
</g>
<g id="wm" opacity="0.3">
<g fill="none" stroke="#000" stroke-width="14">
<rect x="882" y="412.6" width="38.5" height="92.4" rx="19.25" ry="19.25"/>
<path d="M993.3 437 V431.9 A18.2 19.25 0 0 0 950.5 431.9 V485.7 A18.2 19.25 0 0 0 993.3 485.7 V480"/>
</g>
<path d="M904.7 389 V378 L937.7 360.4 L970.7 378 V389 L937.7 372 Z" fill="#000"/>
<text transform="translate(901.25 507.6) scale(0.52 1)" text-anchor="middle" style="font-family:'DejaVu Sans',sans-serif;font-weight:200;font-size:136px">O</text>
<text transform="translate(970.2 507.6) scale(0.635 1)" text-anchor="middle" style="font-family:'DejaVu Sans',sans-serif;font-weight:200;font-size:136px">C</text>
<text x="939.2" y="563" fill="#000" text-anchor="middle" textLength="122.5" lengthAdjust="spacingAndGlyphs" style="font-family:'Liberation Sans',sans-serif;font-weight:bold;font-size:38.6px">OTTHON</text>
<text x="939.2" y="600.3" fill="#000" text-anchor="middle" textLength="122.5" lengthAdjust="spacingAndGlyphs" style="font-family:'Liberation Sans',sans-serif;font-weight:bold;font-size:31.6px">CENTRUM</text>
</g>
</svg></body></html>
